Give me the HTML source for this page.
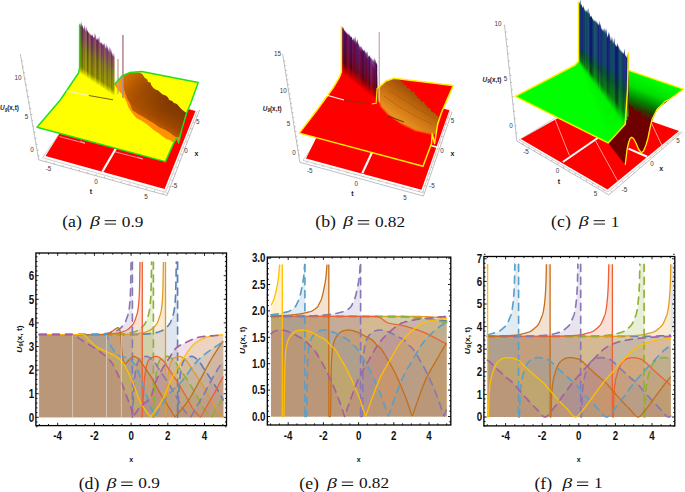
<!DOCTYPE html><html><head><meta charset="utf-8"><style>html,body{margin:0;padding:0;background:#fff;}svg{display:block;}text{font-family:"Liberation Sans",sans-serif;}</style></head><body>
<svg width="685" height="492" viewBox="0 0 685 492">
<defs>
<linearGradient id="wa1" x1="0" y1="0" x2="0" y2="1"><stop offset="0" stop-color="#f0e4f0"/><stop offset="0.05" stop-color="#6a1a70"/><stop offset="0.28" stop-color="#683058"/><stop offset="0.5" stop-color="#6a5a20"/><stop offset="0.86" stop-color="#7c7800"/><stop offset="0.95" stop-color="#c8c800"/><stop offset="1" stop-color="#ffff00"/></linearGradient>
<linearGradient id="wa2" x1="0" y1="0" x2="0" y2="1"><stop offset="0" stop-color="#f4ecf4"/><stop offset="0.05" stop-color="#7a3080"/><stop offset="0.28" stop-color="#784868"/><stop offset="0.5" stop-color="#7c7030"/><stop offset="0.86" stop-color="#909000"/><stop offset="0.95" stop-color="#d4d400"/><stop offset="1" stop-color="#ffff00"/></linearGradient>
<linearGradient id="wa3" x1="0" y1="0" x2="0" y2="1"><stop offset="0" stop-color="#e8dce8"/><stop offset="0.05" stop-color="#5a1060"/><stop offset="0.28" stop-color="#582448"/><stop offset="0.5" stop-color="#5a4c14"/><stop offset="0.86" stop-color="#6c6800"/><stop offset="0.95" stop-color="#bcbc00"/><stop offset="1" stop-color="#ffff00"/></linearGradient>
<linearGradient id="wb1" x1="0" y1="0" x2="0" y2="1"><stop offset="0" stop-color="#e8d8e8"/><stop offset="0.05" stop-color="#5a1a6e"/><stop offset="0.45" stop-color="#5a1450"/><stop offset="0.72" stop-color="#6a0a20"/><stop offset="0.88" stop-color="#c00000"/><stop offset="1" stop-color="#ff0000"/></linearGradient>
<linearGradient id="wb2" x1="0" y1="0" x2="0" y2="1"><stop offset="0" stop-color="#f0e0f0"/><stop offset="0.05" stop-color="#6a2a7c"/><stop offset="0.45" stop-color="#6a205c"/><stop offset="0.72" stop-color="#7a1028"/><stop offset="0.88" stop-color="#d00000"/><stop offset="1" stop-color="#ff0000"/></linearGradient>
<linearGradient id="wb3" x1="0" y1="0" x2="0" y2="1"><stop offset="0" stop-color="#dccce0"/><stop offset="0.05" stop-color="#4a0c5e"/><stop offset="0.45" stop-color="#4a0a40"/><stop offset="0.72" stop-color="#580418"/><stop offset="0.88" stop-color="#b00000"/><stop offset="1" stop-color="#ff0000"/></linearGradient>
<linearGradient id="wc1" gradientUnits="userSpaceOnUse" x1="602.5" y1="72.5" x2="587.9" y2="84.5"><stop offset="0" stop-color="#0a1a70"/><stop offset="0.35" stop-color="#0a3a40"/><stop offset="0.7" stop-color="#0a6a10"/><stop offset="1" stop-color="#00ff00"/></linearGradient>
<linearGradient id="wc2" gradientUnits="userSpaceOnUse" x1="602.5" y1="72.5" x2="587.9" y2="84.5"><stop offset="0" stop-color="#1a2a80"/><stop offset="0.35" stop-color="#104a48"/><stop offset="0.7" stop-color="#107a18"/><stop offset="1" stop-color="#00ff00"/></linearGradient>
<linearGradient id="wc3" gradientUnits="userSpaceOnUse" x1="602.5" y1="72.5" x2="587.9" y2="84.5"><stop offset="0" stop-color="#000c60"/><stop offset="0.35" stop-color="#002a30"/><stop offset="0.7" stop-color="#005a08"/><stop offset="1" stop-color="#00ff00"/></linearGradient>
<linearGradient id="humpA" gradientUnits="userSpaceOnUse" x1="146" y1="122" x2="162" y2="96"><stop offset="0" stop-color="#c85e00"/><stop offset="0.3" stop-color="#a04800"/><stop offset="0.65" stop-color="#8a3e00"/><stop offset="1" stop-color="#7e3800"/></linearGradient>
<linearGradient id="humpB" gradientUnits="userSpaceOnUse" x1="398" y1="118" x2="416" y2="94"><stop offset="0" stop-color="#e89020"/><stop offset="0.5" stop-color="#c87010"/><stop offset="1" stop-color="#a05008"/></linearGradient>
<linearGradient id="greenR" gradientUnits="userSpaceOnUse" x1="655" y1="80" x2="640" y2="118"><stop offset="0" stop-color="#00ff00"/><stop offset="0.35" stop-color="#00e000"/><stop offset="0.6" stop-color="#008a00"/><stop offset="0.8" stop-color="#2a3a00"/><stop offset="1" stop-color="#6e0000"/></linearGradient>
<linearGradient id="humpA2" gradientUnits="userSpaceOnUse" x1="126" y1="76" x2="160" y2="112"><stop offset="0" stop-color="#e07400" stop-opacity="0.9"/><stop offset="0.45" stop-color="#c06000" stop-opacity="0.45"/><stop offset="1" stop-color="#c06000" stop-opacity="0"/></linearGradient>
</defs>
<g fill="none" stroke-width="0.55">
<polyline points="20.3,54.0 38.7,159.8 167.0,195.5 199.6,110.0" stroke="#8a8a8a"/>
<polyline points="60.0,133.0 42.5,157.8 165.5,192.2 197.2,111.0" stroke="#a8a8a8"/>
</g>
<g stroke="#8a8a8a" stroke-width="0.5">
<line x1="21.5" y1="61.0" x2="23.1" y2="61.0"/>
<line x1="22.5" y1="66.9" x2="24.1" y2="66.9"/>
<line x1="23.6" y1="72.9" x2="25.2" y2="72.9"/>
<line x1="24.6" y1="78.8" x2="26.2" y2="78.8"/>
<line x1="25.6" y1="84.8" x2="27.2" y2="84.8"/>
<line x1="26.7" y1="90.7" x2="28.3" y2="90.7"/>
<line x1="27.7" y1="96.6" x2="29.3" y2="96.6"/>
<line x1="28.7" y1="102.6" x2="30.3" y2="102.6"/>
<line x1="29.8" y1="108.5" x2="31.4" y2="108.5"/>
<line x1="30.8" y1="114.4" x2="32.4" y2="114.4"/>
<line x1="31.8" y1="120.4" x2="33.4" y2="120.4"/>
<line x1="32.8" y1="126.3" x2="34.4" y2="126.3"/>
<line x1="33.9" y1="132.2" x2="35.5" y2="132.2"/>
<line x1="34.9" y1="138.2" x2="36.5" y2="138.2"/>
<line x1="35.9" y1="144.1" x2="37.5" y2="144.1"/>
<line x1="37.0" y1="150.1" x2="38.6" y2="150.1"/>
<line x1="38.0" y1="156.0" x2="39.6" y2="156.0"/>
<line x1="46.0" y1="162.0" x2="46.0" y2="160.4"/>
<line x1="54.4" y1="164.3" x2="54.4" y2="162.7"/>
<line x1="62.7" y1="166.6" x2="62.7" y2="165.0"/>
<line x1="71.1" y1="168.9" x2="71.1" y2="167.3"/>
<line x1="79.4" y1="171.1" x2="79.4" y2="169.5"/>
<line x1="87.8" y1="173.4" x2="87.8" y2="171.8"/>
<line x1="96.1" y1="175.7" x2="96.1" y2="174.1"/>
<line x1="104.5" y1="178.0" x2="104.5" y2="176.4"/>
<line x1="112.9" y1="180.3" x2="112.9" y2="178.7"/>
<line x1="121.2" y1="182.6" x2="121.2" y2="181.0"/>
<line x1="129.6" y1="184.9" x2="129.6" y2="183.3"/>
<line x1="137.9" y1="187.1" x2="137.9" y2="185.5"/>
<line x1="146.3" y1="189.4" x2="146.3" y2="187.8"/>
<line x1="154.6" y1="191.7" x2="154.6" y2="190.1"/>
<line x1="163.0" y1="194.0" x2="163.0" y2="192.4"/>
<line x1="168.0" y1="193.0" x2="166.4" y2="193.0"/>
<line x1="170.4" y1="186.6" x2="168.8" y2="186.6"/>
<line x1="172.8" y1="180.2" x2="171.2" y2="180.2"/>
<line x1="175.2" y1="173.8" x2="173.7" y2="173.8"/>
<line x1="177.7" y1="167.3" x2="176.1" y2="167.3"/>
<line x1="180.1" y1="160.9" x2="178.5" y2="160.9"/>
<line x1="182.5" y1="154.5" x2="180.9" y2="154.5"/>
<line x1="184.9" y1="148.1" x2="183.3" y2="148.1"/>
<line x1="187.3" y1="141.7" x2="185.7" y2="141.7"/>
<line x1="189.8" y1="135.2" x2="188.2" y2="135.2"/>
<line x1="192.2" y1="128.8" x2="190.6" y2="128.8"/>
<line x1="194.6" y1="122.4" x2="193.0" y2="122.4"/>
<line x1="197.0" y1="116.0" x2="195.4" y2="116.0"/>
</g>
<polygon points="45.5,156.0 164.6,189.0 195.5,111.0 92.0,82.0" fill="#ff0000"/>
<line x1="120" y1="141.5" x2="102.4" y2="171.6" stroke="#fff" stroke-width="2.1"/>
<polyline points="59.6,136.6 85.0,143.3 80.0,141.0" stroke="#ffc8c8" stroke-width="0.7" fill="none"/>
<polyline points="115.0,151.8 142.7,159.0 137.0,157.0" stroke="#ffc8c8" stroke-width="0.7" fill="none"/>
<polygon points="37.0,127.3 60.3,100.0 78.5,73.0 79.6,68.0 79.6,24.4 114.3,57.0 114.3,84.5 122.0,76.0 129.5,72.6 141.8,71.6 198.2,82.6 191.2,102.0 186.5,113.5 182.0,128.6 178.6,143.1 176.7,137.8 173.4,143.7 165.4,161.6" fill="#ffff00"/>
<polygon points="79.60,73.27 79.60,26.25 80.01,21.80 80.58,26.25 80.58,73.27" fill="url(#wa3)"/>
<polygon points="80.43,73.82 80.43,26.95 80.84,24.16 81.40,26.95 81.40,73.82" fill="url(#wa3)"/>
<polygon points="81.25,74.37 81.25,27.65 81.67,20.66 82.23,27.65 82.23,74.37" fill="url(#wa3)"/>
<polygon points="82.08,74.92 82.08,28.34 82.49,23.68 83.05,28.34 83.05,74.92" fill="url(#wa3)"/>
<polygon points="82.90,75.46 82.90,29.04 83.32,27.51 83.88,29.04 83.88,75.46" fill="url(#wa2)"/>
<polygon points="83.73,76.01 83.73,29.74 84.14,24.14 84.71,29.74 84.71,76.01" fill="url(#wa1)"/>
<polygon points="84.56,76.56 84.56,30.44 84.97,25.80 85.53,30.44 85.53,76.56" fill="url(#wa1)"/>
<polygon points="85.38,77.11 85.38,31.14 85.80,29.41 86.36,31.14 86.36,77.11" fill="url(#wa2)"/>
<polygon points="86.21,77.65 86.21,31.83 86.62,25.48 87.19,31.83 87.19,77.65" fill="url(#wa2)"/>
<polygon points="87.04,78.20 87.04,32.53 87.45,28.63 88.01,32.53 88.01,78.20" fill="url(#wa3)"/>
<polygon points="87.86,78.75 87.86,33.23 88.27,30.98 88.84,33.23 88.84,78.75" fill="url(#wa3)"/>
<polygon points="88.69,79.30 88.69,33.93 89.10,31.82 89.66,33.93 89.66,79.30" fill="url(#wa2)"/>
<polygon points="89.51,79.85 89.51,34.63 89.93,32.66 90.49,34.63 90.49,79.85" fill="url(#wa2)"/>
<polygon points="90.34,80.39 90.34,35.33 90.75,33.44 91.32,35.33 91.32,80.39" fill="url(#wa1)"/>
<polygon points="91.17,80.94 91.17,36.02 91.58,34.21 92.14,36.02 92.14,80.94" fill="url(#wa3)"/>
<polygon points="91.99,81.49 91.99,36.72 92.41,33.44 92.97,36.72 92.97,81.49" fill="url(#wa1)"/>
<polygon points="92.82,82.04 92.82,37.42 93.23,35.92 93.80,37.42 93.80,82.04" fill="url(#wa1)"/>
<polygon points="93.65,82.58 93.65,38.12 94.06,36.04 94.62,38.12 94.62,82.58" fill="url(#wa1)"/>
<polygon points="94.47,83.13 94.47,38.82 94.88,31.67 95.45,38.82 95.45,83.13" fill="url(#wa1)"/>
<polygon points="95.30,83.68 95.30,39.51 95.71,33.13 96.27,39.51 96.27,83.68" fill="url(#wa2)"/>
<polygon points="96.12,84.23 96.12,40.21 96.54,37.66 97.10,40.21 97.10,84.23" fill="url(#wa1)"/>
<polygon points="96.95,84.77 96.95,40.91 97.36,37.04 97.93,40.91 97.93,84.77" fill="url(#wa3)"/>
<polygon points="97.78,85.32 97.78,41.61 98.19,37.14 98.75,41.61 98.75,85.32" fill="url(#wa1)"/>
<polygon points="98.60,85.87 98.60,42.31 99.02,35.33 99.58,42.31 99.58,85.87" fill="url(#wa3)"/>
<polygon points="99.43,86.42 99.43,43.01 99.84,40.98 100.40,43.01 100.40,86.42" fill="url(#wa2)"/>
<polygon points="100.25,86.96 100.25,43.70 100.67,41.22 101.23,43.70 101.23,86.96" fill="url(#wa2)"/>
<polygon points="101.08,87.51 101.08,44.40 101.49,41.30 102.06,44.40 102.06,87.51" fill="url(#wa1)"/>
<polygon points="101.91,88.06 101.91,45.10 102.32,42.79 102.88,45.10 102.88,88.06" fill="url(#wa2)"/>
<polygon points="102.73,88.61 102.73,45.80 103.15,43.31 103.71,45.80 103.71,88.61" fill="url(#wa3)"/>
<polygon points="103.56,89.15 103.56,46.50 103.97,42.30 104.54,46.50 104.54,89.15" fill="url(#wa3)"/>
<polygon points="104.39,89.70 104.39,47.20 104.80,42.35 105.36,47.20 105.36,89.70" fill="url(#wa2)"/>
<polygon points="105.21,90.25 105.21,48.02 105.62,46.42 106.19,48.02 106.19,90.25" fill="url(#wa2)"/>
<polygon points="106.04,90.80 106.04,49.02 106.45,43.07 107.01,49.02 107.01,90.80" fill="url(#wa2)"/>
<polygon points="106.86,91.35 106.86,50.02 107.28,45.03 107.84,50.02 107.84,91.35" fill="url(#wa1)"/>
<polygon points="107.69,91.89 107.69,51.01 108.10,47.51 108.67,51.01 108.67,91.89" fill="url(#wa3)"/>
<polygon points="108.52,92.44 108.52,52.01 108.93,50.07 109.49,52.01 109.49,92.44" fill="url(#wa2)"/>
<polygon points="109.34,92.99 109.34,53.01 109.76,45.73 110.32,53.01 110.32,92.99" fill="url(#wa1)"/>
<polygon points="110.17,93.54 110.17,54.01 110.58,46.96 111.15,54.01 111.15,93.54" fill="url(#wa2)"/>
<polygon points="111.00,94.08 111.00,55.01 111.41,48.85 111.97,55.01 111.97,94.08" fill="url(#wa1)"/>
<polygon points="111.82,94.63 111.82,56.00 112.23,52.06 112.80,56.00 112.80,94.63" fill="url(#wa2)"/>
<polygon points="112.65,95.18 112.65,57.00 113.06,54.17 113.62,57.00 113.62,95.18" fill="url(#wa3)"/>
<polygon points="113.47,95.73 113.47,58.00 113.89,51.87 114.45,58.00 114.45,95.73" fill="url(#wa2)"/>
<polygon points="114.3,84.5 122.0,76.0 129.5,72.6 139.4,72.8 142.5,74.6 144.4,77.8 147.3,79.8 147.7,82.1 150.4,82.8 151.0,85.0 152.8,87.6 155.1,89.4 158.0,90.5 160.2,92.6 162.5,94.5 165.4,95.6 167.8,97.2 169.2,99.9 172.0,101.0 173.9,103.1 176.8,103.9 178.6,106.1 180.7,108.4 183.0,110.6 185.6,112.4 186.5,112.8 182.0,128.6 178.6,143.1 176.7,137.8 173.4,143.7 174.7,141.8 172.4,141.9 170.7,140.4 166.4,139.1 162.8,136.5 158.3,133.1 153.6,129.9 149.6,126.6 145.6,123.3 141.0,120.6 136.4,118.0 132.2,112.9 128.5,107.4 126.6,102.1 124.0,97.0 121.2,93.3 118.0,90.0" fill="#ff9200"/>
<polygon points="123.0,77.0 129.5,72.8 139.4,72.8 142.5,74.6 144.4,77.8 147.3,79.8 147.7,82.1 150.4,82.8 151.0,85.0 152.8,87.6 155.1,89.4 158.0,90.5 160.2,92.6 162.5,94.5 165.4,95.6 167.8,97.2 169.2,99.9 172.0,101.0 173.9,103.1 176.8,103.9 178.6,106.1 180.7,108.4 183.0,110.6 185.6,112.4 186.3,112.8 182.0,128.6 179.0,137.0 177.0,137.2 175.8,137.1 174.7,136.5 170.2,133.0 165.4,129.9 159.1,127.3 153.6,123.3 148.2,120.1 143.0,116.7 137.5,113.7 132.4,110.1 130.4,103.9 127.2,98.2 124.9,91.7 123.2,85.0" fill="url(#humpA)"/>
<polygon points="123.0,77.0 129.5,72.8 139.4,72.8 142.5,74.6 144.4,77.8 147.3,79.8 147.7,82.1 150.4,82.8 151.0,85.0 152.8,87.6 155.1,89.4 158.0,90.5 160.2,92.6 162.5,94.5 165.4,95.6 167.8,97.2 169.2,99.9 172.0,101.0 173.9,103.1 176.8,103.9 178.6,106.1 180.7,108.4 183.0,110.6 185.6,112.4 186.3,112.8 182.0,128.6 179.0,137.0 177.0,137.2 175.8,137.1 174.7,136.5 170.2,133.0 165.4,129.9 159.1,127.3 153.6,123.3 148.2,120.1 143.0,116.7 137.5,113.7 132.4,110.1 130.4,103.9 127.2,98.2 124.9,91.7 123.2,85.0" fill="url(#humpA2)"/>
<line x1="118" y1="58.9" x2="118" y2="94" stroke="#c4a28c" stroke-width="1.3"/>
<line x1="122.9" y1="35.1" x2="122.9" y2="98" stroke="#b88a96" stroke-width="1.6"/>
<polyline points="79.6,24.4 79.6,68.0 78.5,73.0 60.3,100.0 37.0,127.3 165.4,161.6 173.4,143.7 176.7,137.8 178.6,143.1 182.0,128.6 186.5,113.5 191.2,102.0 198.2,82.6 141.8,71.6 129.5,72.6 122.0,76.0 114.3,84.5" fill="none" stroke="#1fe01f" stroke-width="1.5" stroke-linejoin="round"/>
<polyline points="66.4,90.9 88.8,95.5" stroke="#f4f4e0" stroke-width="1" fill="none"/>
<polyline points="88.8,95.5 113,99.8" stroke="#5a3a00" stroke-width="0.8" fill="none"/>
<g font-size="6.3" fill="#3a3a3a" text-anchor="middle">
<text x="18" y="80.2">10</text>
<text x="26.5" y="119.2">5</text>
<text x="32" y="152.2">0</text>
<text x="48.5" y="171.2">-5</text>
<text x="96" y="184.2">0</text>
<text x="146" y="198.6">5</text>
<text x="197.8" y="123.5">5</text>
<text x="185.9" y="153.0">0</text>
<text x="174.4" y="187.5">-5</text>
</g>
<text x="91" y="193.5" font-size="7" font-weight="bold" fill="#222" text-anchor="middle">t</text>
<text x="196.5" y="156" font-size="7" font-weight="bold" fill="#222" text-anchor="middle">x</text>
<text x="0" y="110.3" font-size="6.4" font-weight="bold" fill="#222" font-style="italic">U<tspan font-size="4.6" dy="1.6">9</tspan><tspan dy="-1.6" font-style="normal">(x,t)</tspan></text>
<g fill="none" stroke-width="0.55">
<polyline points="282.7,54.2 299.8,162.3 423.4,196.0 452.0,112.0" stroke="#8a8a8a"/>
<polyline points="320.0,137.0 303.0,160.3 422.5,192.6 450.0,111.3" stroke="#a8a8a8"/>
</g>
<g stroke="#8a8a8a" stroke-width="0.5">
<line x1="283.8" y1="61.0" x2="285.4" y2="61.0"/>
<line x1="284.5" y1="65.7" x2="286.1" y2="65.7"/>
<line x1="285.3" y1="70.4" x2="286.9" y2="70.4"/>
<line x1="286.0" y1="75.1" x2="287.6" y2="75.1"/>
<line x1="286.8" y1="79.8" x2="288.4" y2="79.8"/>
<line x1="287.5" y1="84.5" x2="289.1" y2="84.5"/>
<line x1="288.2" y1="89.2" x2="289.8" y2="89.2"/>
<line x1="289.0" y1="93.9" x2="290.6" y2="93.9"/>
<line x1="289.7" y1="98.6" x2="291.3" y2="98.6"/>
<line x1="290.5" y1="103.3" x2="292.1" y2="103.3"/>
<line x1="291.2" y1="108.0" x2="292.8" y2="108.0"/>
<line x1="291.9" y1="112.7" x2="293.5" y2="112.7"/>
<line x1="292.7" y1="117.4" x2="294.3" y2="117.4"/>
<line x1="293.4" y1="122.1" x2="295.0" y2="122.1"/>
<line x1="294.2" y1="126.8" x2="295.8" y2="126.8"/>
<line x1="294.9" y1="131.5" x2="296.5" y2="131.5"/>
<line x1="295.6" y1="136.2" x2="297.2" y2="136.2"/>
<line x1="296.4" y1="140.9" x2="298.0" y2="140.9"/>
<line x1="297.1" y1="145.6" x2="298.7" y2="145.6"/>
<line x1="297.9" y1="150.3" x2="299.5" y2="150.3"/>
<line x1="298.6" y1="155.0" x2="300.2" y2="155.0"/>
<line x1="307.0" y1="163.0" x2="307.0" y2="161.4"/>
<line x1="315.0" y1="165.1" x2="315.0" y2="163.5"/>
<line x1="323.0" y1="167.1" x2="323.0" y2="165.5"/>
<line x1="331.0" y1="169.2" x2="331.0" y2="167.6"/>
<line x1="339.0" y1="171.3" x2="339.0" y2="169.7"/>
<line x1="347.0" y1="173.4" x2="347.0" y2="171.8"/>
<line x1="355.0" y1="175.4" x2="355.0" y2="173.8"/>
<line x1="363.0" y1="177.5" x2="363.0" y2="175.9"/>
<line x1="371.0" y1="179.6" x2="371.0" y2="178.0"/>
<line x1="379.0" y1="181.6" x2="379.0" y2="180.0"/>
<line x1="387.0" y1="183.7" x2="387.0" y2="182.1"/>
<line x1="395.0" y1="185.8" x2="395.0" y2="184.2"/>
<line x1="403.0" y1="187.9" x2="403.0" y2="186.3"/>
<line x1="411.0" y1="189.9" x2="411.0" y2="188.3"/>
<line x1="419.0" y1="192.0" x2="419.0" y2="190.4"/>
<line x1="424.0" y1="192.0" x2="422.4" y2="192.0"/>
<line x1="426.1" y1="185.8" x2="424.5" y2="185.8"/>
<line x1="428.2" y1="179.7" x2="426.6" y2="179.7"/>
<line x1="430.2" y1="173.5" x2="428.6" y2="173.5"/>
<line x1="432.3" y1="167.3" x2="430.7" y2="167.3"/>
<line x1="434.4" y1="161.2" x2="432.8" y2="161.2"/>
<line x1="436.5" y1="155.0" x2="434.9" y2="155.0"/>
<line x1="438.6" y1="148.8" x2="437.0" y2="148.8"/>
<line x1="440.7" y1="142.7" x2="439.1" y2="142.7"/>
<line x1="442.8" y1="136.5" x2="441.1" y2="136.5"/>
<line x1="444.8" y1="130.3" x2="443.2" y2="130.3"/>
<line x1="446.9" y1="124.2" x2="445.3" y2="124.2"/>
<line x1="449.0" y1="118.0" x2="447.4" y2="118.0"/>
</g>
<polygon points="306.0,158.5 421.5,189.8 449.4,110.3 345.0,80.0" fill="#ff0000"/>
<line x1="375" y1="146" x2="362.3" y2="173.2" stroke="#fff" stroke-width="2.1"/>
<line x1="431" y1="145.5" x2="438" y2="147.5" stroke="#fff" stroke-width="1.6"/>
<polygon points="299.3,133.1 317.0,110.0 333.0,88.0 339.5,77.0 341.4,72.0 341.4,26.4 372.5,64.8 377.1,75.0 377.5,88.4 386.0,81.0 393.8,78.3 453.2,85.6 441.3,113.0 437.7,124.0 436.5,131.0 434.6,143.5 432.2,134.0 431.5,143.5 423.0,166.2" fill="#ff0000"/>
<polygon points="341.40,73.47 341.40,28.54 342.00,25.93 342.74,28.54 342.74,73.47" fill="url(#wb1)"/>
<polygon points="342.59,74.40 342.59,29.82 343.19,26.83 343.93,29.82 343.93,74.40" fill="url(#wb1)"/>
<polygon points="343.78,75.33 343.78,31.10 344.38,29.48 345.12,31.10 345.12,75.33" fill="url(#wb3)"/>
<polygon points="344.97,76.27 344.97,32.38 345.56,30.71 346.31,32.38 346.31,76.27" fill="url(#wb3)"/>
<polygon points="346.16,77.20 346.16,33.66 346.75,32.08 347.50,33.66 347.50,77.20" fill="url(#wb3)"/>
<polygon points="347.35,78.13 347.35,34.94 347.94,32.84 348.69,34.94 348.69,78.13" fill="url(#wb1)"/>
<polygon points="348.54,79.07 348.54,36.22 349.13,33.01 349.88,36.22 349.88,79.07" fill="url(#wb1)"/>
<polygon points="349.73,80.00 349.73,37.50 350.32,35.29 351.07,37.50 351.07,80.00" fill="url(#wb3)"/>
<polygon points="350.92,80.93 350.92,38.78 351.52,35.62 352.26,38.78 352.26,80.93" fill="url(#wb3)"/>
<polygon points="352.11,81.87 352.11,40.06 352.71,38.30 353.45,40.06 353.45,81.87" fill="url(#wb1)"/>
<polygon points="353.30,82.80 353.30,41.34 353.90,36.84 354.64,41.34 354.64,82.80" fill="url(#wb3)"/>
<polygon points="354.49,83.73 354.49,42.62 355.09,35.58 355.83,42.62 355.83,83.73" fill="url(#wb3)"/>
<polygon points="355.68,84.67 355.68,43.90 356.28,39.71 357.02,43.90 357.02,84.67" fill="url(#wb1)"/>
<polygon points="356.87,85.60 356.87,45.18 357.47,37.89 358.21,45.18 358.21,85.60" fill="url(#wb1)"/>
<polygon points="358.06,86.53 358.06,46.46 358.66,42.47 359.40,46.46 359.40,86.53" fill="url(#wb1)"/>
<polygon points="359.25,87.47 359.25,47.74 359.85,45.30 360.59,47.74 360.59,87.47" fill="url(#wb1)"/>
<polygon points="360.44,88.40 360.44,49.02 361.04,45.13 361.78,49.02 361.78,88.40" fill="url(#wb3)"/>
<polygon points="361.63,89.33 361.63,50.30 362.23,47.77 362.97,50.30 362.97,89.33" fill="url(#wb3)"/>
<polygon points="362.82,90.27 362.82,51.58 363.42,49.62 364.16,51.58 364.16,90.27" fill="url(#wb3)"/>
<polygon points="364.01,91.20 364.01,52.86 364.61,48.77 365.35,52.86 365.35,91.20" fill="url(#wb1)"/>
<polygon points="365.20,92.13 365.20,54.14 365.80,51.28 366.54,54.14 366.54,92.13" fill="url(#wb3)"/>
<polygon points="366.39,93.07 366.39,55.42 366.99,50.31 367.73,55.42 367.73,93.07" fill="url(#wb3)"/>
<polygon points="367.58,94.00 367.58,56.70 368.18,55.11 368.92,56.70 368.92,94.00" fill="url(#wb1)"/>
<polygon points="368.77,94.93 368.77,57.98 369.37,54.38 370.11,57.98 370.11,94.93" fill="url(#wb3)"/>
<polygon points="369.96,95.87 369.96,59.26 370.56,56.08 371.30,59.26 371.30,95.87" fill="url(#wb2)"/>
<polygon points="371.15,96.80 371.15,60.54 371.75,57.13 372.49,60.54 372.49,96.80" fill="url(#wb2)"/>
<polygon points="372.34,97.73 372.34,61.82 372.94,59.02 373.68,61.82 373.68,97.73" fill="url(#wb1)"/>
<polygon points="373.53,98.67 373.53,63.10 374.13,57.35 374.87,63.10 374.87,98.67" fill="url(#wb3)"/>
<polygon points="374.72,99.60 374.72,64.38 375.32,58.75 376.06,64.38 376.06,99.60" fill="url(#wb1)"/>
<polygon points="375.91,100.53 375.91,65.66 376.51,61.55 377.25,65.66 377.25,100.53" fill="url(#wb3)"/>
<polygon points="377.5,88.4 386.0,81.0 393.8,78.3 399.3,80.1 400.9,80.6 401.7,82.1 403.5,82.5 403.6,84.8 405.8,84.7 406.5,86.3 407.1,88.1 409.2,88.1 410.2,89.3 411.0,91.8 414.3,91.7 414.7,94.6 416.8,95.8 417.6,98.2 420.2,98.9 420.9,101.4 423.9,101.6 424.9,103.9 426.3,105.5 427.4,107.5 429.7,108.1 430.8,110.0 432.0,111.9 434.3,112.5 435.5,114.3 437.0,115.7 439.0,116.7 437.7,124.0 436.5,131.0 434.0,134.5 434.0,134.5 415.7,130.5 401.1,123.5 388.3,114.5 381.0,106.5 378.0,98.0" fill="url(#humpB)"/>
<polyline points="434.0,134.5 415.7,130.5 401.1,123.5 388.3,114.5 381.0,106.5 378.0,98.0" fill="none" stroke="#ff5a10" stroke-width="2" stroke-opacity="0.6"/>
<g stroke="#a05010" stroke-width="1" stroke-opacity="0.45" fill="none"><polyline points="384,96 398,106 415,116 432,124"/><polyline points="388,90 404,100 420,110 434,118"/></g>
<polyline points="388,116 396,119 404,122" stroke="#503000" stroke-width="0.9" fill="none"/>
<line x1="379.3" y1="31.9" x2="379.3" y2="102" stroke="#d0b0c0" stroke-width="1.4"/>
<polyline points="341.4,26.4 341.4,72.0 339.5,77.0 333.0,88.0 317.0,110.0 299.3,133.1 423.0,166.2 431.5,143.5 432.2,134.0 434.6,143.5 436.5,131.0 437.7,124.0 441.3,113.0 453.2,85.6 393.8,78.3 386.0,81.0 377.5,88.4" fill="none" stroke="#ffee00" stroke-width="1.5" stroke-linejoin="round"/>
<polyline points="371.6,104 376.2,103.2 377.1,88" fill="none" stroke="#ffdd00" stroke-width="1.2"/>
<polyline points="326,95 344,100" stroke="#fff" stroke-width="1.1" fill="none"/>
<polyline points="344,100 372,104" stroke="#8a3000" stroke-width="0.8" fill="none"/>
<g font-size="6.3" fill="#3a3a3a" text-anchor="middle">
<text x="277.6" y="55.8">15</text>
<text x="283.3" y="93.4">10</text>
<text x="288.4" y="126.1">5</text>
<text x="294" y="154.8">0</text>
<text x="309.7" y="173.2">-5</text>
<text x="356.2" y="185.6">0</text>
<text x="405.1" y="199.5">5</text>
<text x="431.9" y="188.2">-5</text>
<text x="441.9" y="152.7">0</text>
<text x="452.5" y="122.7">5</text>
</g>
<text x="352.3" y="195.8" font-size="7" font-weight="bold" fill="#222" text-anchor="middle">t</text>
<text x="452.4" y="155.6" font-size="7" font-weight="bold" fill="#222" text-anchor="middle">x</text>
<text x="262.8" y="110.5" font-size="6.4" font-weight="bold" fill="#222" font-style="italic">U<tspan font-size="4.6" dy="1.6">9</tspan><tspan dy="-1.6" font-style="normal">(x,t)</tspan></text>
<g fill="none" stroke-width="0.55">
<polyline points="504.5,24.7 516.8,141.0 608.8,194.9 682.4,131.8" stroke="#8a8a8a"/>
<polyline points="556.0,117.5 519.0,140.0 608.0,192.0 680.5,131.5" stroke="#a8a8a8"/>
</g>
<g stroke="#8a8a8a" stroke-width="0.5">
<line x1="505.5" y1="32.0" x2="507.1" y2="32.0"/>
<line x1="506.2" y1="39.2" x2="507.8" y2="39.2"/>
<line x1="507.0" y1="46.4" x2="508.6" y2="46.4"/>
<line x1="507.7" y1="53.6" x2="509.3" y2="53.6"/>
<line x1="508.4" y1="60.9" x2="510.0" y2="60.9"/>
<line x1="509.2" y1="68.1" x2="510.8" y2="68.1"/>
<line x1="509.9" y1="75.3" x2="511.5" y2="75.3"/>
<line x1="510.6" y1="82.5" x2="512.2" y2="82.5"/>
<line x1="511.4" y1="89.7" x2="513.0" y2="89.7"/>
<line x1="512.1" y1="96.9" x2="513.7" y2="96.9"/>
<line x1="512.9" y1="104.1" x2="514.5" y2="104.1"/>
<line x1="513.6" y1="111.4" x2="515.2" y2="111.4"/>
<line x1="514.3" y1="118.6" x2="515.9" y2="118.6"/>
<line x1="515.1" y1="125.8" x2="516.7" y2="125.8"/>
<line x1="515.8" y1="133.0" x2="517.4" y2="133.0"/>
<line x1="523.0" y1="145.0" x2="523.0" y2="143.4"/>
<line x1="528.8" y1="148.3" x2="528.8" y2="146.7"/>
<line x1="534.6" y1="151.6" x2="534.6" y2="150.0"/>
<line x1="540.4" y1="154.9" x2="540.4" y2="153.3"/>
<line x1="546.1" y1="158.1" x2="546.1" y2="156.5"/>
<line x1="551.9" y1="161.4" x2="551.9" y2="159.8"/>
<line x1="557.7" y1="164.7" x2="557.7" y2="163.1"/>
<line x1="563.5" y1="168.0" x2="563.5" y2="166.4"/>
<line x1="569.3" y1="171.3" x2="569.3" y2="169.7"/>
<line x1="575.1" y1="174.6" x2="575.1" y2="173.0"/>
<line x1="580.9" y1="177.9" x2="580.9" y2="176.3"/>
<line x1="586.6" y1="181.1" x2="586.6" y2="179.5"/>
<line x1="592.4" y1="184.4" x2="592.4" y2="182.8"/>
<line x1="598.2" y1="187.7" x2="598.2" y2="186.1"/>
<line x1="604.0" y1="191.0" x2="604.0" y2="189.4"/>
<line x1="612.0" y1="192.0" x2="610.8" y2="191.0"/>
<line x1="617.6" y1="187.2" x2="616.4" y2="186.2"/>
<line x1="623.2" y1="182.3" x2="622.0" y2="181.3"/>
<line x1="628.8" y1="177.5" x2="627.5" y2="176.5"/>
<line x1="634.3" y1="172.7" x2="633.1" y2="171.7"/>
<line x1="639.9" y1="167.8" x2="638.7" y2="166.8"/>
<line x1="645.5" y1="163.0" x2="644.3" y2="162.0"/>
<line x1="651.1" y1="158.2" x2="649.9" y2="157.2"/>
<line x1="656.7" y1="153.3" x2="655.5" y2="152.3"/>
<line x1="662.2" y1="148.5" x2="661.0" y2="147.5"/>
<line x1="667.8" y1="143.7" x2="666.6" y2="142.7"/>
<line x1="673.4" y1="138.8" x2="672.2" y2="137.8"/>
<line x1="679.0" y1="134.0" x2="677.8" y2="133.0"/>
</g>
<polygon points="520.8,138.9 607.5,189.6 679.0,131.0 590.0,100.0" fill="#ff0000"/>
<line x1="562.8" y1="162" x2="602" y2="135" stroke="#fff" stroke-width="2.1"/>
<line x1="628.5" y1="148.6" x2="647.2" y2="156.7" stroke="#fff" stroke-width="2.1"/>
<g stroke="#ffd8d8" stroke-width="0.7"><line x1="554.9" y1="119" x2="569.4" y2="155.5"/><line x1="595.6" y1="141" x2="618" y2="181.7"/><line x1="650" y1="120" x2="664" y2="150"/></g>
<polygon points="608.1,142.9 625.2,124.2 626.9,90.0 628.7,70.4 650.0,78.0 670.0,99.0 657.0,109.5 652.1,119.3 650.0,128.0 648.0,138.0 646.0,145.0 643.5,151.0 641.3,152.8 638.5,149.0 636.0,143.0 633.5,138.5 631.7,137.2 630.0,138.5 628.5,143.0 627.0,150.0 625.2,164.9" fill="#6e0000"/>
<polygon points="628.7,70.4 683.5,89.2 670.0,99.0 665.1,101.4 657.0,109.5 652.1,121.0 650.1,121.0 649.1,118.9 646.2,120.8 646.7,115.6 644.0,117.0 641.0,117.2 641.1,113.8 640.8,111.0 637.1,112.0 636.0,110.0 633.8,109.7 633.1,107.6 631.8,106.2 630.0,105.4 628.7,104.0" fill="url(#greenR)"/>
<polygon points="515.2,96.4 575.2,65.0 578.5,61.0 578.5,2.3 626.9,58.3 628.3,60.0 627.5,90.0 625.2,124.2 608.1,142.9" fill="#00ff00"/>
<defs><linearGradient id="gc0" x1="0" y1="0" x2="0" y2="1"><stop offset="0.000" stop-color="#d8dcf0"/><stop offset="0.030" stop-color="#18287b"/><stop offset="0.726" stop-color="#18287b"/><stop offset="0.808" stop-color="#0c3b3e"/><stop offset="0.923" stop-color="#0c6e14"/><stop offset="1.000" stop-color="#00f000"/><stop offset="1.000" stop-color="#00ff00"/></linearGradient><linearGradient id="gc1" x1="0" y1="0" x2="0" y2="1"><stop offset="0.000" stop-color="#d8dcf0"/><stop offset="0.030" stop-color="#162678"/><stop offset="0.712" stop-color="#162678"/><stop offset="0.795" stop-color="#0c383e"/><stop offset="0.911" stop-color="#0c6814"/><stop offset="0.989" stop-color="#00f000"/><stop offset="1.000" stop-color="#00ff00"/></linearGradient><linearGradient id="gc2" x1="0" y1="0" x2="0" y2="1"><stop offset="0.000" stop-color="#d8dcf0"/><stop offset="0.030" stop-color="#19297c"/><stop offset="0.670" stop-color="#19297c"/><stop offset="0.758" stop-color="#0d3c3e"/><stop offset="0.882" stop-color="#0d7015"/><stop offset="0.964" stop-color="#00f000"/><stop offset="1.000" stop-color="#00ff00"/></linearGradient><linearGradient id="gc3" x1="0" y1="0" x2="0" y2="1"><stop offset="0.000" stop-color="#d8dcf0"/><stop offset="0.030" stop-color="#17277a"/><stop offset="0.635" stop-color="#17277a"/><stop offset="0.726" stop-color="#0c393e"/><stop offset="0.854" stop-color="#0c6b14"/><stop offset="0.939" stop-color="#00f000"/><stop offset="1.000" stop-color="#00ff00"/></linearGradient><linearGradient id="gc4" x1="0" y1="0" x2="0" y2="1"><stop offset="0.000" stop-color="#d8dcf0"/><stop offset="0.030" stop-color="#1e2e82"/><stop offset="0.623" stop-color="#1e2e82"/><stop offset="0.712" stop-color="#0e433f"/><stop offset="0.837" stop-color="#0e7d16"/><stop offset="0.920" stop-color="#00f000"/><stop offset="1.000" stop-color="#00ff00"/></linearGradient><linearGradient id="gc5" x1="0" y1="0" x2="0" y2="1"><stop offset="0.000" stop-color="#d8dcf0"/><stop offset="0.030" stop-color="#122273"/><stop offset="0.584" stop-color="#122273"/><stop offset="0.677" stop-color="#0a323d"/><stop offset="0.808" stop-color="#0a5d12"/><stop offset="0.896" stop-color="#00f000"/><stop offset="1.000" stop-color="#00ff00"/></linearGradient><linearGradient id="gc6" x1="0" y1="0" x2="0" y2="1"><stop offset="0.000" stop-color="#d8dcf0"/><stop offset="0.030" stop-color="#1f2f83"/><stop offset="0.561" stop-color="#1f2f83"/><stop offset="0.655" stop-color="#0e443f"/><stop offset="0.787" stop-color="#0e7e16"/><stop offset="0.876" stop-color="#00f000"/><stop offset="1.000" stop-color="#00ff00"/></linearGradient><linearGradient id="gc7" x1="0" y1="0" x2="0" y2="1"><stop offset="0.000" stop-color="#d8dcf0"/><stop offset="0.030" stop-color="#0b1b6b"/><stop offset="0.559" stop-color="#0b1b6b"/><stop offset="0.650" stop-color="#08293c"/><stop offset="0.778" stop-color="#084d10"/><stop offset="0.863" stop-color="#00f000"/><stop offset="1.000" stop-color="#00ff00"/></linearGradient><linearGradient id="gc8" x1="0" y1="0" x2="0" y2="1"><stop offset="0.000" stop-color="#d8dcf0"/><stop offset="0.030" stop-color="#233387"/><stop offset="0.553" stop-color="#233387"/><stop offset="0.642" stop-color="#104940"/><stop offset="0.767" stop-color="#108818"/><stop offset="0.850" stop-color="#00f000"/><stop offset="1.000" stop-color="#00ff00"/></linearGradient><linearGradient id="gc9" x1="0" y1="0" x2="0" y2="1"><stop offset="0.000" stop-color="#d8dcf0"/><stop offset="0.030" stop-color="#1a2a7d"/><stop offset="0.519" stop-color="#1a2a7d"/><stop offset="0.611" stop-color="#0d3d3e"/><stop offset="0.741" stop-color="#0d7115"/><stop offset="0.828" stop-color="#00f000"/><stop offset="1.000" stop-color="#00ff00"/></linearGradient><linearGradient id="gc10" x1="0" y1="0" x2="0" y2="1"><stop offset="0.000" stop-color="#d8dcf0"/><stop offset="0.030" stop-color="#0a1a6a"/><stop offset="0.483" stop-color="#0a1a6a"/><stop offset="0.580" stop-color="#08293c"/><stop offset="0.715" stop-color="#084b10"/><stop offset="0.806" stop-color="#00f000"/><stop offset="1.000" stop-color="#00ff00"/></linearGradient><linearGradient id="gc11" x1="0" y1="0" x2="0" y2="1"><stop offset="0.000" stop-color="#d8dcf0"/><stop offset="0.030" stop-color="#0c1c6c"/><stop offset="0.478" stop-color="#0c1c6c"/><stop offset="0.573" stop-color="#082a3c"/><stop offset="0.706" stop-color="#084e10"/><stop offset="0.795" stop-color="#00f000"/><stop offset="1.000" stop-color="#00ff00"/></linearGradient><linearGradient id="gc12" x1="0" y1="0" x2="0" y2="1"><stop offset="0.000" stop-color="#d8dcf0"/><stop offset="0.030" stop-color="#102071"/><stop offset="0.449" stop-color="#102071"/><stop offset="0.547" stop-color="#0a303d"/><stop offset="0.684" stop-color="#0a5912"/><stop offset="0.775" stop-color="#00f000"/><stop offset="1.000" stop-color="#00ff00"/></linearGradient><linearGradient id="gc13" x1="0" y1="0" x2="0" y2="1"><stop offset="0.000" stop-color="#d8dcf0"/><stop offset="0.030" stop-color="#162678"/><stop offset="0.430" stop-color="#162678"/><stop offset="0.529" stop-color="#0c383e"/><stop offset="0.668" stop-color="#0c6814"/><stop offset="0.760" stop-color="#00f000"/><stop offset="1.000" stop-color="#00ff00"/></linearGradient><linearGradient id="gc14" x1="0" y1="0" x2="0" y2="1"><stop offset="0.000" stop-color="#d8dcf0"/><stop offset="0.030" stop-color="#203084"/><stop offset="0.426" stop-color="#203084"/><stop offset="0.524" stop-color="#0f453f"/><stop offset="0.660" stop-color="#0f8017"/><stop offset="0.751" stop-color="#00f000"/><stop offset="1.000" stop-color="#00ff00"/></linearGradient><linearGradient id="gc15" x1="0" y1="0" x2="0" y2="1"><stop offset="0.000" stop-color="#d8dcf0"/><stop offset="0.030" stop-color="#1a2a7d"/><stop offset="0.415" stop-color="#1a2a7d"/><stop offset="0.512" stop-color="#0d3e3f"/><stop offset="0.649" stop-color="#0d7315"/><stop offset="0.740" stop-color="#00f000"/><stop offset="1.000" stop-color="#00ff00"/></linearGradient><linearGradient id="gc16" x1="0" y1="0" x2="0" y2="1"><stop offset="0.000" stop-color="#d8dcf0"/><stop offset="0.030" stop-color="#1b2b7e"/><stop offset="0.400" stop-color="#1b2b7e"/><stop offset="0.498" stop-color="#0d3f3f"/><stop offset="0.636" stop-color="#0d7415"/><stop offset="0.727" stop-color="#00f000"/><stop offset="1.000" stop-color="#00ff00"/></linearGradient><linearGradient id="gc17" x1="0" y1="0" x2="0" y2="1"><stop offset="0.000" stop-color="#d8dcf0"/><stop offset="0.030" stop-color="#112172"/><stop offset="0.384" stop-color="#112172"/><stop offset="0.484" stop-color="#0a313d"/><stop offset="0.622" stop-color="#0a5c12"/><stop offset="0.715" stop-color="#00f000"/><stop offset="1.000" stop-color="#00ff00"/></linearGradient><linearGradient id="gc18" x1="0" y1="0" x2="0" y2="1"><stop offset="0.000" stop-color="#d8dcf0"/><stop offset="0.030" stop-color="#233388"/><stop offset="0.398" stop-color="#233388"/><stop offset="0.493" stop-color="#104a40"/><stop offset="0.626" stop-color="#108a18"/><stop offset="0.716" stop-color="#00f000"/><stop offset="1.000" stop-color="#00ff00"/></linearGradient><linearGradient id="gc19" x1="0" y1="0" x2="0" y2="1"><stop offset="0.000" stop-color="#d8dcf0"/><stop offset="0.030" stop-color="#1c2c80"/><stop offset="0.377" stop-color="#1c2c80"/><stop offset="0.474" stop-color="#0e403f"/><stop offset="0.610" stop-color="#0e7716"/><stop offset="0.701" stop-color="#00f000"/><stop offset="1.000" stop-color="#00ff00"/></linearGradient><linearGradient id="gc20" x1="0" y1="0" x2="0" y2="1"><stop offset="0.000" stop-color="#d8dcf0"/><stop offset="0.030" stop-color="#102071"/><stop offset="0.342" stop-color="#102071"/><stop offset="0.443" stop-color="#0a303d"/><stop offset="0.585" stop-color="#0a5912"/><stop offset="0.679" stop-color="#00f000"/><stop offset="1.000" stop-color="#00ff00"/></linearGradient><linearGradient id="gc21" x1="0" y1="0" x2="0" y2="1"><stop offset="0.000" stop-color="#d8dcf0"/><stop offset="0.030" stop-color="#0c1c6c"/><stop offset="0.329" stop-color="#0c1c6c"/><stop offset="0.431" stop-color="#092a3c"/><stop offset="0.574" stop-color="#094e11"/><stop offset="0.669" stop-color="#00f000"/><stop offset="1.000" stop-color="#00ff00"/></linearGradient><linearGradient id="gc22" x1="0" y1="0" x2="0" y2="1"><stop offset="0.000" stop-color="#d8dcf0"/><stop offset="0.030" stop-color="#142476"/><stop offset="0.338" stop-color="#142476"/><stop offset="0.437" stop-color="#0b363e"/><stop offset="0.576" stop-color="#0b6413"/><stop offset="0.669" stop-color="#00f000"/><stop offset="1.000" stop-color="#00ff00"/></linearGradient><linearGradient id="gc23" x1="0" y1="0" x2="0" y2="1"><stop offset="0.000" stop-color="#d8dcf0"/><stop offset="0.030" stop-color="#142476"/><stop offset="0.332" stop-color="#142476"/><stop offset="0.431" stop-color="#0b353e"/><stop offset="0.569" stop-color="#0b6313"/><stop offset="0.662" stop-color="#00f000"/><stop offset="1.000" stop-color="#00ff00"/></linearGradient><linearGradient id="gc24" x1="0" y1="0" x2="0" y2="1"><stop offset="0.000" stop-color="#d8dcf0"/><stop offset="0.030" stop-color="#203084"/><stop offset="0.327" stop-color="#203084"/><stop offset="0.426" stop-color="#0f453f"/><stop offset="0.564" stop-color="#0f8017"/><stop offset="0.656" stop-color="#00f000"/><stop offset="1.000" stop-color="#00ff00"/></linearGradient><linearGradient id="gc25" x1="0" y1="0" x2="0" y2="1"><stop offset="0.000" stop-color="#d8dcf0"/><stop offset="0.030" stop-color="#0f1f70"/><stop offset="0.281" stop-color="#0f1f70"/><stop offset="0.385" stop-color="#0a2f3d"/><stop offset="0.531" stop-color="#0a5712"/><stop offset="0.628" stop-color="#00f000"/><stop offset="1.000" stop-color="#00ff00"/></linearGradient><linearGradient id="gc26" x1="0" y1="0" x2="0" y2="1"><stop offset="0.000" stop-color="#d8dcf0"/><stop offset="0.030" stop-color="#162678"/><stop offset="0.310" stop-color="#162678"/><stop offset="0.411" stop-color="#0c383e"/><stop offset="0.553" stop-color="#0c6814"/><stop offset="0.648" stop-color="#00f000"/><stop offset="1.000" stop-color="#00ff00"/></linearGradient><linearGradient id="gc27" x1="0" y1="0" x2="0" y2="1"><stop offset="0.000" stop-color="#d8dcf0"/><stop offset="0.030" stop-color="#142476"/><stop offset="0.316" stop-color="#142476"/><stop offset="0.422" stop-color="#0b363e"/><stop offset="0.569" stop-color="#0b6313"/><stop offset="0.667" stop-color="#00f000"/><stop offset="1.000" stop-color="#00ff00"/></linearGradient><linearGradient id="gc28" x1="0" y1="0" x2="0" y2="1"><stop offset="0.000" stop-color="#d8dcf0"/><stop offset="0.030" stop-color="#1a2a7d"/><stop offset="0.281" stop-color="#1a2a7d"/><stop offset="0.397" stop-color="#0d3d3f"/><stop offset="0.559" stop-color="#0d7215"/><stop offset="0.667" stop-color="#00f000"/><stop offset="1.000" stop-color="#00ff00"/></linearGradient><linearGradient id="gc29" x1="0" y1="0" x2="0" y2="1"><stop offset="0.000" stop-color="#d8dcf0"/><stop offset="0.030" stop-color="#112172"/><stop offset="0.310" stop-color="#112172"/><stop offset="0.427" stop-color="#0a313d"/><stop offset="0.590" stop-color="#0a5b12"/><stop offset="0.699" stop-color="#00f000"/><stop offset="1.000" stop-color="#00ff00"/></linearGradient><linearGradient id="gc30" x1="0" y1="0" x2="0" y2="1"><stop offset="0.000" stop-color="#d8dcf0"/><stop offset="0.030" stop-color="#132374"/><stop offset="0.285" stop-color="#132374"/><stop offset="0.412" stop-color="#0b333d"/><stop offset="0.589" stop-color="#0b5f13"/><stop offset="0.708" stop-color="#00f000"/><stop offset="1.000" stop-color="#00ff00"/></linearGradient><linearGradient id="gc31" x1="0" y1="0" x2="0" y2="1"><stop offset="0.000" stop-color="#d8dcf0"/><stop offset="0.030" stop-color="#1d2d81"/><stop offset="0.327" stop-color="#1d2d81"/><stop offset="0.452" stop-color="#0e423f"/><stop offset="0.627" stop-color="#0e7b16"/><stop offset="0.744" stop-color="#00f000"/><stop offset="1.000" stop-color="#00ff00"/></linearGradient><linearGradient id="gc32" x1="0" y1="0" x2="0" y2="1"><stop offset="0.000" stop-color="#d8dcf0"/><stop offset="0.030" stop-color="#102071"/><stop offset="0.290" stop-color="#102071"/><stop offset="0.429" stop-color="#0a303d"/><stop offset="0.623" stop-color="#0a5a12"/><stop offset="0.752" stop-color="#00f000"/><stop offset="1.000" stop-color="#00ff00"/></linearGradient><linearGradient id="gc33" x1="0" y1="0" x2="0" y2="1"><stop offset="0.000" stop-color="#d8dcf0"/><stop offset="0.030" stop-color="#0c1c6c"/><stop offset="0.292" stop-color="#0c1c6c"/><stop offset="0.437" stop-color="#082a3c"/><stop offset="0.641" stop-color="#084e10"/><stop offset="0.776" stop-color="#00f000"/><stop offset="1.000" stop-color="#00ff00"/></linearGradient><linearGradient id="gc34" x1="0" y1="0" x2="0" y2="1"><stop offset="0.000" stop-color="#d8dcf0"/><stop offset="0.030" stop-color="#0f1f6f"/><stop offset="0.326" stop-color="#0f1f6f"/><stop offset="0.471" stop-color="#092e3d"/><stop offset="0.675" stop-color="#095511"/><stop offset="0.810" stop-color="#00f000"/><stop offset="1.000" stop-color="#00ff00"/></linearGradient><linearGradient id="gc35" x1="0" y1="0" x2="0" y2="1"><stop offset="0.000" stop-color="#d8dcf0"/><stop offset="0.030" stop-color="#152578"/><stop offset="0.316" stop-color="#152578"/><stop offset="0.471" stop-color="#0c373e"/><stop offset="0.688" stop-color="#0c6714"/><stop offset="0.833" stop-color="#00f000"/><stop offset="1.000" stop-color="#00ff00"/></linearGradient><linearGradient id="gc36" x1="0" y1="0" x2="0" y2="1"><stop offset="0.000" stop-color="#d8dcf0"/><stop offset="0.030" stop-color="#1d2d80"/><stop offset="0.303" stop-color="#1d2d80"/><stop offset="0.469" stop-color="#0e413f"/><stop offset="0.702" stop-color="#0e7916"/><stop offset="0.858" stop-color="#00f000"/><stop offset="1.000" stop-color="#00ff00"/></linearGradient><linearGradient id="gc37" x1="0" y1="0" x2="0" y2="1"><stop offset="0.000" stop-color="#d8dcf0"/><stop offset="0.030" stop-color="#1a2a7e"/><stop offset="0.304" stop-color="#1a2a7e"/><stop offset="0.479" stop-color="#0d3e3f"/><stop offset="0.724" stop-color="#0d7315"/><stop offset="0.888" stop-color="#00f000"/><stop offset="1.000" stop-color="#00ff00"/></linearGradient><linearGradient id="gc38" x1="0" y1="0" x2="0" y2="1"><stop offset="0.000" stop-color="#d8dcf0"/><stop offset="0.030" stop-color="#152577"/><stop offset="0.307" stop-color="#152577"/><stop offset="0.491" stop-color="#0b363e"/><stop offset="0.748" stop-color="#0b6513"/><stop offset="0.920" stop-color="#00f000"/><stop offset="1.000" stop-color="#00ff00"/></linearGradient><linearGradient id="gc39" x1="0" y1="0" x2="0" y2="1"><stop offset="0.000" stop-color="#d8dcf0"/><stop offset="0.030" stop-color="#112172"/><stop offset="0.313" stop-color="#112172"/><stop offset="0.506" stop-color="#0a313d"/><stop offset="0.775" stop-color="#0a5b12"/><stop offset="0.955" stop-color="#00f000"/><stop offset="1.000" stop-color="#00ff00"/></linearGradient><linearGradient id="gc40" x1="0" y1="0" x2="0" y2="1"><stop offset="0.000" stop-color="#d8dcf0"/><stop offset="0.030" stop-color="#1f2f82"/><stop offset="0.363" stop-color="#1f2f82"/><stop offset="0.552" stop-color="#0e433f"/><stop offset="0.816" stop-color="#0e7d16"/><stop offset="0.992" stop-color="#00f000"/><stop offset="1.000" stop-color="#00ff00"/></linearGradient><linearGradient id="gc41" x1="0" y1="0" x2="0" y2="1"><stop offset="0.000" stop-color="#d8dcf0"/><stop offset="0.030" stop-color="#213185"/><stop offset="0.328" stop-color="#213185"/><stop offset="0.529" stop-color="#0f4640"/><stop offset="0.812" stop-color="#0f8317"/><stop offset="1.000" stop-color="#00f000"/><stop offset="1.000" stop-color="#00ff00"/></linearGradient><linearGradient id="gc42" x1="0" y1="0" x2="0" y2="1"><stop offset="0.000" stop-color="#d8dcf0"/><stop offset="0.030" stop-color="#142476"/><stop offset="0.339" stop-color="#142476"/><stop offset="0.537" stop-color="#0b353e"/><stop offset="0.815" stop-color="#0b6313"/><stop offset="1.000" stop-color="#00f000"/><stop offset="1.000" stop-color="#00ff00"/></linearGradient><linearGradient id="gc43" x1="0" y1="0" x2="0" y2="1"><stop offset="0.000" stop-color="#d8dcf0"/><stop offset="0.030" stop-color="#1a2a7e"/><stop offset="0.399" stop-color="#1a2a7e"/><stop offset="0.579" stop-color="#0d3e3f"/><stop offset="0.832" stop-color="#0d7315"/><stop offset="1.000" stop-color="#00f000"/><stop offset="1.000" stop-color="#00ff00"/></linearGradient></defs>
<polygon points="578.50,62.57 578.50,4.44 579.07,1.11 579.78,4.44 579.78,62.57" fill="url(#gc0)"/>
<polygon points="579.63,65.72 579.63,5.71 580.20,-1.12 580.91,5.71 580.91,65.72" fill="url(#gc1)"/>
<polygon points="580.76,68.87 580.76,6.98 581.33,3.31 582.05,6.98 582.05,68.87" fill="url(#gc2)"/>
<polygon points="581.90,72.01 581.90,8.25 582.46,6.28 583.18,8.25 583.18,72.01" fill="url(#gc3)"/>
<polygon points="583.03,75.16 583.03,9.53 583.59,5.03 584.31,9.53 584.31,75.16" fill="url(#gc4)"/>
<polygon points="584.16,78.30 584.16,10.80 584.73,9.13 585.44,10.80 585.44,78.30" fill="url(#gc5)"/>
<polygon points="585.29,81.45 585.29,12.07 585.86,10.41 586.57,12.07 586.57,81.45" fill="url(#gc6)"/>
<polygon points="586.42,84.60 586.42,13.35 586.99,8.38 587.70,13.35 587.70,84.60" fill="url(#gc7)"/>
<polygon points="587.55,87.74 587.55,14.62 588.12,7.28 588.84,14.62 588.84,87.74" fill="url(#gc8)"/>
<polygon points="588.69,90.89 588.69,15.89 589.25,11.22 589.97,15.89 589.97,90.89" fill="url(#gc9)"/>
<polygon points="589.82,94.03 589.82,17.16 590.38,15.29 591.10,17.16 591.10,94.03" fill="url(#gc10)"/>
<polygon points="590.95,97.18 590.95,18.44 591.52,14.63 592.23,18.44 592.23,97.18" fill="url(#gc11)"/>
<polygon points="592.08,100.33 592.08,19.71 592.65,17.71 593.36,19.71 593.36,100.33" fill="url(#gc12)"/>
<polygon points="593.21,103.47 593.21,20.98 593.78,19.45 594.50,20.98 594.50,103.47" fill="url(#gc13)"/>
<polygon points="594.35,106.62 594.35,22.25 594.91,19.00 595.63,22.25 595.63,106.62" fill="url(#gc14)"/>
<polygon points="595.48,109.76 595.48,23.53 596.04,19.78 596.76,23.53 596.76,109.76" fill="url(#gc15)"/>
<polygon points="596.61,112.91 596.61,24.80 597.18,21.18 597.89,24.80 597.89,112.91" fill="url(#gc16)"/>
<polygon points="597.74,116.06 597.74,26.07 598.31,22.72 599.02,26.07 599.02,116.06" fill="url(#gc17)"/>
<polygon points="598.87,119.20 598.87,27.35 599.44,19.87 600.15,27.35 600.15,119.20" fill="url(#gc18)"/>
<polygon points="600.00,122.35 600.00,28.62 600.57,22.50 601.29,28.62 601.29,122.35" fill="url(#gc19)"/>
<polygon points="601.14,125.49 601.14,29.89 601.70,27.33 602.42,29.89 602.42,125.49" fill="url(#gc20)"/>
<polygon points="602.27,128.64 602.27,31.16 602.83,28.73 603.55,31.16 603.55,128.64" fill="url(#gc21)"/>
<polygon points="603.40,131.79 603.40,32.44 603.97,26.91 604.68,32.44 604.68,131.79" fill="url(#gc22)"/>
<polygon points="604.53,134.93 604.53,33.71 605.10,27.54 605.81,33.71 605.81,134.93" fill="url(#gc23)"/>
<polygon points="605.66,138.08 605.66,34.98 606.23,27.86 606.95,34.98 606.95,138.08" fill="url(#gc24)"/>
<polygon points="606.80,141.22 606.80,36.25 607.36,34.75 608.08,36.25 608.08,141.22" fill="url(#gc25)"/>
<polygon points="607.93,142.46 607.93,37.53 608.49,30.82 609.21,37.53 609.21,142.46" fill="url(#gc26)"/>
<polygon points="609.06,141.22 609.06,38.80 609.62,31.48 610.34,38.80 610.34,141.22" fill="url(#gc27)"/>
<polygon points="610.19,139.99 610.19,40.07 610.76,38.45 611.47,40.07 611.47,139.99" fill="url(#gc28)"/>
<polygon points="611.32,138.75 611.32,41.35 611.89,35.72 612.60,41.35 612.60,138.75" fill="url(#gc29)"/>
<polygon points="612.45,137.51 612.45,42.62 613.02,40.96 613.74,42.62 613.74,137.51" fill="url(#gc30)"/>
<polygon points="613.59,136.28 613.59,43.89 614.15,36.71 614.87,43.89 614.87,136.28" fill="url(#gc31)"/>
<polygon points="614.72,135.04 614.72,45.16 615.28,43.42 616.00,45.16 616.00,135.04" fill="url(#gc32)"/>
<polygon points="615.85,133.80 615.85,46.44 616.42,44.74 617.13,46.44 617.13,133.80" fill="url(#gc33)"/>
<polygon points="616.98,132.56 616.98,47.71 617.55,41.94 618.26,47.71 618.26,132.56" fill="url(#gc34)"/>
<polygon points="618.11,131.33 618.11,48.98 618.68,44.97 619.40,48.98 619.40,131.33" fill="url(#gc35)"/>
<polygon points="619.25,130.09 619.25,50.25 619.81,48.25 620.53,50.25 620.53,130.09" fill="url(#gc36)"/>
<polygon points="620.38,128.85 620.38,51.53 620.94,49.74 621.66,51.53 621.66,128.85" fill="url(#gc37)"/>
<polygon points="621.51,127.62 621.51,52.80 622.08,51.06 622.79,52.80 622.79,127.62" fill="url(#gc38)"/>
<polygon points="622.64,126.38 622.64,54.07 623.21,51.98 623.92,54.07 623.92,126.38" fill="url(#gc39)"/>
<polygon points="623.77,125.14 623.77,55.35 624.34,48.11 625.05,55.35 625.05,125.14" fill="url(#gc40)"/>
<polygon points="624.90,123.39 624.90,56.62 625.47,54.11 626.19,56.62 626.19,123.39" fill="url(#gc41)"/>
<polygon points="626.04,119.99 626.04,57.89 626.60,55.81 627.32,57.89 627.32,119.99" fill="url(#gc42)"/>
<polygon points="627.17,116.60 627.17,59.16 627.73,52.93 628.45,59.16 628.45,116.60" fill="url(#gc43)"/>
<polyline points="578.5,2.3 578.5,61.0 575.2,65.0 515.2,96.4 608.1,142.9 625.2,124.2 627.5,90.0 628.3,52.6" fill="none" stroke="#ffee00" stroke-width="1.5" stroke-linejoin="round"/>
<polyline points="628.7,70.4 683.5,89.2 670.0,99.0 665.1,101.4 657.0,109.5 652.1,119.3 650.0,128.0 648.0,138.0 646.0,145.0 643.5,151.0 641.3,152.8 638.5,149.0 636.0,143.0 633.5,138.5 631.7,137.2 630.0,138.5 628.5,143.0 627.0,150.0 625.2,164.9" fill="none" stroke="#ffee00" stroke-width="1.3" stroke-linejoin="round"/>
<g font-size="6.3" fill="#3a3a3a" text-anchor="middle">
<text x="497.9" y="25.9">10</text>
<text x="505.4" y="81.3">5</text>
<text x="511" y="127.9">0</text>
<text x="526" y="153.7">-5</text>
<text x="557.5" y="173.4">0</text>
<text x="595.6" y="195.8">5</text>
<text x="624.5" y="191.8">-5</text>
<text x="652.1" y="165.6">0</text>
<text x="677.9" y="143.2">5</text>
</g>
<text x="558.9" y="184" font-size="7" font-weight="bold" fill="#222" text-anchor="middle">t</text>
<text x="661.3" y="171" font-size="7" font-weight="bold" fill="#222" text-anchor="middle">x</text>
<text x="482.6" y="81.7" font-size="6.4" font-weight="bold" fill="#222" font-style="italic">U<tspan font-size="4.6" dy="1.6">9</tspan><tspan dy="-1.6" font-style="normal">(x,t)</tspan></text>
<text transform="translate(62.20,227.15)" style="font-family:'Liberation Serif',serif" font-size="17.75" fill="#111">(a)</text>
<text transform="translate(90.20,226.30) scale(1.3,1)" style="font-family:'Liberation Serif',serif" font-size="14.9" font-style="italic" fill="#111">β</text>
<rect x="104.70" y="220.15" width="11.4" height="1.05" fill="#222"/>
<rect x="104.70" y="223.55" width="11.4" height="1.05" fill="#222"/>
<text transform="translate(121.80,226.70) scale(1.13,1)" style="font-family:'Liberation Serif',serif" font-size="15.3" fill="#111">0.9</text>
<text transform="translate(315.30,227.15)" style="font-family:'Liberation Serif',serif" font-size="17.75" fill="#111">(b)</text>
<text transform="translate(343.30,226.30) scale(1.3,1)" style="font-family:'Liberation Serif',serif" font-size="14.9" font-style="italic" fill="#111">β</text>
<rect x="357.80" y="220.15" width="11.4" height="1.05" fill="#222"/>
<rect x="357.80" y="223.55" width="11.4" height="1.05" fill="#222"/>
<text transform="translate(374.90,226.70) scale(1.13,1)" style="font-family:'Liberation Serif',serif" font-size="15.3" fill="#111">0.82</text>
<text transform="translate(551.10,227.15)" style="font-family:'Liberation Serif',serif" font-size="17.75" fill="#111">(c)</text>
<text transform="translate(579.10,226.30) scale(1.3,1)" style="font-family:'Liberation Serif',serif" font-size="14.9" font-style="italic" fill="#111">β</text>
<rect x="593.60" y="220.15" width="11.4" height="1.05" fill="#222"/>
<rect x="593.60" y="223.55" width="11.4" height="1.05" fill="#222"/>
<text transform="translate(610.70,226.70) scale(1.13,1)" style="font-family:'Liberation Serif',serif" font-size="15.3" fill="#111">1</text>
<text transform="translate(78.70,488.55)" style="font-family:'Liberation Serif',serif" font-size="17.75" fill="#111">(d)</text>
<text transform="translate(106.70,487.70) scale(1.3,1)" style="font-family:'Liberation Serif',serif" font-size="14.9" font-style="italic" fill="#111">β</text>
<rect x="121.20" y="481.55" width="11.4" height="1.05" fill="#222"/>
<rect x="121.20" y="484.95" width="11.4" height="1.05" fill="#222"/>
<text transform="translate(138.30,488.10) scale(1.13,1)" style="font-family:'Liberation Serif',serif" font-size="15.3" fill="#111">0.9</text>
<text transform="translate(299.30,488.55)" style="font-family:'Liberation Serif',serif" font-size="17.75" fill="#111">(e)</text>
<text transform="translate(327.30,487.70) scale(1.3,1)" style="font-family:'Liberation Serif',serif" font-size="14.9" font-style="italic" fill="#111">β</text>
<rect x="341.80" y="481.55" width="11.4" height="1.05" fill="#222"/>
<rect x="341.80" y="484.95" width="11.4" height="1.05" fill="#222"/>
<text transform="translate(358.90,488.10) scale(1.13,1)" style="font-family:'Liberation Serif',serif" font-size="15.3" fill="#111">0.82</text>
<text transform="translate(534.40,488.55)" style="font-family:'Liberation Serif',serif" font-size="17.75" fill="#111">(f)</text>
<text transform="translate(562.40,487.70) scale(1.3,1)" style="font-family:'Liberation Serif',serif" font-size="14.9" font-style="italic" fill="#111">β</text>
<rect x="576.90" y="481.55" width="11.4" height="1.05" fill="#222"/>
<rect x="576.90" y="484.95" width="11.4" height="1.05" fill="#222"/>
<text transform="translate(594.00,488.10) scale(1.13,1)" style="font-family:'Liberation Serif',serif" font-size="15.3" fill="#111">1</text>
<defs>
<clipPath id="cd"><rect x="35.9" y="253" width="190.6" height="172.6"/></clipPath>
<clipPath id="ce"><rect x="267.3" y="257.1" width="183.5" height="167.9"/></clipPath>
<clipPath id="cf"><rect x="483.9" y="256.5" width="190.9" height="169.4"/></clipPath>
</defs>
<polygon clip-path="url(#cd)" points="39.30,417.30 39.30,334.60 40.30,334.60 41.30,334.60 42.30,334.60 43.30,334.60 44.30,334.60 45.30,334.60 46.30,334.60 47.30,334.60 48.30,334.60 49.30,334.60 50.30,334.60 51.30,334.60 52.30,334.60 53.30,334.60 54.30,334.60 55.30,334.60 56.30,334.60 57.30,334.60 58.30,334.60 59.30,334.60 60.30,334.60 61.30,334.60 62.30,334.60 63.30,334.60 64.30,334.60 65.30,334.60 66.30,334.60 67.30,334.60 68.30,334.60 69.30,334.60 70.30,334.60 71.30,334.60 72.30,334.60 73.30,334.60 74.30,334.60 75.30,334.60 76.30,334.60 77.30,334.60 78.30,334.60 79.30,334.60 80.30,334.60 81.30,334.60 82.30,334.60 83.30,334.60 84.30,334.60 85.30,334.60 86.30,334.60 87.30,334.60 88.30,334.60 89.30,334.60 90.30,334.60 91.30,334.60 92.30,334.60 93.30,334.60 94.30,334.60 95.30,334.60 96.30,334.60 97.30,334.60 98.30,334.60 99.30,334.60 100.30,334.60 101.30,334.60 102.30,334.60 103.30,334.60 104.30,334.60 105.30,334.60 106.30,334.60 107.30,334.60 108.30,334.60 109.30,334.60 110.30,334.60 111.30,334.60 112.30,334.60 113.30,334.60 114.30,334.60 115.30,334.60 116.30,334.60 117.30,334.60 118.30,334.60 119.30,334.60 120.30,334.60 121.30,334.60 122.30,334.60 123.30,334.60 124.30,334.60 125.30,334.60 126.30,334.60 127.30,334.60 128.30,334.60 129.30,334.60 130.30,334.60 131.30,334.60 132.30,334.60 133.30,334.59 134.30,334.57 135.30,334.54 136.30,334.52 137.30,334.48 138.30,334.44 139.30,334.40 140.30,334.35 141.30,334.30 142.30,334.24 143.30,334.19 144.30,334.13 145.30,334.06 146.30,334.00 147.30,333.93 148.30,333.84 149.30,333.74 150.30,333.62 151.30,333.49 152.30,333.34 153.30,333.18 154.30,333.00 155.30,332.81 156.30,332.60 157.30,332.36 158.30,332.07 159.30,331.73 160.30,331.33 161.30,330.89 162.30,330.40 163.30,329.87 164.30,329.28 165.30,328.57 166.30,327.61 167.30,326.60 168.30,325.58 169.30,324.35 170.30,322.65 170.55,322.08 170.80,321.47 171.05,320.82 171.30,320.13 171.55,319.42 171.80,318.69 172.05,317.95 172.30,317.24 172.55,316.52 172.80,315.79 173.05,315.00 173.30,314.15 173.55,313.19 173.80,312.10 174.05,310.86 174.30,309.42 174.55,307.64 174.80,305.47 175.05,302.81 175.30,299.60 175.35,298.89 175.40,298.15 175.45,297.38 175.50,296.60 175.55,295.68 175.60,294.57 175.65,293.29 175.70,291.85 175.75,290.28 175.80,288.60 175.85,286.68 175.90,284.46 175.95,281.98 176.00,279.29 176.05,276.46 176.10,273.53 176.15,270.57 176.20,267.62 176.25,264.75 176.30,262.00 176.30,262.00 177.60,262.00 177.60,417.30 177.60,417.30 177.85,412.19 178.10,407.01 178.35,401.97 178.60,397.30 178.85,392.74 179.10,388.17 179.35,383.94 179.60,380.45 179.85,378.00 180.10,376.06 180.35,374.24 180.60,372.53 180.85,370.95 181.10,369.47 181.35,368.12 181.60,366.89 181.85,365.77 182.10,364.76 182.35,363.85 182.60,363.06 182.85,362.37 183.10,361.79 183.35,361.31 183.60,360.89 184.30,359.85 185.00,359.00 185.70,358.36 186.40,357.90 187.10,357.58 187.80,357.29 188.50,357.03 189.20,356.81 189.90,356.63 190.60,356.49 191.30,356.42 192.00,356.41 192.70,356.53 193.40,356.78 194.10,357.13 194.80,357.58 195.50,358.09 196.20,358.64 196.90,359.22 197.60,359.80 198.30,360.46 199.00,361.24 199.70,362.15 200.40,363.14 201.10,364.20 201.80,365.31 202.50,366.45 203.20,367.58 203.90,368.69 204.60,369.75 205.30,370.78 206.00,371.80 206.70,372.83 207.40,373.86 208.10,374.90 208.80,375.94 209.50,376.99 210.20,378.05 210.90,379.12 211.60,380.19 212.30,381.28 213.00,382.38 213.70,383.50 214.40,384.63 215.10,385.77 215.80,386.93 216.50,388.10 217.20,389.28 217.90,390.46 218.60,391.65 219.30,392.86 220.00,394.06 220.70,395.27 221.40,396.48 222.10,397.71 222.80,398.98 223.30,399.92 223.30,417.30" fill="#5E81B5" fill-opacity="0.2"/>
<polygon clip-path="url(#cd)" points="39.30,417.30 39.30,334.60 40.30,334.60 41.30,334.60 42.30,334.60 43.30,334.60 44.30,334.60 45.30,334.60 46.30,334.60 47.30,334.60 48.30,334.60 49.30,334.60 50.30,334.60 51.30,334.60 52.30,334.60 53.30,334.60 54.30,334.60 55.30,334.60 56.30,334.60 57.30,334.60 58.30,334.60 59.30,334.60 60.30,334.60 61.30,334.60 62.30,334.60 63.30,334.60 64.30,334.60 65.30,334.60 66.30,334.60 67.30,334.60 68.30,334.60 69.30,334.60 70.30,334.60 71.30,334.60 72.30,334.60 73.30,334.60 74.30,334.60 75.30,334.60 76.30,334.60 77.30,334.60 78.30,334.60 79.30,334.60 80.30,334.60 81.30,334.60 82.30,334.60 83.30,334.60 84.30,334.60 85.30,334.60 86.30,334.60 87.30,334.60 88.30,334.60 89.30,334.60 90.30,334.60 91.30,334.60 92.30,334.60 93.30,334.60 94.30,334.60 95.30,334.60 96.30,334.60 97.30,334.60 98.30,334.60 99.30,334.60 100.30,334.60 101.30,334.60 102.30,334.60 103.30,334.60 104.30,334.60 105.30,334.60 106.30,334.60 107.30,334.60 108.30,334.60 109.30,334.60 110.30,334.60 111.30,334.60 112.30,334.60 113.30,334.60 114.30,334.60 115.30,334.60 116.30,334.60 117.30,334.60 118.30,334.60 119.30,334.60 120.30,334.59 121.30,334.57 122.30,334.55 123.30,334.52 124.30,334.49 125.30,334.45 126.30,334.40 127.30,334.36 128.30,334.30 129.30,334.25 130.30,334.19 131.30,334.13 132.30,334.07 133.30,334.01 134.30,333.93 135.30,333.85 136.30,333.75 137.30,333.63 138.30,333.50 139.30,333.35 140.30,333.19 141.30,333.02 142.30,332.83 143.30,332.62 144.30,332.39 145.30,332.10 146.30,331.76 147.30,331.37 148.30,330.94 149.30,330.45 150.30,329.92 151.30,329.34 152.30,328.66 153.30,327.71 154.30,326.70 155.30,325.68 156.30,324.49 157.30,322.86 158.30,320.41 158.55,319.70 158.80,318.98 159.05,318.25 159.30,317.52 159.55,316.81 159.80,316.08 160.05,315.32 160.30,314.50 160.55,313.59 160.80,312.55 161.05,311.38 161.30,310.03 161.55,308.40 161.80,306.39 162.05,303.93 162.30,300.96 162.55,297.38 162.60,296.60 162.65,295.68 162.70,294.57 162.75,293.29 162.80,291.85 162.85,290.28 162.90,288.60 162.95,286.68 163.00,284.46 163.05,281.98 163.10,279.29 163.15,276.46 163.20,273.53 163.25,270.57 163.30,267.62 163.35,264.75 163.40,262.00 163.40,262.00 165.50,262.00 165.50,417.30 165.50,417.30 165.75,412.19 166.00,407.01 166.25,401.97 166.50,397.30 166.75,392.74 167.00,388.17 167.25,383.94 167.50,380.45 167.75,378.00 168.00,376.06 168.25,374.24 168.50,372.53 168.75,370.95 169.00,369.47 169.25,368.12 169.50,366.89 169.75,365.77 170.00,364.76 170.25,363.85 170.50,363.06 170.75,362.37 171.00,361.79 171.25,361.31 171.50,360.89 172.20,359.85 172.90,359.00 173.60,358.36 174.30,357.90 175.00,357.58 175.70,357.29 176.40,357.03 177.10,356.81 177.80,356.63 178.50,356.49 179.20,356.42 179.90,356.41 180.60,356.53 181.30,356.78 182.00,357.13 182.70,357.58 183.40,358.09 184.10,358.64 184.80,359.22 185.50,359.80 186.20,360.46 186.90,361.24 187.60,362.15 188.30,363.14 189.00,364.20 189.70,365.31 190.40,366.45 191.10,367.58 191.80,368.69 192.50,369.75 193.20,370.78 193.90,371.80 194.60,372.83 195.30,373.86 196.00,374.90 196.70,375.94 197.40,376.99 198.10,378.05 198.80,379.12 199.50,380.19 200.20,381.28 200.90,382.38 201.60,383.50 202.30,384.63 203.00,385.77 203.70,386.93 204.40,388.10 205.10,389.28 205.80,390.46 206.50,391.65 207.20,392.86 207.90,394.06 208.60,395.27 209.30,396.48 210.00,397.71 210.70,398.98 211.40,400.30 212.10,401.64 212.80,402.98 213.50,404.31 214.20,405.59 214.90,406.82 215.60,407.97 216.30,409.02 217.00,409.97 217.70,410.85 218.40,411.68 219.10,412.46 219.80,413.22 220.50,413.95 221.20,414.67 221.90,415.39 222.60,416.12 223.30,416.86 223.30,416.86 223.30,417.30" fill="#E19C24" fill-opacity="0.2"/>
<polygon clip-path="url(#cd)" points="39.30,417.30 39.30,334.60 40.30,334.60 41.30,334.60 42.30,334.60 43.30,334.60 44.30,334.60 45.30,334.60 46.30,334.60 47.30,334.60 48.30,334.60 49.30,334.60 50.30,334.60 51.30,334.60 52.30,334.60 53.30,334.60 54.30,334.60 55.30,334.60 56.30,334.60 57.30,334.60 58.30,334.60 59.30,334.60 60.30,334.60 61.30,334.60 62.30,334.60 63.30,334.60 64.30,334.60 65.30,334.60 66.30,334.60 67.30,334.60 68.30,334.60 69.30,334.60 70.30,334.60 71.30,334.60 72.30,334.60 73.30,334.60 74.30,334.60 75.30,334.60 76.30,334.60 77.30,334.60 78.30,334.60 79.30,334.60 80.30,334.60 81.30,334.60 82.30,334.60 83.30,334.60 84.30,334.60 85.30,334.60 86.30,334.60 87.30,334.60 88.30,334.60 89.30,334.60 90.30,334.60 91.30,334.60 92.30,334.60 93.30,334.60 94.30,334.60 95.30,334.60 96.30,334.60 97.30,334.60 98.30,334.60 99.30,334.60 100.30,334.60 101.30,334.60 102.30,334.60 103.30,334.60 104.30,334.60 105.30,334.60 106.30,334.60 107.30,334.60 108.30,334.59 109.30,334.57 110.30,334.55 111.30,334.53 112.30,334.49 113.30,334.45 114.30,334.41 115.30,334.37 116.30,334.31 117.30,334.26 118.30,334.20 119.30,334.14 120.30,334.08 121.30,334.02 122.30,333.95 123.30,333.87 124.30,333.77 125.30,333.66 126.30,333.53 127.30,333.38 128.30,333.23 129.30,333.05 130.30,332.87 131.30,332.66 132.30,332.44 133.30,332.16 134.30,331.83 135.30,331.46 136.30,331.03 137.30,330.56 138.30,330.03 139.30,329.46 140.30,328.82 141.30,327.92 142.30,326.90 143.30,325.90 144.30,324.75 145.30,323.25 146.30,320.95 146.55,320.27 146.80,319.56 147.05,318.83 147.30,318.10 147.55,317.38 147.80,316.66 148.05,315.94 148.30,315.16 148.55,314.32 148.80,313.39 149.05,312.33 149.30,311.12 149.55,309.73 149.80,308.03 150.05,305.94 150.30,303.38 150.55,300.30 150.80,296.60 150.85,295.68 150.90,294.57 150.95,293.29 151.00,291.85 151.05,290.28 151.10,288.60 151.15,286.68 151.20,284.46 151.25,281.98 151.30,279.29 151.35,276.46 151.40,273.53 151.45,270.57 151.50,267.62 151.55,264.75 151.60,262.00 151.60,262.00 153.40,262.00 153.40,417.30 153.40,417.30 153.65,412.19 153.90,407.01 154.15,401.97 154.40,397.30 154.65,392.74 154.90,388.17 155.15,383.94 155.40,380.45 155.65,378.00 155.90,376.06 156.15,374.24 156.40,372.53 156.65,370.95 156.90,369.47 157.15,368.12 157.40,366.89 157.65,365.77 157.90,364.76 158.15,363.85 158.40,363.06 158.65,362.37 158.90,361.79 159.15,361.31 159.40,360.89 160.10,359.85 160.80,359.00 161.50,358.36 162.20,357.90 162.90,357.58 163.60,357.29 164.30,357.03 165.00,356.81 165.70,356.63 166.40,356.49 167.10,356.42 167.80,356.41 168.50,356.53 169.20,356.78 169.90,357.13 170.60,357.58 171.30,358.09 172.00,358.64 172.70,359.22 173.40,359.80 174.10,360.46 174.80,361.24 175.50,362.15 176.20,363.14 176.90,364.20 177.60,365.31 178.30,366.45 179.00,367.58 179.70,368.69 180.40,369.75 181.10,370.78 181.80,371.80 182.50,372.83 183.20,373.86 183.90,374.90 184.60,375.94 185.30,376.99 186.00,378.05 186.70,379.12 187.40,380.19 188.10,381.28 188.80,382.38 189.50,383.50 190.20,384.63 190.90,385.77 191.60,386.93 192.30,388.10 193.00,389.28 193.70,390.46 194.40,391.65 195.10,392.86 195.80,394.06 196.50,395.27 197.20,396.48 197.90,397.71 198.60,398.98 199.30,400.30 200.00,401.64 200.70,402.98 201.40,404.31 202.10,405.59 202.80,406.82 203.50,407.97 204.20,409.02 204.90,409.97 205.60,410.85 206.30,411.68 207.00,412.46 207.70,413.22 208.40,413.95 209.10,414.67 209.80,415.39 210.50,416.12 211.20,416.86 211.90,416.77 212.60,415.53 213.30,414.29 214.00,413.05 214.70,411.81 215.40,410.57 216.10,409.33 216.80,408.10 217.50,406.87 218.20,405.65 218.90,404.44 219.60,403.24 220.30,402.05 221.00,400.87 221.70,399.69 222.40,398.51 223.10,397.32 223.30,396.97 223.30,417.30" fill="#8FB032" fill-opacity="0.2"/>
<polygon clip-path="url(#cd)" points="39.30,417.30 39.30,334.60 40.30,334.60 41.30,334.60 42.30,334.60 43.30,334.60 44.30,334.60 45.30,334.60 46.30,334.60 47.30,334.60 48.30,334.60 49.30,334.60 50.30,334.60 51.30,334.60 52.30,334.60 53.30,334.60 54.30,334.60 55.30,334.60 56.30,334.60 57.30,334.60 58.30,334.60 59.30,334.60 60.30,334.60 61.30,334.60 62.30,334.60 63.30,334.60 64.30,334.60 65.30,334.60 66.30,334.60 67.30,334.60 68.30,334.60 69.30,334.60 70.30,334.60 71.30,334.60 72.30,334.60 73.30,334.60 74.30,334.60 75.30,334.60 76.30,334.60 77.30,334.60 78.30,334.60 79.30,334.60 80.30,334.60 81.30,334.60 82.30,334.60 83.30,334.60 84.30,334.60 85.30,334.60 86.30,334.60 87.30,334.60 88.30,334.60 89.30,334.60 90.30,334.60 91.30,334.60 92.30,334.60 93.30,334.60 94.30,334.60 95.30,334.60 96.30,334.59 97.30,334.58 98.30,334.56 99.30,334.54 100.30,334.51 101.30,334.47 102.30,334.43 103.30,334.38 104.30,334.34 105.30,334.28 106.30,334.23 107.30,334.17 108.30,334.11 109.30,334.04 110.30,333.98 111.30,333.90 112.30,333.81 113.30,333.70 114.30,333.58 115.30,333.44 116.30,333.29 117.30,333.12 118.30,332.94 119.30,332.75 120.30,332.53 121.30,332.28 122.30,331.97 123.30,331.61 124.30,331.21 125.30,330.75 126.30,330.25 127.30,329.70 128.30,329.10 129.30,328.30 130.30,327.30 131.30,326.30 132.30,325.24 133.30,323.91 134.30,321.97 134.55,321.34 134.80,320.68 135.05,319.99 135.30,319.27 135.55,318.54 135.80,317.81 136.05,317.09 136.30,316.38 136.55,315.63 136.80,314.84 137.05,313.96 137.30,312.98 137.55,311.87 137.80,310.60 138.05,309.09 138.30,307.24 138.55,304.97 138.80,302.21 139.05,298.89 139.10,298.15 139.15,297.38 139.20,296.60 139.25,295.68 139.30,294.57 139.35,293.29 139.40,291.85 139.45,290.28 139.50,288.60 139.55,286.68 139.60,284.46 139.65,281.98 139.70,279.29 139.75,276.46 139.80,273.53 139.85,270.57 139.90,267.62 139.95,264.75 140.00,262.00 140.00,262.00 142.30,262.00 142.30,417.30 142.30,417.30 142.55,412.19 142.80,407.01 143.05,401.97 143.30,397.30 143.55,392.74 143.80,388.17 144.05,383.94 144.30,380.45 144.55,378.00 144.80,376.06 145.05,374.24 145.30,372.53 145.55,370.95 145.80,369.47 146.05,368.12 146.30,366.89 146.55,365.77 146.80,364.76 147.05,363.85 147.30,363.06 147.55,362.37 147.80,361.79 148.05,361.31 148.30,360.89 149.00,359.85 149.70,359.00 150.40,358.36 151.10,357.90 151.80,357.58 152.50,357.29 153.20,357.03 153.90,356.81 154.60,356.63 155.30,356.49 156.00,356.42 156.70,356.41 157.40,356.53 158.10,356.78 158.80,357.13 159.50,357.58 160.20,358.09 160.90,358.64 161.60,359.22 162.30,359.80 163.00,360.46 163.70,361.24 164.40,362.15 165.10,363.14 165.80,364.20 166.50,365.31 167.20,366.45 167.90,367.58 168.60,368.69 169.30,369.75 170.00,370.78 170.70,371.80 171.40,372.83 172.10,373.86 172.80,374.90 173.50,375.94 174.20,376.99 174.90,378.05 175.60,379.12 176.30,380.19 177.00,381.28 177.70,382.38 178.40,383.50 179.10,384.63 179.80,385.77 180.50,386.93 181.20,388.10 181.90,389.28 182.60,390.46 183.30,391.65 184.00,392.86 184.70,394.06 185.40,395.27 186.10,396.48 186.80,397.71 187.50,398.98 188.20,400.30 188.90,401.64 189.60,402.98 190.30,404.31 191.00,405.59 191.70,406.82 192.40,407.97 193.10,409.02 193.80,409.97 194.50,410.85 195.20,411.68 195.90,412.46 196.60,413.22 197.30,413.95 198.00,414.67 198.70,415.39 199.40,416.12 200.10,416.86 200.80,416.77 201.50,415.53 202.20,414.29 202.90,413.05 203.60,411.81 204.30,410.57 205.00,409.33 205.70,408.10 206.40,406.87 207.10,405.65 207.80,404.44 208.50,403.24 209.20,402.05 209.90,400.87 210.60,399.69 211.30,398.51 212.00,397.32 212.70,396.11 213.40,394.90 214.10,393.66 214.80,392.39 215.50,391.08 216.20,389.75 216.90,388.40 217.60,387.03 218.30,385.67 219.00,384.31 219.70,382.97 220.40,381.65 221.10,380.37 221.80,379.13 222.50,377.91 223.20,376.70 223.30,376.52 223.30,417.30" fill="#EB6235" fill-opacity="0.2"/>
<polygon clip-path="url(#cd)" points="39.30,417.30 39.30,334.60 40.30,334.60 41.30,334.60 42.30,334.60 43.30,334.60 44.30,334.60 45.30,334.60 46.30,334.60 47.30,334.60 48.30,334.60 49.30,334.60 50.30,334.60 51.30,334.60 52.30,334.60 53.30,334.60 54.30,334.60 55.30,334.60 56.30,334.60 57.30,334.60 58.30,334.60 59.30,334.60 60.30,334.60 61.30,334.60 62.30,334.60 63.30,334.60 64.30,334.60 65.30,334.60 66.30,334.60 67.30,334.60 68.30,334.60 69.30,334.60 70.30,334.60 71.30,334.60 72.30,334.60 73.30,334.60 74.30,334.60 75.30,334.60 76.30,334.60 77.30,334.60 78.30,334.60 79.30,334.60 80.30,334.60 81.30,334.60 82.30,334.60 83.30,334.60 84.30,334.60 85.30,334.60 86.30,334.60 87.30,334.59 88.30,334.58 89.30,334.56 90.30,334.54 91.30,334.51 92.30,334.47 93.30,334.43 94.30,334.39 95.30,334.34 96.30,334.29 97.30,334.23 98.30,334.17 99.30,334.11 100.30,334.05 101.30,333.99 102.30,333.91 103.30,333.82 104.30,333.71 105.30,333.59 106.30,333.46 107.30,333.31 108.30,333.14 109.30,332.96 110.30,332.77 111.30,332.55 112.30,332.30 113.30,332.00 114.30,331.65 115.30,331.25 116.30,330.80 117.30,330.30 118.30,329.75 119.30,329.16 120.30,328.40 121.30,327.41 122.30,326.40 123.30,325.35 124.30,324.06 125.30,322.20 125.55,321.60 125.80,320.95 126.05,320.27 126.30,319.56 126.55,318.83 126.80,318.10 127.05,317.38 127.30,316.66 127.55,315.94 127.80,315.16 128.05,314.32 128.30,313.39 128.55,312.33 128.80,311.12 129.05,309.73 129.30,308.03 129.55,305.94 129.80,303.38 130.05,300.30 130.30,296.60 130.35,295.68 130.40,294.57 130.45,293.29 130.50,291.85 130.55,290.28 130.60,288.60 130.65,286.68 130.70,284.46 130.75,281.98 130.80,279.29 130.85,276.46 130.90,273.53 130.95,270.57 131.00,267.62 131.05,264.75 131.10,262.00 131.10,262.00 132.40,262.00 132.40,417.30 132.40,417.30 132.65,412.19 132.90,407.01 133.15,401.97 133.40,397.30 133.65,392.74 133.90,388.17 134.15,383.94 134.40,380.45 134.65,378.00 134.90,376.06 135.15,374.24 135.40,372.53 135.65,370.95 135.90,369.47 136.15,368.12 136.40,366.89 136.65,365.77 136.90,364.76 137.15,363.85 137.40,363.06 137.65,362.37 137.90,361.79 138.15,361.31 138.40,360.89 139.10,359.85 139.80,359.00 140.50,358.36 141.20,357.90 141.90,357.58 142.60,357.29 143.30,357.03 144.00,356.81 144.70,356.63 145.40,356.49 146.10,356.42 146.80,356.41 147.50,356.53 148.20,356.78 148.90,357.13 149.60,357.58 150.30,358.09 151.00,358.64 151.70,359.22 152.40,359.80 153.10,360.46 153.80,361.24 154.50,362.15 155.20,363.14 155.90,364.20 156.60,365.31 157.30,366.45 158.00,367.58 158.70,368.69 159.40,369.75 160.10,370.78 160.80,371.80 161.50,372.83 162.20,373.86 162.90,374.90 163.60,375.94 164.30,376.99 165.00,378.05 165.70,379.12 166.40,380.19 167.10,381.28 167.80,382.38 168.50,383.50 169.20,384.63 169.90,385.77 170.60,386.93 171.30,388.10 172.00,389.28 172.70,390.46 173.40,391.65 174.10,392.86 174.80,394.06 175.50,395.27 176.20,396.48 176.90,397.71 177.60,398.98 178.30,400.30 179.00,401.64 179.70,402.98 180.40,404.31 181.10,405.59 181.80,406.82 182.50,407.97 183.20,409.02 183.90,409.97 184.60,410.85 185.30,411.68 186.00,412.46 186.70,413.22 187.40,413.95 188.10,414.67 188.80,415.39 189.50,416.12 190.20,416.86 190.90,416.77 191.60,415.53 192.30,414.29 193.00,413.05 193.70,411.81 194.40,410.57 195.10,409.33 195.80,408.10 196.50,406.87 197.20,405.65 197.90,404.44 198.60,403.24 199.30,402.05 200.00,400.87 200.70,399.69 201.40,398.51 202.10,397.32 202.80,396.11 203.50,394.90 204.20,393.66 204.90,392.39 205.60,391.08 206.30,389.75 207.00,388.40 207.70,387.03 208.40,385.67 209.10,384.31 209.80,382.97 210.50,381.65 211.20,380.37 211.90,379.13 212.60,377.91 213.30,376.70 214.00,375.49 214.70,374.30 215.40,373.12 216.10,371.95 216.80,370.80 217.50,369.66 218.20,368.54 218.90,367.44 219.60,366.36 220.30,365.31 221.00,364.28 221.70,363.28 222.40,362.30 223.10,361.35 223.30,361.08 223.30,417.30" fill="#8778B3" fill-opacity="0.2"/>
<polygon clip-path="url(#cd)" points="39.30,417.30 39.30,334.60 45.87,334.60 52.44,334.60 59.01,334.60 65.58,334.60 72.15,334.60 78.72,334.60 85.29,334.60 91.86,334.60 98.43,334.60 105.00,334.60 105.72,334.54 106.44,334.37 107.16,334.10 107.88,333.76 108.60,333.37 109.32,332.94 110.04,332.48 110.76,332.03 111.48,331.60 112.20,331.20 112.81,330.85 113.42,330.43 114.03,329.98 114.64,329.51 115.25,329.05 115.86,328.63 116.47,328.26 117.08,327.96 117.69,327.77 118.30,327.70 118.49,327.76 118.68,327.94 118.87,328.20 119.06,328.54 119.25,328.94 119.44,329.36 119.63,329.80 119.82,330.23 120.01,330.64 120.20,331.00 120.32,332.58 120.44,334.21 120.56,335.88 120.68,337.55 120.80,339.21 120.92,340.83 121.04,342.38 121.16,343.85 121.28,345.19 121.40,346.40 121.60,348.28 121.80,350.14 122.00,351.94 122.20,353.67 122.40,355.28 122.60,356.76 122.80,358.07 123.00,359.18 123.20,360.07 123.40,360.70 123.60,361.19 123.80,361.65 124.00,362.08 124.20,362.47 124.40,362.82 124.60,363.12 124.80,363.36 125.00,363.55 125.20,363.66 125.40,363.70 125.66,363.65 125.92,363.50 126.18,363.28 126.44,363.00 126.70,362.67 126.96,362.32 127.22,361.96 127.48,361.61 127.74,361.29 128.00,361.00 128.25,360.75 128.50,360.50 128.75,360.24 129.00,359.99 129.25,359.74 129.50,359.50 129.75,359.26 130.00,359.03 130.25,358.81 130.50,358.60 130.82,358.33 131.14,358.04 131.46,357.75 131.78,357.45 132.10,357.18 132.42,356.93 132.74,356.71 133.06,356.55 133.38,356.44 133.70,356.40 135.26,356.70 136.82,357.55 138.38,358.87 139.94,360.58 141.50,362.58 143.06,364.80 144.62,367.16 146.18,369.56 147.74,371.94 149.30,374.20 150.44,375.87 151.58,377.69 152.72,379.63 153.86,381.66 155.00,383.75 156.14,385.87 157.28,387.99 158.42,390.09 159.56,392.14 160.70,394.10 162.12,396.47 163.54,398.80 164.96,401.11 166.38,403.40 167.80,405.67 169.22,407.93 170.64,410.19 172.06,412.45 173.48,414.72 174.90,417.00 175.51,416.30 176.12,415.61 176.73,414.92 177.34,414.24 177.95,413.55 178.56,412.86 179.17,412.16 179.78,411.45 180.39,410.73 181.00,410.00 181.70,409.15 182.40,408.31 183.10,407.45 183.80,406.59 184.50,405.72 185.20,404.83 185.90,403.92 186.60,402.98 187.30,402.01 188.00,401.00 189.20,399.18 190.40,397.26 191.60,395.24 192.80,393.14 194.00,390.99 195.20,388.80 196.40,386.59 197.60,384.37 198.80,382.17 200.00,380.00 201.20,377.82 202.40,375.60 203.60,373.35 204.80,371.08 206.00,368.81 207.20,366.56 208.40,364.33 209.60,362.16 210.80,360.04 212.00,358.00 212.96,356.42 213.92,354.86 214.88,353.33 215.84,351.83 216.80,350.35 217.76,348.90 218.72,347.47 219.68,346.06 220.64,344.67 221.60,343.30 221.77,343.06 221.94,342.83 222.11,342.59 222.28,342.36 222.45,342.14 222.62,341.91 222.79,341.68 222.96,341.46 223.13,341.23 223.30,341.00 223.30,417.30" fill="#C56E1A" fill-opacity="0.2"/>
<polygon clip-path="url(#cd)" points="39.30,417.30 39.30,334.60 45.77,334.60 52.24,334.60 58.71,334.60 65.18,334.60 71.65,334.60 78.12,334.60 84.59,334.60 91.06,334.60 97.53,334.60 104.00,334.60 104.21,334.60 104.42,334.61 104.63,334.62 104.84,334.64 105.05,334.66 105.26,334.68 105.47,334.71 105.68,334.74 105.89,334.77 106.10,334.80 106.61,335.11 107.12,335.83 107.63,336.87 108.14,338.16 108.65,339.60 109.16,341.13 109.67,342.65 110.18,344.09 110.69,345.37 111.20,346.40 111.71,347.27 112.22,348.12 112.73,348.95 113.24,349.74 113.75,350.50 114.26,351.21 114.77,351.87 115.28,352.47 115.79,353.02 116.30,353.50 116.77,353.90 117.24,354.29 117.71,354.66 118.18,355.01 118.65,355.33 119.12,355.63 119.59,355.90 120.06,356.13 120.53,356.34 121.00,356.50 121.55,356.65 122.10,356.78 122.65,356.88 123.20,356.97 123.75,357.05 124.30,357.13 124.85,357.22 125.40,357.32 125.95,357.45 126.50,357.60 127.35,357.92 128.20,358.33 129.05,358.84 129.90,359.45 130.75,360.14 131.60,360.91 132.45,361.75 133.30,362.67 134.15,363.66 135.00,364.70 135.80,365.89 136.60,367.42 137.40,369.21 138.20,371.23 139.00,373.42 139.80,375.72 140.60,378.09 141.40,380.46 142.20,382.78 143.00,385.00 143.70,386.92 144.40,388.90 145.10,390.93 145.80,392.99 146.50,395.06 147.20,397.12 147.90,399.17 148.60,401.17 149.30,403.12 150.00,405.00 150.49,406.27 150.98,407.51 151.47,408.73 151.96,409.92 152.45,411.11 152.94,412.28 153.43,413.45 153.92,414.63 154.41,415.81 154.90,417.00 155.41,416.09 155.92,415.18 156.43,414.26 156.94,413.34 157.45,412.42 157.96,411.51 158.47,410.60 158.98,409.72 159.49,408.85 160.00,408.00 161.00,406.36 162.00,404.73 163.00,403.10 164.00,401.51 165.00,399.94 166.00,398.42 167.00,396.96 168.00,395.56 169.00,394.24 170.00,393.00 171.09,391.76 172.18,390.61 173.27,389.54 174.36,388.51 175.45,387.52 176.54,386.54 177.63,385.55 178.72,384.53 179.81,383.45 180.90,382.30 182.69,380.22 184.48,377.96 186.27,375.56 188.06,373.07 189.85,370.56 191.64,368.08 193.43,365.68 195.22,363.41 197.01,361.33 198.80,359.50 200.75,357.71 202.70,356.02 204.65,354.42 206.60,352.90 208.55,351.45 210.50,350.06 212.45,348.72 214.40,347.42 216.35,346.15 218.30,344.90 218.80,344.59 219.30,344.28 219.80,343.99 220.30,343.70 220.80,343.41 221.30,343.13 221.80,342.85 222.30,342.57 222.80,342.29 223.30,342.00 223.30,417.30" fill="#5D9EC7" fill-opacity="0.2"/>
<polygon clip-path="url(#cd)" points="39.30,417.30 39.30,334.60 43.37,334.60 47.44,334.60 51.51,334.60 55.58,334.60 59.65,334.60 63.72,334.60 67.79,334.60 71.86,334.60 75.93,334.60 80.00,334.60 80.38,334.61 80.76,334.62 81.14,334.64 81.52,334.68 81.90,334.72 82.28,334.76 82.66,334.81 83.04,334.87 83.42,334.93 83.80,335.00 84.42,335.21 85.04,335.58 85.66,336.09 86.28,336.72 86.90,337.42 87.52,338.16 88.14,338.92 88.76,339.67 89.38,340.37 90.00,341.00 90.60,341.57 91.20,342.15 91.80,342.74 92.40,343.32 93.00,343.90 93.60,344.46 94.20,345.00 94.80,345.51 95.40,345.98 96.00,346.40 97.01,347.04 98.02,347.62 99.03,348.17 100.04,348.67 101.05,349.15 102.06,349.62 103.07,350.07 104.08,350.53 105.09,351.01 106.10,351.50 107.12,352.00 108.14,352.47 109.16,352.92 110.18,353.37 111.20,353.83 112.22,354.31 113.24,354.81 114.26,355.35 115.28,355.95 116.30,356.60 117.01,357.10 117.72,357.64 118.43,358.21 119.14,358.84 119.85,359.50 120.56,360.21 121.27,360.96 121.98,361.76 122.69,362.61 123.40,363.50 124.29,364.76 125.18,366.20 126.07,367.81 126.96,369.56 127.85,371.42 128.74,373.36 129.63,375.35 130.52,377.38 131.41,379.40 132.30,381.40 133.20,383.49 134.10,385.75 135.00,388.12 135.90,390.55 136.80,392.99 137.70,395.40 138.60,397.72 139.50,399.91 140.40,401.92 141.30,403.70 142.22,405.31 143.14,406.81 144.06,408.21 144.98,409.53 145.90,410.79 146.82,412.02 147.74,413.23 148.66,414.45 149.58,415.70 150.50,417.00 151.59,415.48 152.68,414.00 153.77,412.56 154.86,411.11 155.95,409.66 157.04,408.17 158.13,406.63 159.22,405.02 160.31,403.31 161.40,401.50 162.52,399.45 163.64,397.18 164.76,394.75 165.88,392.19 167.00,389.56 168.12,386.91 169.24,384.28 170.36,381.72 171.48,379.28 172.60,377.00 173.49,375.28 174.38,373.59 175.27,371.92 176.16,370.29 177.05,368.69 177.94,367.13 178.83,365.61 179.72,364.13 180.61,362.69 181.50,361.30 182.84,359.22 184.18,357.12 185.52,355.02 186.86,352.97 188.20,351.00 189.54,349.13 190.88,347.40 192.22,345.85 193.56,344.51 194.90,343.40 196.24,342.45 197.58,341.55 198.92,340.70 200.26,339.91 201.60,339.19 202.94,338.53 204.28,337.95 205.62,337.45 206.96,337.03 208.30,336.70 209.64,336.43 210.98,336.18 212.32,335.96 213.66,335.76 215.00,335.58 216.34,335.41 217.68,335.26 219.02,335.13 220.36,335.01 221.70,334.90 221.86,334.89 222.02,334.88 222.18,334.87 222.34,334.86 222.50,334.85 222.66,334.84 222.82,334.83 222.98,334.82 223.14,334.81 223.30,334.80 223.30,417.30" fill="#FFBF00" fill-opacity="0.2"/>
<polygon clip-path="url(#cd)" points="39.30,417.30 39.30,334.60 42.37,334.60 45.44,334.60 48.51,334.60 51.58,334.60 54.65,334.60 57.72,334.60 60.79,334.60 63.86,334.60 66.93,334.60 70.00,334.60 70.36,334.61 70.72,334.62 71.08,334.65 71.44,334.68 71.80,334.72 72.16,334.77 72.52,334.82 72.88,334.88 73.24,334.94 73.60,335.00 74.24,335.17 74.88,335.43 75.52,335.78 76.16,336.19 76.80,336.64 77.44,337.13 78.08,337.62 78.72,338.11 79.36,338.57 80.00,339.00 81.19,339.73 82.38,340.46 83.57,341.17 84.76,341.89 85.95,342.61 87.14,343.33 88.33,344.07 89.52,344.82 90.71,345.60 91.90,346.40 93.73,347.63 95.56,348.82 97.39,350.00 99.22,351.21 101.05,352.48 102.88,353.83 104.71,355.29 106.54,356.91 108.37,358.70 110.20,360.70 111.42,362.27 112.64,364.12 113.86,366.23 115.08,368.56 116.30,371.06 117.52,373.71 118.74,376.47 119.96,379.29 121.18,382.15 122.40,385.00 122.96,386.34 123.52,387.75 124.08,389.21 124.64,390.71 125.20,392.25 125.76,393.81 126.32,395.37 126.88,396.93 127.44,398.48 128.00,400.00 128.35,400.91 128.70,401.77 129.05,402.60 129.40,403.43 129.75,404.27 130.10,405.15 130.45,406.08 130.80,407.08 131.15,408.18 131.50,409.40 131.65,409.99 131.80,410.65 131.95,411.37 132.10,412.14 132.25,412.94 132.40,413.76 132.55,414.59 132.70,415.41 132.85,416.22 133.00,417.00 133.70,415.98 134.40,414.94 135.10,413.88 135.80,412.81 136.50,411.75 137.20,410.72 137.90,409.71 138.60,408.75 139.30,407.84 140.00,407.00 141.08,405.87 142.16,404.90 143.24,404.06 144.32,403.28 145.40,402.51 146.48,401.70 147.56,400.78 148.64,399.71 149.72,398.44 150.80,396.90 151.24,396.05 151.68,394.91 152.12,393.55 152.56,392.03 153.00,390.40 153.44,388.75 153.88,387.11 154.32,385.57 154.76,384.18 155.20,383.00 156.75,379.45 158.30,376.19 159.85,373.18 161.40,370.37 162.95,367.74 164.50,365.23 166.05,362.81 167.60,360.44 169.15,358.08 170.70,355.70 171.23,354.86 171.76,354.00 172.29,353.13 172.82,352.27 173.35,351.44 173.88,350.64 174.41,349.89 174.94,349.21 175.47,348.61 176.00,348.10 176.82,347.43 177.64,346.83 178.46,346.28 179.28,345.78 180.10,345.32 180.92,344.89 181.74,344.48 182.56,344.08 183.38,343.69 184.20,343.30 185.78,342.53 187.36,341.74 188.94,340.96 190.52,340.20 192.10,339.49 193.68,338.82 195.26,338.22 196.84,337.71 198.42,337.30 200.00,337.00 202.33,336.68 204.66,336.42 206.99,336.19 209.32,335.99 211.65,335.82 213.98,335.66 216.31,335.51 218.64,335.35 220.97,335.19 223.30,335.00 223.30,417.30" fill="#A5609D" fill-opacity="0.2"/>
<polyline clip-path="url(#cd)" points="39.30,334.60 40.30,334.60 41.30,334.60 42.30,334.60 43.30,334.60 44.30,334.60 45.30,334.60 46.30,334.60 47.30,334.60 48.30,334.60 49.30,334.60 50.30,334.60 51.30,334.60 52.30,334.60 53.30,334.60 54.30,334.60 55.30,334.60 56.30,334.60 57.30,334.60 58.30,334.60 59.30,334.60 60.30,334.60 61.30,334.60 62.30,334.60 63.30,334.60 64.30,334.60 65.30,334.60 66.30,334.60 67.30,334.60 68.30,334.60 69.30,334.60 70.30,334.60 71.30,334.60 72.30,334.60 73.30,334.60 74.30,334.60 75.30,334.60 76.30,334.60 77.30,334.60 78.30,334.60 79.30,334.60 80.30,334.60 81.30,334.60 82.30,334.60 83.30,334.60 84.30,334.60 85.30,334.60 86.30,334.60 87.30,334.60 88.30,334.60 89.30,334.60 90.30,334.60 91.30,334.60 92.30,334.60 93.30,334.60 94.30,334.60 95.30,334.60 96.30,334.60 97.30,334.60 98.30,334.60 99.30,334.60 100.30,334.60 101.30,334.60 102.30,334.60 103.30,334.60 104.30,334.60 105.30,334.60 106.30,334.60 107.30,334.60 108.30,334.60 109.30,334.60 110.30,334.60 111.30,334.60 112.30,334.60 113.30,334.60 114.30,334.60 115.30,334.60 116.30,334.60 117.30,334.60 118.30,334.60 119.30,334.60 120.30,334.60 121.30,334.60 122.30,334.60 123.30,334.60 124.30,334.60 125.30,334.60 126.30,334.60 127.30,334.60 128.30,334.60 129.30,334.60 130.30,334.60 131.30,334.60 132.30,334.60 133.30,334.59 134.30,334.57 135.30,334.54 136.30,334.52 137.30,334.48 138.30,334.44 139.30,334.40 140.30,334.35 141.30,334.30 142.30,334.24 143.30,334.19 144.30,334.13 145.30,334.06 146.30,334.00 147.30,333.93 148.30,333.84 149.30,333.74 150.30,333.62 151.30,333.49 152.30,333.34 153.30,333.18 154.30,333.00 155.30,332.81 156.30,332.60 157.30,332.36 158.30,332.07 159.30,331.73 160.30,331.33 161.30,330.89 162.30,330.40 163.30,329.87 164.30,329.28 165.30,328.57 166.30,327.61 167.30,326.60 168.30,325.58 169.30,324.35 170.30,322.65 170.55,322.08 170.80,321.47 171.05,320.82 171.30,320.13 171.55,319.42 171.80,318.69 172.05,317.95 172.30,317.24 172.55,316.52 172.80,315.79 173.05,315.00 173.30,314.15 173.55,313.19 173.80,312.10 174.05,310.86 174.30,309.42 174.55,307.64 174.80,305.47 175.05,302.81 175.30,299.60 175.35,298.89 175.40,298.15 175.45,297.38 175.50,296.60 175.55,295.68 175.60,294.57 175.65,293.29 175.70,291.85 175.75,290.28 175.80,288.60 175.85,286.68 175.90,284.46 175.95,281.98 176.00,279.29 176.05,276.46 176.10,273.53 176.15,270.57 176.20,267.62 176.25,264.75 176.30,262.00" fill="none" stroke="#5E81B5" stroke-width="1.65" stroke-dasharray="7.2,5.8" stroke-linecap="round" stroke-linejoin="round"/>
<polyline clip-path="url(#cd)" points="177.60,417.30 177.85,412.19 178.10,407.01 178.35,401.97 178.60,397.30 178.85,392.74 179.10,388.17 179.35,383.94 179.60,380.45 179.85,378.00 180.10,376.06 180.35,374.24 180.60,372.53 180.85,370.95 181.10,369.47 181.35,368.12 181.60,366.89 181.85,365.77 182.10,364.76 182.35,363.85 182.60,363.06 182.85,362.37 183.10,361.79 183.35,361.31 183.60,360.89 184.30,359.85 185.00,359.00 185.70,358.36 186.40,357.90 187.10,357.58 187.80,357.29 188.50,357.03 189.20,356.81 189.90,356.63 190.60,356.49 191.30,356.42 192.00,356.41 192.70,356.53 193.40,356.78 194.10,357.13 194.80,357.58 195.50,358.09 196.20,358.64 196.90,359.22 197.60,359.80 198.30,360.46 199.00,361.24 199.70,362.15 200.40,363.14 201.10,364.20 201.80,365.31 202.50,366.45 203.20,367.58 203.90,368.69 204.60,369.75 205.30,370.78 206.00,371.80 206.70,372.83 207.40,373.86 208.10,374.90 208.80,375.94 209.50,376.99 210.20,378.05 210.90,379.12 211.60,380.19 212.30,381.28 213.00,382.38 213.70,383.50 214.40,384.63 215.10,385.77 215.80,386.93 216.50,388.10 217.20,389.28 217.90,390.46 218.60,391.65 219.30,392.86 220.00,394.06 220.70,395.27 221.40,396.48 222.10,397.71 222.80,398.98 223.30,399.92" fill="none" stroke="#5E81B5" stroke-width="1.65" stroke-dasharray="7.2,5.8" stroke-linecap="round" stroke-linejoin="round"/>
<line clip-path="url(#cd)" x1="177.60" y1="262.00" x2="177.60" y2="417.30" stroke="#5E81B5" stroke-width="1.65" stroke-dasharray="7.2,5.8" stroke-linecap="round"/>
<polyline clip-path="url(#cd)" points="39.30,334.60 40.30,334.60 41.30,334.60 42.30,334.60 43.30,334.60 44.30,334.60 45.30,334.60 46.30,334.60 47.30,334.60 48.30,334.60 49.30,334.60 50.30,334.60 51.30,334.60 52.30,334.60 53.30,334.60 54.30,334.60 55.30,334.60 56.30,334.60 57.30,334.60 58.30,334.60 59.30,334.60 60.30,334.60 61.30,334.60 62.30,334.60 63.30,334.60 64.30,334.60 65.30,334.60 66.30,334.60 67.30,334.60 68.30,334.60 69.30,334.60 70.30,334.60 71.30,334.60 72.30,334.60 73.30,334.60 74.30,334.60 75.30,334.60 76.30,334.60 77.30,334.60 78.30,334.60 79.30,334.60 80.30,334.60 81.30,334.60 82.30,334.60 83.30,334.60 84.30,334.60 85.30,334.60 86.30,334.60 87.30,334.60 88.30,334.60 89.30,334.60 90.30,334.60 91.30,334.60 92.30,334.60 93.30,334.60 94.30,334.60 95.30,334.60 96.30,334.60 97.30,334.60 98.30,334.60 99.30,334.60 100.30,334.60 101.30,334.60 102.30,334.60 103.30,334.60 104.30,334.60 105.30,334.60 106.30,334.60 107.30,334.60 108.30,334.60 109.30,334.60 110.30,334.60 111.30,334.60 112.30,334.60 113.30,334.60 114.30,334.60 115.30,334.60 116.30,334.60 117.30,334.60 118.30,334.60 119.30,334.60 120.30,334.59 121.30,334.57 122.30,334.55 123.30,334.52 124.30,334.49 125.30,334.45 126.30,334.40 127.30,334.36 128.30,334.30 129.30,334.25 130.30,334.19 131.30,334.13 132.30,334.07 133.30,334.01 134.30,333.93 135.30,333.85 136.30,333.75 137.30,333.63 138.30,333.50 139.30,333.35 140.30,333.19 141.30,333.02 142.30,332.83 143.30,332.62 144.30,332.39 145.30,332.10 146.30,331.76 147.30,331.37 148.30,330.94 149.30,330.45 150.30,329.92 151.30,329.34 152.30,328.66 153.30,327.71 154.30,326.70 155.30,325.68 156.30,324.49 157.30,322.86 158.30,320.41 158.55,319.70 158.80,318.98 159.05,318.25 159.30,317.52 159.55,316.81 159.80,316.08 160.05,315.32 160.30,314.50 160.55,313.59 160.80,312.55 161.05,311.38 161.30,310.03 161.55,308.40 161.80,306.39 162.05,303.93 162.30,300.96 162.55,297.38 162.60,296.60 162.65,295.68 162.70,294.57 162.75,293.29 162.80,291.85 162.85,290.28 162.90,288.60 162.95,286.68 163.00,284.46 163.05,281.98 163.10,279.29 163.15,276.46 163.20,273.53 163.25,270.57 163.30,267.62 163.35,264.75 163.40,262.00" fill="none" stroke="#E19C24" stroke-width="1.3" stroke-linejoin="round"/>
<polyline clip-path="url(#cd)" points="165.50,417.30 165.75,412.19 166.00,407.01 166.25,401.97 166.50,397.30 166.75,392.74 167.00,388.17 167.25,383.94 167.50,380.45 167.75,378.00 168.00,376.06 168.25,374.24 168.50,372.53 168.75,370.95 169.00,369.47 169.25,368.12 169.50,366.89 169.75,365.77 170.00,364.76 170.25,363.85 170.50,363.06 170.75,362.37 171.00,361.79 171.25,361.31 171.50,360.89 172.20,359.85 172.90,359.00 173.60,358.36 174.30,357.90 175.00,357.58 175.70,357.29 176.40,357.03 177.10,356.81 177.80,356.63 178.50,356.49 179.20,356.42 179.90,356.41 180.60,356.53 181.30,356.78 182.00,357.13 182.70,357.58 183.40,358.09 184.10,358.64 184.80,359.22 185.50,359.80 186.20,360.46 186.90,361.24 187.60,362.15 188.30,363.14 189.00,364.20 189.70,365.31 190.40,366.45 191.10,367.58 191.80,368.69 192.50,369.75 193.20,370.78 193.90,371.80 194.60,372.83 195.30,373.86 196.00,374.90 196.70,375.94 197.40,376.99 198.10,378.05 198.80,379.12 199.50,380.19 200.20,381.28 200.90,382.38 201.60,383.50 202.30,384.63 203.00,385.77 203.70,386.93 204.40,388.10 205.10,389.28 205.80,390.46 206.50,391.65 207.20,392.86 207.90,394.06 208.60,395.27 209.30,396.48 210.00,397.71 210.70,398.98 211.40,400.30 212.10,401.64 212.80,402.98 213.50,404.31 214.20,405.59 214.90,406.82 215.60,407.97 216.30,409.02 217.00,409.97 217.70,410.85 218.40,411.68 219.10,412.46 219.80,413.22 220.50,413.95 221.20,414.67 221.90,415.39 222.60,416.12 223.30,416.86 223.30,416.86" fill="none" stroke="#E19C24" stroke-width="1.3" stroke-linejoin="round"/>
<line clip-path="url(#cd)" x1="165.50" y1="262.00" x2="165.50" y2="417.30" stroke="#E19C24" stroke-width="1.3"/>
<polyline clip-path="url(#cd)" points="39.30,334.60 40.30,334.60 41.30,334.60 42.30,334.60 43.30,334.60 44.30,334.60 45.30,334.60 46.30,334.60 47.30,334.60 48.30,334.60 49.30,334.60 50.30,334.60 51.30,334.60 52.30,334.60 53.30,334.60 54.30,334.60 55.30,334.60 56.30,334.60 57.30,334.60 58.30,334.60 59.30,334.60 60.30,334.60 61.30,334.60 62.30,334.60 63.30,334.60 64.30,334.60 65.30,334.60 66.30,334.60 67.30,334.60 68.30,334.60 69.30,334.60 70.30,334.60 71.30,334.60 72.30,334.60 73.30,334.60 74.30,334.60 75.30,334.60 76.30,334.60 77.30,334.60 78.30,334.60 79.30,334.60 80.30,334.60 81.30,334.60 82.30,334.60 83.30,334.60 84.30,334.60 85.30,334.60 86.30,334.60 87.30,334.60 88.30,334.60 89.30,334.60 90.30,334.60 91.30,334.60 92.30,334.60 93.30,334.60 94.30,334.60 95.30,334.60 96.30,334.60 97.30,334.60 98.30,334.60 99.30,334.60 100.30,334.60 101.30,334.60 102.30,334.60 103.30,334.60 104.30,334.60 105.30,334.60 106.30,334.60 107.30,334.60 108.30,334.59 109.30,334.57 110.30,334.55 111.30,334.53 112.30,334.49 113.30,334.45 114.30,334.41 115.30,334.37 116.30,334.31 117.30,334.26 118.30,334.20 119.30,334.14 120.30,334.08 121.30,334.02 122.30,333.95 123.30,333.87 124.30,333.77 125.30,333.66 126.30,333.53 127.30,333.38 128.30,333.23 129.30,333.05 130.30,332.87 131.30,332.66 132.30,332.44 133.30,332.16 134.30,331.83 135.30,331.46 136.30,331.03 137.30,330.56 138.30,330.03 139.30,329.46 140.30,328.82 141.30,327.92 142.30,326.90 143.30,325.90 144.30,324.75 145.30,323.25 146.30,320.95 146.55,320.27 146.80,319.56 147.05,318.83 147.30,318.10 147.55,317.38 147.80,316.66 148.05,315.94 148.30,315.16 148.55,314.32 148.80,313.39 149.05,312.33 149.30,311.12 149.55,309.73 149.80,308.03 150.05,305.94 150.30,303.38 150.55,300.30 150.80,296.60 150.85,295.68 150.90,294.57 150.95,293.29 151.00,291.85 151.05,290.28 151.10,288.60 151.15,286.68 151.20,284.46 151.25,281.98 151.30,279.29 151.35,276.46 151.40,273.53 151.45,270.57 151.50,267.62 151.55,264.75 151.60,262.00" fill="none" stroke="#8FB032" stroke-width="1.65" stroke-dasharray="7.2,5.8" stroke-linecap="round" stroke-linejoin="round"/>
<polyline clip-path="url(#cd)" points="153.40,417.30 153.65,412.19 153.90,407.01 154.15,401.97 154.40,397.30 154.65,392.74 154.90,388.17 155.15,383.94 155.40,380.45 155.65,378.00 155.90,376.06 156.15,374.24 156.40,372.53 156.65,370.95 156.90,369.47 157.15,368.12 157.40,366.89 157.65,365.77 157.90,364.76 158.15,363.85 158.40,363.06 158.65,362.37 158.90,361.79 159.15,361.31 159.40,360.89 160.10,359.85 160.80,359.00 161.50,358.36 162.20,357.90 162.90,357.58 163.60,357.29 164.30,357.03 165.00,356.81 165.70,356.63 166.40,356.49 167.10,356.42 167.80,356.41 168.50,356.53 169.20,356.78 169.90,357.13 170.60,357.58 171.30,358.09 172.00,358.64 172.70,359.22 173.40,359.80 174.10,360.46 174.80,361.24 175.50,362.15 176.20,363.14 176.90,364.20 177.60,365.31 178.30,366.45 179.00,367.58 179.70,368.69 180.40,369.75 181.10,370.78 181.80,371.80 182.50,372.83 183.20,373.86 183.90,374.90 184.60,375.94 185.30,376.99 186.00,378.05 186.70,379.12 187.40,380.19 188.10,381.28 188.80,382.38 189.50,383.50 190.20,384.63 190.90,385.77 191.60,386.93 192.30,388.10 193.00,389.28 193.70,390.46 194.40,391.65 195.10,392.86 195.80,394.06 196.50,395.27 197.20,396.48 197.90,397.71 198.60,398.98 199.30,400.30 200.00,401.64 200.70,402.98 201.40,404.31 202.10,405.59 202.80,406.82 203.50,407.97 204.20,409.02 204.90,409.97 205.60,410.85 206.30,411.68 207.00,412.46 207.70,413.22 208.40,413.95 209.10,414.67 209.80,415.39 210.50,416.12 211.20,416.86 211.90,416.77 212.60,415.53 213.30,414.29 214.00,413.05 214.70,411.81 215.40,410.57 216.10,409.33 216.80,408.10 217.50,406.87 218.20,405.65 218.90,404.44 219.60,403.24 220.30,402.05 221.00,400.87 221.70,399.69 222.40,398.51 223.10,397.32 223.30,396.97" fill="none" stroke="#8FB032" stroke-width="1.65" stroke-dasharray="7.2,5.8" stroke-linecap="round" stroke-linejoin="round"/>
<line clip-path="url(#cd)" x1="153.40" y1="262.00" x2="153.40" y2="417.30" stroke="#8FB032" stroke-width="1.65" stroke-dasharray="7.2,5.8" stroke-linecap="round"/>
<polyline clip-path="url(#cd)" points="39.30,334.60 40.30,334.60 41.30,334.60 42.30,334.60 43.30,334.60 44.30,334.60 45.30,334.60 46.30,334.60 47.30,334.60 48.30,334.60 49.30,334.60 50.30,334.60 51.30,334.60 52.30,334.60 53.30,334.60 54.30,334.60 55.30,334.60 56.30,334.60 57.30,334.60 58.30,334.60 59.30,334.60 60.30,334.60 61.30,334.60 62.30,334.60 63.30,334.60 64.30,334.60 65.30,334.60 66.30,334.60 67.30,334.60 68.30,334.60 69.30,334.60 70.30,334.60 71.30,334.60 72.30,334.60 73.30,334.60 74.30,334.60 75.30,334.60 76.30,334.60 77.30,334.60 78.30,334.60 79.30,334.60 80.30,334.60 81.30,334.60 82.30,334.60 83.30,334.60 84.30,334.60 85.30,334.60 86.30,334.60 87.30,334.60 88.30,334.60 89.30,334.60 90.30,334.60 91.30,334.60 92.30,334.60 93.30,334.60 94.30,334.60 95.30,334.60 96.30,334.59 97.30,334.58 98.30,334.56 99.30,334.54 100.30,334.51 101.30,334.47 102.30,334.43 103.30,334.38 104.30,334.34 105.30,334.28 106.30,334.23 107.30,334.17 108.30,334.11 109.30,334.04 110.30,333.98 111.30,333.90 112.30,333.81 113.30,333.70 114.30,333.58 115.30,333.44 116.30,333.29 117.30,333.12 118.30,332.94 119.30,332.75 120.30,332.53 121.30,332.28 122.30,331.97 123.30,331.61 124.30,331.21 125.30,330.75 126.30,330.25 127.30,329.70 128.30,329.10 129.30,328.30 130.30,327.30 131.30,326.30 132.30,325.24 133.30,323.91 134.30,321.97 134.55,321.34 134.80,320.68 135.05,319.99 135.30,319.27 135.55,318.54 135.80,317.81 136.05,317.09 136.30,316.38 136.55,315.63 136.80,314.84 137.05,313.96 137.30,312.98 137.55,311.87 137.80,310.60 138.05,309.09 138.30,307.24 138.55,304.97 138.80,302.21 139.05,298.89 139.10,298.15 139.15,297.38 139.20,296.60 139.25,295.68 139.30,294.57 139.35,293.29 139.40,291.85 139.45,290.28 139.50,288.60 139.55,286.68 139.60,284.46 139.65,281.98 139.70,279.29 139.75,276.46 139.80,273.53 139.85,270.57 139.90,267.62 139.95,264.75 140.00,262.00" fill="none" stroke="#EB6235" stroke-width="1.3" stroke-linejoin="round"/>
<polyline clip-path="url(#cd)" points="142.30,417.30 142.55,412.19 142.80,407.01 143.05,401.97 143.30,397.30 143.55,392.74 143.80,388.17 144.05,383.94 144.30,380.45 144.55,378.00 144.80,376.06 145.05,374.24 145.30,372.53 145.55,370.95 145.80,369.47 146.05,368.12 146.30,366.89 146.55,365.77 146.80,364.76 147.05,363.85 147.30,363.06 147.55,362.37 147.80,361.79 148.05,361.31 148.30,360.89 149.00,359.85 149.70,359.00 150.40,358.36 151.10,357.90 151.80,357.58 152.50,357.29 153.20,357.03 153.90,356.81 154.60,356.63 155.30,356.49 156.00,356.42 156.70,356.41 157.40,356.53 158.10,356.78 158.80,357.13 159.50,357.58 160.20,358.09 160.90,358.64 161.60,359.22 162.30,359.80 163.00,360.46 163.70,361.24 164.40,362.15 165.10,363.14 165.80,364.20 166.50,365.31 167.20,366.45 167.90,367.58 168.60,368.69 169.30,369.75 170.00,370.78 170.70,371.80 171.40,372.83 172.10,373.86 172.80,374.90 173.50,375.94 174.20,376.99 174.90,378.05 175.60,379.12 176.30,380.19 177.00,381.28 177.70,382.38 178.40,383.50 179.10,384.63 179.80,385.77 180.50,386.93 181.20,388.10 181.90,389.28 182.60,390.46 183.30,391.65 184.00,392.86 184.70,394.06 185.40,395.27 186.10,396.48 186.80,397.71 187.50,398.98 188.20,400.30 188.90,401.64 189.60,402.98 190.30,404.31 191.00,405.59 191.70,406.82 192.40,407.97 193.10,409.02 193.80,409.97 194.50,410.85 195.20,411.68 195.90,412.46 196.60,413.22 197.30,413.95 198.00,414.67 198.70,415.39 199.40,416.12 200.10,416.86 200.80,416.77 201.50,415.53 202.20,414.29 202.90,413.05 203.60,411.81 204.30,410.57 205.00,409.33 205.70,408.10 206.40,406.87 207.10,405.65 207.80,404.44 208.50,403.24 209.20,402.05 209.90,400.87 210.60,399.69 211.30,398.51 212.00,397.32 212.70,396.11 213.40,394.90 214.10,393.66 214.80,392.39 215.50,391.08 216.20,389.75 216.90,388.40 217.60,387.03 218.30,385.67 219.00,384.31 219.70,382.97 220.40,381.65 221.10,380.37 221.80,379.13 222.50,377.91 223.20,376.70 223.30,376.52" fill="none" stroke="#EB6235" stroke-width="1.3" stroke-linejoin="round"/>
<line clip-path="url(#cd)" x1="142.30" y1="262.00" x2="142.30" y2="417.30" stroke="#EB6235" stroke-width="1.3"/>
<polyline clip-path="url(#cd)" points="39.30,334.60 40.30,334.60 41.30,334.60 42.30,334.60 43.30,334.60 44.30,334.60 45.30,334.60 46.30,334.60 47.30,334.60 48.30,334.60 49.30,334.60 50.30,334.60 51.30,334.60 52.30,334.60 53.30,334.60 54.30,334.60 55.30,334.60 56.30,334.60 57.30,334.60 58.30,334.60 59.30,334.60 60.30,334.60 61.30,334.60 62.30,334.60 63.30,334.60 64.30,334.60 65.30,334.60 66.30,334.60 67.30,334.60 68.30,334.60 69.30,334.60 70.30,334.60 71.30,334.60 72.30,334.60 73.30,334.60 74.30,334.60 75.30,334.60 76.30,334.60 77.30,334.60 78.30,334.60 79.30,334.60 80.30,334.60 81.30,334.60 82.30,334.60 83.30,334.60 84.30,334.60 85.30,334.60 86.30,334.60 87.30,334.59 88.30,334.58 89.30,334.56 90.30,334.54 91.30,334.51 92.30,334.47 93.30,334.43 94.30,334.39 95.30,334.34 96.30,334.29 97.30,334.23 98.30,334.17 99.30,334.11 100.30,334.05 101.30,333.99 102.30,333.91 103.30,333.82 104.30,333.71 105.30,333.59 106.30,333.46 107.30,333.31 108.30,333.14 109.30,332.96 110.30,332.77 111.30,332.55 112.30,332.30 113.30,332.00 114.30,331.65 115.30,331.25 116.30,330.80 117.30,330.30 118.30,329.75 119.30,329.16 120.30,328.40 121.30,327.41 122.30,326.40 123.30,325.35 124.30,324.06 125.30,322.20 125.55,321.60 125.80,320.95 126.05,320.27 126.30,319.56 126.55,318.83 126.80,318.10 127.05,317.38 127.30,316.66 127.55,315.94 127.80,315.16 128.05,314.32 128.30,313.39 128.55,312.33 128.80,311.12 129.05,309.73 129.30,308.03 129.55,305.94 129.80,303.38 130.05,300.30 130.30,296.60 130.35,295.68 130.40,294.57 130.45,293.29 130.50,291.85 130.55,290.28 130.60,288.60 130.65,286.68 130.70,284.46 130.75,281.98 130.80,279.29 130.85,276.46 130.90,273.53 130.95,270.57 131.00,267.62 131.05,264.75 131.10,262.00" fill="none" stroke="#8778B3" stroke-width="1.65" stroke-dasharray="7.2,5.8" stroke-linecap="round" stroke-linejoin="round"/>
<polyline clip-path="url(#cd)" points="132.40,417.30 132.65,412.19 132.90,407.01 133.15,401.97 133.40,397.30 133.65,392.74 133.90,388.17 134.15,383.94 134.40,380.45 134.65,378.00 134.90,376.06 135.15,374.24 135.40,372.53 135.65,370.95 135.90,369.47 136.15,368.12 136.40,366.89 136.65,365.77 136.90,364.76 137.15,363.85 137.40,363.06 137.65,362.37 137.90,361.79 138.15,361.31 138.40,360.89 139.10,359.85 139.80,359.00 140.50,358.36 141.20,357.90 141.90,357.58 142.60,357.29 143.30,357.03 144.00,356.81 144.70,356.63 145.40,356.49 146.10,356.42 146.80,356.41 147.50,356.53 148.20,356.78 148.90,357.13 149.60,357.58 150.30,358.09 151.00,358.64 151.70,359.22 152.40,359.80 153.10,360.46 153.80,361.24 154.50,362.15 155.20,363.14 155.90,364.20 156.60,365.31 157.30,366.45 158.00,367.58 158.70,368.69 159.40,369.75 160.10,370.78 160.80,371.80 161.50,372.83 162.20,373.86 162.90,374.90 163.60,375.94 164.30,376.99 165.00,378.05 165.70,379.12 166.40,380.19 167.10,381.28 167.80,382.38 168.50,383.50 169.20,384.63 169.90,385.77 170.60,386.93 171.30,388.10 172.00,389.28 172.70,390.46 173.40,391.65 174.10,392.86 174.80,394.06 175.50,395.27 176.20,396.48 176.90,397.71 177.60,398.98 178.30,400.30 179.00,401.64 179.70,402.98 180.40,404.31 181.10,405.59 181.80,406.82 182.50,407.97 183.20,409.02 183.90,409.97 184.60,410.85 185.30,411.68 186.00,412.46 186.70,413.22 187.40,413.95 188.10,414.67 188.80,415.39 189.50,416.12 190.20,416.86 190.90,416.77 191.60,415.53 192.30,414.29 193.00,413.05 193.70,411.81 194.40,410.57 195.10,409.33 195.80,408.10 196.50,406.87 197.20,405.65 197.90,404.44 198.60,403.24 199.30,402.05 200.00,400.87 200.70,399.69 201.40,398.51 202.10,397.32 202.80,396.11 203.50,394.90 204.20,393.66 204.90,392.39 205.60,391.08 206.30,389.75 207.00,388.40 207.70,387.03 208.40,385.67 209.10,384.31 209.80,382.97 210.50,381.65 211.20,380.37 211.90,379.13 212.60,377.91 213.30,376.70 214.00,375.49 214.70,374.30 215.40,373.12 216.10,371.95 216.80,370.80 217.50,369.66 218.20,368.54 218.90,367.44 219.60,366.36 220.30,365.31 221.00,364.28 221.70,363.28 222.40,362.30 223.10,361.35 223.30,361.08" fill="none" stroke="#8778B3" stroke-width="1.65" stroke-dasharray="7.2,5.8" stroke-linecap="round" stroke-linejoin="round"/>
<line clip-path="url(#cd)" x1="132.40" y1="262.00" x2="132.40" y2="417.30" stroke="#8778B3" stroke-width="1.65" stroke-dasharray="7.2,5.8" stroke-linecap="round"/>
<polyline clip-path="url(#cd)" points="39.30,334.60 45.87,334.60 52.44,334.60 59.01,334.60 65.58,334.60 72.15,334.60 78.72,334.60 85.29,334.60 91.86,334.60 98.43,334.60 105.00,334.60 105.72,334.54 106.44,334.37 107.16,334.10 107.88,333.76 108.60,333.37 109.32,332.94 110.04,332.48 110.76,332.03 111.48,331.60 112.20,331.20 112.81,330.85 113.42,330.43 114.03,329.98 114.64,329.51 115.25,329.05 115.86,328.63 116.47,328.26 117.08,327.96 117.69,327.77 118.30,327.70 118.49,327.76 118.68,327.94 118.87,328.20 119.06,328.54 119.25,328.94 119.44,329.36 119.63,329.80 119.82,330.23 120.01,330.64 120.20,331.00 120.32,332.58 120.44,334.21 120.56,335.88 120.68,337.55 120.80,339.21 120.92,340.83 121.04,342.38 121.16,343.85 121.28,345.19 121.40,346.40 121.60,348.28 121.80,350.14 122.00,351.94 122.20,353.67 122.40,355.28 122.60,356.76 122.80,358.07 123.00,359.18 123.20,360.07 123.40,360.70 123.60,361.19 123.80,361.65 124.00,362.08 124.20,362.47 124.40,362.82 124.60,363.12 124.80,363.36 125.00,363.55 125.20,363.66 125.40,363.70 125.66,363.65 125.92,363.50 126.18,363.28 126.44,363.00 126.70,362.67 126.96,362.32 127.22,361.96 127.48,361.61 127.74,361.29 128.00,361.00 128.25,360.75 128.50,360.50 128.75,360.24 129.00,359.99 129.25,359.74 129.50,359.50 129.75,359.26 130.00,359.03 130.25,358.81 130.50,358.60 130.82,358.33 131.14,358.04 131.46,357.75 131.78,357.45 132.10,357.18 132.42,356.93 132.74,356.71 133.06,356.55 133.38,356.44 133.70,356.40 135.26,356.70 136.82,357.55 138.38,358.87 139.94,360.58 141.50,362.58 143.06,364.80 144.62,367.16 146.18,369.56 147.74,371.94 149.30,374.20 150.44,375.87 151.58,377.69 152.72,379.63 153.86,381.66 155.00,383.75 156.14,385.87 157.28,387.99 158.42,390.09 159.56,392.14 160.70,394.10 162.12,396.47 163.54,398.80 164.96,401.11 166.38,403.40 167.80,405.67 169.22,407.93 170.64,410.19 172.06,412.45 173.48,414.72 174.90,417.00 175.51,416.30 176.12,415.61 176.73,414.92 177.34,414.24 177.95,413.55 178.56,412.86 179.17,412.16 179.78,411.45 180.39,410.73 181.00,410.00 181.70,409.15 182.40,408.31 183.10,407.45 183.80,406.59 184.50,405.72 185.20,404.83 185.90,403.92 186.60,402.98 187.30,402.01 188.00,401.00 189.20,399.18 190.40,397.26 191.60,395.24 192.80,393.14 194.00,390.99 195.20,388.80 196.40,386.59 197.60,384.37 198.80,382.17 200.00,380.00 201.20,377.82 202.40,375.60 203.60,373.35 204.80,371.08 206.00,368.81 207.20,366.56 208.40,364.33 209.60,362.16 210.80,360.04 212.00,358.00 212.96,356.42 213.92,354.86 214.88,353.33 215.84,351.83 216.80,350.35 217.76,348.90 218.72,347.47 219.68,346.06 220.64,344.67 221.60,343.30 221.77,343.06 221.94,342.83 222.11,342.59 222.28,342.36 222.45,342.14 222.62,341.91 222.79,341.68 222.96,341.46 223.13,341.23 223.30,341.00" fill="none" stroke="#C56E1A" stroke-width="1.3" stroke-linejoin="round"/>
<polyline clip-path="url(#cd)" points="39.30,334.60 45.77,334.60 52.24,334.60 58.71,334.60 65.18,334.60 71.65,334.60 78.12,334.60 84.59,334.60 91.06,334.60 97.53,334.60 104.00,334.60 104.21,334.60 104.42,334.61 104.63,334.62 104.84,334.64 105.05,334.66 105.26,334.68 105.47,334.71 105.68,334.74 105.89,334.77 106.10,334.80 106.61,335.11 107.12,335.83 107.63,336.87 108.14,338.16 108.65,339.60 109.16,341.13 109.67,342.65 110.18,344.09 110.69,345.37 111.20,346.40 111.71,347.27 112.22,348.12 112.73,348.95 113.24,349.74 113.75,350.50 114.26,351.21 114.77,351.87 115.28,352.47 115.79,353.02 116.30,353.50 116.77,353.90 117.24,354.29 117.71,354.66 118.18,355.01 118.65,355.33 119.12,355.63 119.59,355.90 120.06,356.13 120.53,356.34 121.00,356.50 121.55,356.65 122.10,356.78 122.65,356.88 123.20,356.97 123.75,357.05 124.30,357.13 124.85,357.22 125.40,357.32 125.95,357.45 126.50,357.60 127.35,357.92 128.20,358.33 129.05,358.84 129.90,359.45 130.75,360.14 131.60,360.91 132.45,361.75 133.30,362.67 134.15,363.66 135.00,364.70 135.80,365.89 136.60,367.42 137.40,369.21 138.20,371.23 139.00,373.42 139.80,375.72 140.60,378.09 141.40,380.46 142.20,382.78 143.00,385.00 143.70,386.92 144.40,388.90 145.10,390.93 145.80,392.99 146.50,395.06 147.20,397.12 147.90,399.17 148.60,401.17 149.30,403.12 150.00,405.00 150.49,406.27 150.98,407.51 151.47,408.73 151.96,409.92 152.45,411.11 152.94,412.28 153.43,413.45 153.92,414.63 154.41,415.81 154.90,417.00 155.41,416.09 155.92,415.18 156.43,414.26 156.94,413.34 157.45,412.42 157.96,411.51 158.47,410.60 158.98,409.72 159.49,408.85 160.00,408.00 161.00,406.36 162.00,404.73 163.00,403.10 164.00,401.51 165.00,399.94 166.00,398.42 167.00,396.96 168.00,395.56 169.00,394.24 170.00,393.00 171.09,391.76 172.18,390.61 173.27,389.54 174.36,388.51 175.45,387.52 176.54,386.54 177.63,385.55 178.72,384.53 179.81,383.45 180.90,382.30 182.69,380.22 184.48,377.96 186.27,375.56 188.06,373.07 189.85,370.56 191.64,368.08 193.43,365.68 195.22,363.41 197.01,361.33 198.80,359.50 200.75,357.71 202.70,356.02 204.65,354.42 206.60,352.90 208.55,351.45 210.50,350.06 212.45,348.72 214.40,347.42 216.35,346.15 218.30,344.90 218.80,344.59 219.30,344.28 219.80,343.99 220.30,343.70 220.80,343.41 221.30,343.13 221.80,342.85 222.30,342.57 222.80,342.29 223.30,342.00" fill="none" stroke="#5D9EC7" stroke-width="1.65" stroke-dasharray="7.2,5.8" stroke-linecap="round" stroke-linejoin="round"/>
<polyline clip-path="url(#cd)" points="39.30,334.60 43.37,334.60 47.44,334.60 51.51,334.60 55.58,334.60 59.65,334.60 63.72,334.60 67.79,334.60 71.86,334.60 75.93,334.60 80.00,334.60 80.38,334.61 80.76,334.62 81.14,334.64 81.52,334.68 81.90,334.72 82.28,334.76 82.66,334.81 83.04,334.87 83.42,334.93 83.80,335.00 84.42,335.21 85.04,335.58 85.66,336.09 86.28,336.72 86.90,337.42 87.52,338.16 88.14,338.92 88.76,339.67 89.38,340.37 90.00,341.00 90.60,341.57 91.20,342.15 91.80,342.74 92.40,343.32 93.00,343.90 93.60,344.46 94.20,345.00 94.80,345.51 95.40,345.98 96.00,346.40 97.01,347.04 98.02,347.62 99.03,348.17 100.04,348.67 101.05,349.15 102.06,349.62 103.07,350.07 104.08,350.53 105.09,351.01 106.10,351.50 107.12,352.00 108.14,352.47 109.16,352.92 110.18,353.37 111.20,353.83 112.22,354.31 113.24,354.81 114.26,355.35 115.28,355.95 116.30,356.60 117.01,357.10 117.72,357.64 118.43,358.21 119.14,358.84 119.85,359.50 120.56,360.21 121.27,360.96 121.98,361.76 122.69,362.61 123.40,363.50 124.29,364.76 125.18,366.20 126.07,367.81 126.96,369.56 127.85,371.42 128.74,373.36 129.63,375.35 130.52,377.38 131.41,379.40 132.30,381.40 133.20,383.49 134.10,385.75 135.00,388.12 135.90,390.55 136.80,392.99 137.70,395.40 138.60,397.72 139.50,399.91 140.40,401.92 141.30,403.70 142.22,405.31 143.14,406.81 144.06,408.21 144.98,409.53 145.90,410.79 146.82,412.02 147.74,413.23 148.66,414.45 149.58,415.70 150.50,417.00 151.59,415.48 152.68,414.00 153.77,412.56 154.86,411.11 155.95,409.66 157.04,408.17 158.13,406.63 159.22,405.02 160.31,403.31 161.40,401.50 162.52,399.45 163.64,397.18 164.76,394.75 165.88,392.19 167.00,389.56 168.12,386.91 169.24,384.28 170.36,381.72 171.48,379.28 172.60,377.00 173.49,375.28 174.38,373.59 175.27,371.92 176.16,370.29 177.05,368.69 177.94,367.13 178.83,365.61 179.72,364.13 180.61,362.69 181.50,361.30 182.84,359.22 184.18,357.12 185.52,355.02 186.86,352.97 188.20,351.00 189.54,349.13 190.88,347.40 192.22,345.85 193.56,344.51 194.90,343.40 196.24,342.45 197.58,341.55 198.92,340.70 200.26,339.91 201.60,339.19 202.94,338.53 204.28,337.95 205.62,337.45 206.96,337.03 208.30,336.70 209.64,336.43 210.98,336.18 212.32,335.96 213.66,335.76 215.00,335.58 216.34,335.41 217.68,335.26 219.02,335.13 220.36,335.01 221.70,334.90 221.86,334.89 222.02,334.88 222.18,334.87 222.34,334.86 222.50,334.85 222.66,334.84 222.82,334.83 222.98,334.82 223.14,334.81 223.30,334.80" fill="none" stroke="#FFBF00" stroke-width="1.3" stroke-linejoin="round"/>
<polyline clip-path="url(#cd)" points="39.30,334.60 42.37,334.60 45.44,334.60 48.51,334.60 51.58,334.60 54.65,334.60 57.72,334.60 60.79,334.60 63.86,334.60 66.93,334.60 70.00,334.60 70.36,334.61 70.72,334.62 71.08,334.65 71.44,334.68 71.80,334.72 72.16,334.77 72.52,334.82 72.88,334.88 73.24,334.94 73.60,335.00 74.24,335.17 74.88,335.43 75.52,335.78 76.16,336.19 76.80,336.64 77.44,337.13 78.08,337.62 78.72,338.11 79.36,338.57 80.00,339.00 81.19,339.73 82.38,340.46 83.57,341.17 84.76,341.89 85.95,342.61 87.14,343.33 88.33,344.07 89.52,344.82 90.71,345.60 91.90,346.40 93.73,347.63 95.56,348.82 97.39,350.00 99.22,351.21 101.05,352.48 102.88,353.83 104.71,355.29 106.54,356.91 108.37,358.70 110.20,360.70 111.42,362.27 112.64,364.12 113.86,366.23 115.08,368.56 116.30,371.06 117.52,373.71 118.74,376.47 119.96,379.29 121.18,382.15 122.40,385.00 122.96,386.34 123.52,387.75 124.08,389.21 124.64,390.71 125.20,392.25 125.76,393.81 126.32,395.37 126.88,396.93 127.44,398.48 128.00,400.00 128.35,400.91 128.70,401.77 129.05,402.60 129.40,403.43 129.75,404.27 130.10,405.15 130.45,406.08 130.80,407.08 131.15,408.18 131.50,409.40 131.65,409.99 131.80,410.65 131.95,411.37 132.10,412.14 132.25,412.94 132.40,413.76 132.55,414.59 132.70,415.41 132.85,416.22 133.00,417.00 133.70,415.98 134.40,414.94 135.10,413.88 135.80,412.81 136.50,411.75 137.20,410.72 137.90,409.71 138.60,408.75 139.30,407.84 140.00,407.00 141.08,405.87 142.16,404.90 143.24,404.06 144.32,403.28 145.40,402.51 146.48,401.70 147.56,400.78 148.64,399.71 149.72,398.44 150.80,396.90 151.24,396.05 151.68,394.91 152.12,393.55 152.56,392.03 153.00,390.40 153.44,388.75 153.88,387.11 154.32,385.57 154.76,384.18 155.20,383.00 156.75,379.45 158.30,376.19 159.85,373.18 161.40,370.37 162.95,367.74 164.50,365.23 166.05,362.81 167.60,360.44 169.15,358.08 170.70,355.70 171.23,354.86 171.76,354.00 172.29,353.13 172.82,352.27 173.35,351.44 173.88,350.64 174.41,349.89 174.94,349.21 175.47,348.61 176.00,348.10 176.82,347.43 177.64,346.83 178.46,346.28 179.28,345.78 180.10,345.32 180.92,344.89 181.74,344.48 182.56,344.08 183.38,343.69 184.20,343.30 185.78,342.53 187.36,341.74 188.94,340.96 190.52,340.20 192.10,339.49 193.68,338.82 195.26,338.22 196.84,337.71 198.42,337.30 200.00,337.00 202.33,336.68 204.66,336.42 206.99,336.19 209.32,335.99 211.65,335.82 213.98,335.66 216.31,335.51 218.64,335.35 220.97,335.19 223.30,335.00" fill="none" stroke="#A5609D" stroke-width="1.65" stroke-dasharray="7.2,5.8" stroke-linecap="round" stroke-linejoin="round"/>
<line x1="72.6" y1="335" x2="72.6" y2="417.3" stroke="#fff" stroke-opacity="0.55" stroke-width="0.8"/>
<line x1="106.5" y1="335" x2="106.5" y2="417.3" stroke="#fff" stroke-opacity="0.55" stroke-width="0.8"/>
<line x1="121.4" y1="335" x2="121.4" y2="417.3" stroke="#fff" stroke-opacity="0.55" stroke-width="0.8"/>
<rect x="35.9" y="253" width="190.6" height="172.60000000000002" fill="none" stroke="#000" stroke-width="1.3"/>
<path d="M57.70,425.6v-2.8M57.70,253v2.8M94.40,425.6v-2.8M94.40,253v2.8M131.10,425.6v-2.8M131.10,253v2.8M167.80,425.6v-2.8M167.80,253v2.8M204.50,425.6v-2.8M204.50,253v2.8M39.35,425.6v-1.6M39.35,253v1.6M48.52,425.6v-1.6M48.52,253v1.6M66.87,425.6v-1.6M66.87,253v1.6M76.05,425.6v-1.6M76.05,253v1.6M85.22,425.6v-1.6M85.22,253v1.6M103.57,425.6v-1.6M103.57,253v1.6M112.75,425.6v-1.6M112.75,253v1.6M121.92,425.6v-1.6M121.92,253v1.6M140.28,425.6v-1.6M140.28,253v1.6M149.45,425.6v-1.6M149.45,253v1.6M158.62,425.6v-1.6M158.62,253v1.6M176.97,425.6v-1.6M176.97,253v1.6M186.15,425.6v-1.6M186.15,253v1.6M195.32,425.6v-1.6M195.32,253v1.6M213.68,425.6v-1.6M213.68,253v1.6M222.85,425.6v-1.6M222.85,253v1.6M35.9,417.30h2.8M226.5,417.30h-2.8M35.9,393.70h2.8M226.5,393.70h-2.8M35.9,370.10h2.8M226.5,370.10h-2.8M35.9,346.50h2.8M226.5,346.50h-2.8M35.9,322.90h2.8M226.5,322.90h-2.8M35.9,299.30h2.8M226.5,299.30h-2.8M35.9,275.70h2.8M226.5,275.70h-2.8M35.9,426.74h1.6M226.5,426.74h-1.6M35.9,422.02h1.6M226.5,422.02h-1.6M35.9,412.58h1.6M226.5,412.58h-1.6M35.9,407.86h1.6M226.5,407.86h-1.6M35.9,403.14h1.6M226.5,403.14h-1.6M35.9,398.42h1.6M226.5,398.42h-1.6M35.9,388.98h1.6M226.5,388.98h-1.6M35.9,384.26h1.6M226.5,384.26h-1.6M35.9,379.54h1.6M226.5,379.54h-1.6M35.9,374.82h1.6M226.5,374.82h-1.6M35.9,365.38h1.6M226.5,365.38h-1.6M35.9,360.66h1.6M226.5,360.66h-1.6M35.9,355.94h1.6M226.5,355.94h-1.6M35.9,351.22h1.6M226.5,351.22h-1.6M35.9,341.78h1.6M226.5,341.78h-1.6M35.9,337.06h1.6M226.5,337.06h-1.6M35.9,332.34h1.6M226.5,332.34h-1.6M35.9,327.62h1.6M226.5,327.62h-1.6M35.9,318.18h1.6M226.5,318.18h-1.6M35.9,313.46h1.6M226.5,313.46h-1.6M35.9,308.74h1.6M226.5,308.74h-1.6M35.9,304.02h1.6M226.5,304.02h-1.6M35.9,294.58h1.6M226.5,294.58h-1.6M35.9,289.86h1.6M226.5,289.86h-1.6M35.9,285.14h1.6M226.5,285.14h-1.6M35.9,280.42h1.6M226.5,280.42h-1.6M35.9,270.98h1.6M226.5,270.98h-1.6M35.9,266.26h1.6M226.5,266.26h-1.6M35.9,261.54h1.6M226.5,261.54h-1.6M35.9,256.82h1.6M226.5,256.82h-1.6" stroke="#000" stroke-width="0.9" fill="none"/>
<g font-weight="bold" font-size="12.2" fill="#111">
<text transform="translate(57.70,440.2) scale(0.8,1)" text-anchor="middle">-4</text>
<text transform="translate(94.40,440.2) scale(0.8,1)" text-anchor="middle">-2</text>
<text transform="translate(131.10,440.2) scale(0.8,1)" text-anchor="middle">0</text>
<text transform="translate(167.80,440.2) scale(0.8,1)" text-anchor="middle">2</text>
<text transform="translate(204.50,440.2) scale(0.8,1)" text-anchor="middle">4</text>
<text transform="translate(34.10,421.50) scale(0.8,1)" text-anchor="end">0</text>
<text transform="translate(34.10,397.90) scale(0.8,1)" text-anchor="end">1</text>
<text transform="translate(34.10,374.30) scale(0.8,1)" text-anchor="end">2</text>
<text transform="translate(34.10,350.70) scale(0.8,1)" text-anchor="end">3</text>
<text transform="translate(34.10,327.10) scale(0.8,1)" text-anchor="end">4</text>
<text transform="translate(34.10,303.50) scale(0.8,1)" text-anchor="end">5</text>
<text transform="translate(34.10,279.90) scale(0.8,1)" text-anchor="end">6</text>
</g>
<text x="131.10" y="462" font-size="7" font-weight="bold" fill="#111" text-anchor="middle">x</text>
<text transform="translate(21.8,339.1) rotate(-90) scale(1.12,1)" font-size="7.6" font-weight="bold" fill="#111" text-anchor="middle"><tspan font-style="italic">U</tspan><tspan font-size="5.2" dy="1.5">9</tspan><tspan dy="-1.5">(x, t)</tspan></text>
<polygon clip-path="url(#ce)" points="271.10,416.50 271.10,316.40 283.99,316.42 296.88,316.43 309.77,316.44 322.66,316.45 335.55,316.46 348.44,316.48 361.33,316.50 374.22,316.52 387.11,316.56 400.00,316.60 402.50,316.64 405.00,316.74 407.50,316.88 410.00,317.06 412.50,317.27 415.00,317.51 417.50,317.76 420.00,318.01 422.50,318.26 425.00,318.50 427.16,318.71 429.32,318.93 431.48,319.18 433.64,319.43 435.80,319.69 437.96,319.95 440.12,320.22 442.28,320.48 444.44,320.75 446.60,321.00 446.60,416.50" fill="#5E81B5" fill-opacity="0.2"/>
<polygon clip-path="url(#ce)" points="271.10,416.50 271.10,316.40 285.99,316.41 300.88,316.42 315.77,316.42 330.66,316.43 345.55,316.43 360.44,316.44 375.33,316.45 390.22,316.46 405.11,316.48 420.00,316.50 422.66,316.53 425.32,316.61 427.98,316.74 430.64,316.89 433.30,317.07 435.96,317.26 438.62,317.46 441.28,317.65 443.94,317.84 446.60,318.00 446.60,416.50" fill="#E19C24" fill-opacity="0.2"/>
<polygon clip-path="url(#ce)" points="271.10,416.50 271.10,316.40 283.99,316.41 296.88,316.42 309.77,316.42 322.66,316.43 335.55,316.43 348.44,316.44 361.33,316.45 374.22,316.46 387.11,316.48 400.00,316.50 402.50,316.55 405.00,316.67 407.50,316.85 410.00,317.09 412.50,317.37 415.00,317.68 417.50,318.01 420.00,318.34 422.50,318.68 425.00,319.00 427.16,319.28 429.32,319.60 431.48,319.93 433.64,320.28 435.80,320.65 437.96,321.02 440.12,321.40 442.28,321.77 444.44,322.14 446.60,322.50 446.60,416.50" fill="#8FB032" fill-opacity="0.2"/>
<polygon clip-path="url(#ce)" points="271.10,416.50 271.10,316.40 281.65,316.41 292.20,316.41 302.75,316.42 313.30,316.42 323.85,316.43 334.40,316.44 344.95,316.44 355.50,316.46 366.05,316.48 376.60,316.50 377.82,316.66 379.04,317.10 380.26,317.76 381.48,318.57 382.70,319.47 383.92,320.40 385.14,321.30 386.36,322.11 387.58,322.76 388.80,323.20 390.02,323.48 391.24,323.72 392.46,323.93 393.68,324.10 394.90,324.27 396.12,324.43 397.34,324.59 398.56,324.77 399.78,324.97 401.00,325.20 403.04,325.65 405.08,326.14 407.12,326.68 409.16,327.26 411.20,327.87 413.24,328.52 415.28,329.20 417.32,329.91 419.36,330.64 421.40,331.40 423.84,332.37 426.28,333.45 428.72,334.61 431.16,335.84 433.60,337.12 436.04,338.43 438.48,339.75 440.92,341.06 443.36,342.35 445.80,343.60 445.88,343.64 445.96,343.68 446.04,343.72 446.12,343.76 446.20,343.80 446.28,343.84 446.36,343.88 446.44,343.92 446.52,343.96 446.60,344.00 446.60,416.50" fill="#EB6235" fill-opacity="0.2"/>
<polygon clip-path="url(#ce)" points="271.10,416.50 271.10,316.40 272.10,316.40 273.10,316.40 274.10,316.40 275.10,316.40 276.10,316.40 277.10,316.40 278.10,316.40 279.10,316.40 280.10,316.40 281.10,316.40 282.10,316.40 283.10,316.40 284.10,316.40 285.10,316.40 286.10,316.40 287.10,316.40 288.10,316.40 289.10,316.40 290.10,316.40 291.10,316.40 292.10,316.39 293.10,316.39 294.10,316.37 295.10,316.36 296.10,316.34 297.10,316.32 298.10,316.30 299.10,316.27 300.10,316.25 301.10,316.22 302.10,316.19 303.10,316.16 304.10,316.12 305.10,316.09 306.10,316.05 307.10,316.02 308.10,315.98 309.10,315.94 310.10,315.91 311.10,315.87 312.10,315.83 313.10,315.78 314.10,315.73 315.10,315.67 316.10,315.61 317.10,315.55 318.10,315.48 319.10,315.41 320.10,315.34 321.10,315.26 322.10,315.18 323.10,315.10 324.10,315.02 325.10,314.93 326.10,314.83 327.10,314.73 328.10,314.62 329.10,314.50 330.10,314.37 331.10,314.24 332.10,314.10 333.10,313.95 334.10,313.80 335.10,313.63 336.10,313.46 337.10,313.26 338.10,313.05 339.10,312.82 340.10,312.57 341.10,312.32 342.10,312.05 343.10,311.79 344.10,311.47 345.10,311.05 346.10,310.50 347.10,309.87 348.10,309.20 349.10,308.49 350.10,307.64 351.10,306.50 352.10,304.70 353.10,302.60 354.10,300.60 355.10,297.85 355.35,296.95 355.60,296.00 355.85,295.00 356.10,293.99 356.35,292.91 356.60,291.76 356.85,290.57 357.10,289.37 357.35,288.16 357.60,286.98 357.85,285.78 358.10,284.51 358.35,283.11 358.60,281.58 358.85,279.92 359.10,278.06 359.35,275.94 359.40,275.46 359.45,274.95 359.50,274.42 359.55,273.87 359.60,273.30 359.65,272.71 359.70,272.11 359.75,271.50 359.80,270.88 359.85,270.24 359.90,269.61 359.95,268.97 360.00,268.33 360.05,267.69 360.10,267.06 360.15,266.43 360.20,265.81 360.25,265.20 360.30,264.60 360.30,264.60 360.60,264.60 360.60,416.50 360.60,416.50 360.85,416.50 361.10,416.50 361.35,416.50 361.60,416.50 361.85,416.50 362.10,416.50 362.35,413.24 362.60,398.12 362.85,379.24 363.10,366.50 363.35,360.86 363.60,356.40 363.85,352.99 364.10,350.50 364.35,348.59 364.60,346.95 364.85,345.55 365.10,344.38 365.35,343.37 365.60,342.50 365.85,341.72 366.10,340.99 366.35,340.30 366.60,339.66 367.30,338.10 368.00,336.85 368.70,335.88 369.40,335.02 370.10,334.23 370.80,333.50 371.50,332.85 372.20,332.27 372.90,331.79 373.60,331.39 374.30,331.10 375.00,330.89 375.70,330.71 376.40,330.54 377.10,330.39 377.80,330.26 378.50,330.15 379.20,330.07 379.90,330.02 380.60,330.00 381.30,330.03 382.00,330.10 382.70,330.21 383.40,330.35 384.10,330.53 384.80,330.73 385.50,330.95 386.20,331.18 386.90,331.42 387.60,331.66 388.30,331.90 389.00,332.14 389.70,332.40 390.40,332.70 391.10,333.01 391.80,333.35 392.50,333.71 393.20,334.07 393.90,334.45 394.60,334.84 395.30,335.23 396.00,335.62 396.70,336.01 397.40,336.39 398.10,336.76 398.80,337.12 399.50,337.47 400.20,337.82 400.90,338.18 401.60,338.55 402.30,338.95 403.00,339.38 403.70,339.84 404.40,340.35 405.10,340.94 405.80,341.68 406.50,342.52 407.20,343.40 407.90,344.24 408.60,345.00 409.30,345.64 410.00,346.22 410.70,346.77 411.40,347.34 412.10,347.98 412.80,348.73 413.50,349.61 414.20,350.60 414.90,351.67 415.60,352.82 416.30,354.02 417.00,355.24 417.70,356.46 418.40,357.66 419.10,358.84 419.80,360.03 420.50,361.22 421.20,362.43 421.90,363.66 422.60,364.90 423.30,366.17 424.00,367.46 424.70,368.77 425.40,370.11 426.10,371.48 426.80,372.88 427.50,374.31 428.20,375.77 428.90,377.25 429.60,378.76 430.30,380.30 431.00,381.86 431.70,383.44 432.40,385.04 433.10,386.66 433.80,388.32 434.50,389.99 435.20,391.71 435.90,393.45 436.60,395.23 437.30,397.04 438.00,398.89 438.70,400.77 439.40,402.73 440.10,404.75 440.80,406.83 441.50,408.94 442.20,411.07 442.90,413.20 443.60,415.31 444.30,415.63 445.00,413.60 445.70,411.55 446.40,409.49 446.60,408.90 446.60,416.50" fill="#8778B3" fill-opacity="0.2"/>
<polygon clip-path="url(#ce)" points="271.10,416.50 271.10,316.11 272.10,316.08 273.10,316.04 274.10,316.01 275.10,315.97 276.10,315.93 277.10,315.90 278.10,315.86 279.10,315.81 280.10,315.76 281.10,315.71 282.10,315.65 283.10,315.59 284.10,315.53 285.10,315.46 286.10,315.39 287.10,315.32 288.10,315.24 289.10,315.16 290.10,315.08 291.10,314.99 292.10,314.90 293.10,314.80 294.10,314.70 295.10,314.58 296.10,314.46 297.10,314.33 298.10,314.20 299.10,314.05 300.10,313.90 301.10,313.75 302.10,313.58 303.10,313.40 304.10,313.20 305.10,312.98 306.10,312.74 307.10,312.50 308.10,312.24 309.10,311.97 310.10,311.70 311.10,311.36 312.10,310.90 313.10,310.32 314.10,309.67 315.10,308.99 316.10,308.25 317.10,307.34 318.10,306.03 319.10,304.07 320.10,302.00 321.10,299.91 321.35,299.26 321.60,298.52 321.85,297.68 322.10,296.76 322.35,295.80 322.60,294.80 322.85,293.78 323.10,292.68 323.35,291.53 323.60,290.33 323.85,289.12 324.10,287.92 324.35,286.74 324.60,285.54 324.85,284.24 325.10,282.81 325.35,281.26 325.60,279.57 325.85,277.66 326.10,275.46 326.15,274.95 326.20,274.42 326.25,273.87 326.30,273.30 326.35,272.71 326.40,272.11 326.45,271.50 326.50,270.88 326.55,270.24 326.60,269.61 326.65,268.97 326.70,268.33 326.75,267.69 326.80,267.06 326.85,266.43 326.90,265.81 326.95,265.20 327.00,264.60 327.00,264.60 328.80,264.60 328.80,416.50 328.80,416.50 329.05,416.50 329.30,416.50 329.55,416.50 329.80,416.50 330.05,416.50 330.30,416.50 330.55,413.24 330.80,398.12 331.05,379.24 331.30,366.50 331.55,360.86 331.80,356.40 332.05,352.99 332.30,350.50 332.55,348.59 332.80,346.95 333.05,345.55 333.30,344.38 333.55,343.37 333.80,342.50 334.05,341.72 334.30,340.99 334.55,340.30 334.80,339.66 335.50,338.10 336.20,336.85 336.90,335.88 337.60,335.02 338.30,334.23 339.00,333.50 339.70,332.85 340.40,332.27 341.10,331.79 341.80,331.39 342.50,331.10 343.20,330.89 343.90,330.71 344.60,330.54 345.30,330.39 346.00,330.26 346.70,330.15 347.40,330.07 348.10,330.02 348.80,330.00 349.50,330.03 350.20,330.10 350.90,330.21 351.60,330.35 352.30,330.53 353.00,330.73 353.70,330.95 354.40,331.18 355.10,331.42 355.80,331.66 356.50,331.90 357.20,332.14 357.90,332.40 358.60,332.70 359.30,333.01 360.00,333.35 360.70,333.71 361.40,334.07 362.10,334.45 362.80,334.84 363.50,335.23 364.20,335.62 364.90,336.01 365.60,336.39 366.30,336.76 367.00,337.12 367.70,337.47 368.40,337.82 369.10,338.18 369.80,338.55 370.50,338.95 371.20,339.38 371.90,339.84 372.60,340.35 373.30,340.94 374.00,341.68 374.70,342.52 375.40,343.40 376.10,344.24 376.80,345.00 377.50,345.64 378.20,346.22 378.90,346.77 379.60,347.34 380.30,347.98 381.00,348.73 381.70,349.61 382.40,350.60 383.10,351.67 383.80,352.82 384.50,354.02 385.20,355.24 385.90,356.46 386.60,357.66 387.30,358.84 388.00,360.03 388.70,361.22 389.40,362.43 390.10,363.66 390.80,364.90 391.50,366.17 392.20,367.46 392.90,368.77 393.60,370.11 394.30,371.48 395.00,372.88 395.70,374.31 396.40,375.77 397.10,377.25 397.80,378.76 398.50,380.30 399.20,381.86 399.90,383.44 400.60,385.04 401.30,386.66 402.00,388.32 402.70,389.99 403.40,391.71 404.10,393.45 404.80,395.23 405.50,397.04 406.20,398.89 406.90,400.77 407.60,402.73 408.30,404.75 409.00,406.83 409.70,408.94 410.40,411.07 411.10,413.20 411.80,415.31 412.50,415.63 413.20,413.60 413.90,411.55 414.60,409.49 415.30,407.44 416.00,405.39 416.70,403.37 417.40,401.38 418.10,399.42 418.80,397.50 419.50,395.61 420.20,393.71 420.90,391.83 421.60,389.95 422.30,388.11 423.00,386.29 423.70,384.52 424.40,382.79 425.10,381.12 425.80,379.53 426.50,378.00 427.20,376.54 427.90,375.14 428.60,373.78 429.30,372.45 430.00,371.16 430.70,369.90 431.40,368.67 432.10,367.46 432.80,366.26 433.50,365.08 434.20,363.90 434.90,362.72 435.60,361.54 436.30,360.35 437.00,359.15 437.70,357.94 438.40,356.70 439.10,355.46 439.80,354.22 440.50,352.98 441.20,351.75 441.90,350.54 442.60,349.35 443.30,348.18 444.00,347.05 444.70,345.95 445.40,344.91 446.10,343.91 446.60,343.23 446.60,416.50" fill="#C56E1A" fill-opacity="0.2"/>
<polygon clip-path="url(#ce)" points="271.10,416.50 271.10,314.77 272.10,314.66 273.10,314.55 274.10,314.42 275.10,314.29 276.10,314.15 277.10,314.01 278.10,313.86 279.10,313.70 280.10,313.53 281.10,313.34 282.10,313.14 283.10,312.91 284.10,312.67 285.10,312.42 286.10,312.16 287.10,311.89 288.10,311.61 289.10,311.23 290.10,310.73 291.10,310.13 292.10,309.47 293.10,308.78 294.10,308.00 295.10,307.01 296.10,305.49 297.10,303.44 298.10,301.42 299.10,299.12 299.35,298.36 299.60,297.50 299.85,296.57 300.10,295.60 300.35,294.60 300.60,293.56 300.85,292.45 301.10,291.29 301.35,290.09 301.60,288.88 301.85,287.69 302.10,286.51 302.35,285.29 302.60,283.97 302.85,282.51 303.10,280.94 303.35,279.21 303.60,277.25 303.85,274.95 303.90,274.42 303.95,273.87 304.00,273.30 304.05,272.71 304.10,272.11 304.15,271.50 304.20,270.88 304.25,270.24 304.30,269.61 304.35,268.97 304.40,268.33 304.45,267.69 304.50,267.06 304.55,266.43 304.60,265.81 304.65,265.20 304.70,264.60 304.70,264.60 304.90,264.60 304.90,416.50 304.90,416.50 305.15,416.50 305.40,416.50 305.65,416.50 305.90,416.50 306.15,416.50 306.40,416.50 306.65,413.24 306.90,398.12 307.15,379.24 307.40,366.50 307.65,360.86 307.90,356.40 308.15,352.99 308.40,350.50 308.65,348.59 308.90,346.95 309.15,345.55 309.40,344.38 309.65,343.37 309.90,342.50 310.15,341.72 310.40,340.99 310.65,340.30 310.90,339.66 311.60,338.10 312.30,336.85 313.00,335.88 313.70,335.02 314.40,334.23 315.10,333.50 315.80,332.85 316.50,332.27 317.20,331.79 317.90,331.39 318.60,331.10 319.30,330.89 320.00,330.71 320.70,330.54 321.40,330.39 322.10,330.26 322.80,330.15 323.50,330.07 324.20,330.02 324.90,330.00 325.60,330.03 326.30,330.10 327.00,330.21 327.70,330.35 328.40,330.53 329.10,330.73 329.80,330.95 330.50,331.18 331.20,331.42 331.90,331.66 332.60,331.90 333.30,332.14 334.00,332.40 334.70,332.70 335.40,333.01 336.10,333.35 336.80,333.71 337.50,334.07 338.20,334.45 338.90,334.84 339.60,335.23 340.30,335.62 341.00,336.01 341.70,336.39 342.40,336.76 343.10,337.12 343.80,337.47 344.50,337.82 345.20,338.18 345.90,338.55 346.60,338.95 347.30,339.38 348.00,339.84 348.70,340.35 349.40,340.94 350.10,341.68 350.80,342.52 351.50,343.40 352.20,344.24 352.90,345.00 353.60,345.64 354.30,346.22 355.00,346.77 355.70,347.34 356.40,347.98 357.10,348.73 357.80,349.61 358.50,350.60 359.20,351.67 359.90,352.82 360.60,354.02 361.30,355.24 362.00,356.46 362.70,357.66 363.40,358.84 364.10,360.03 364.80,361.22 365.50,362.43 366.20,363.66 366.90,364.90 367.60,366.17 368.30,367.46 369.00,368.77 369.70,370.11 370.40,371.48 371.10,372.88 371.80,374.31 372.50,375.77 373.20,377.25 373.90,378.76 374.60,380.30 375.30,381.86 376.00,383.44 376.70,385.04 377.40,386.66 378.10,388.32 378.80,389.99 379.50,391.71 380.20,393.45 380.90,395.23 381.60,397.04 382.30,398.89 383.00,400.77 383.70,402.73 384.40,404.75 385.10,406.83 385.80,408.94 386.50,411.07 387.20,413.20 387.90,415.31 388.60,415.63 389.30,413.60 390.00,411.55 390.70,409.49 391.40,407.44 392.10,405.39 392.80,403.37 393.50,401.38 394.20,399.42 394.90,397.50 395.60,395.61 396.30,393.71 397.00,391.83 397.70,389.95 398.40,388.11 399.10,386.29 399.80,384.52 400.50,382.79 401.20,381.12 401.90,379.53 402.60,378.00 403.30,376.54 404.00,375.14 404.70,373.78 405.40,372.45 406.10,371.16 406.80,369.90 407.50,368.67 408.20,367.46 408.90,366.26 409.60,365.08 410.30,363.90 411.00,362.72 411.70,361.54 412.40,360.35 413.10,359.15 413.80,357.94 414.50,356.70 415.20,355.46 415.90,354.22 416.60,352.98 417.30,351.75 418.00,350.54 418.70,349.35 419.40,348.18 420.10,347.05 420.80,345.95 421.50,344.91 422.20,343.91 422.90,342.96 423.60,342.07 424.30,341.20 425.00,340.36 425.70,339.53 426.40,338.73 427.10,337.94 427.80,337.18 428.50,336.43 429.20,335.71 429.90,335.00 430.60,334.32 431.30,333.65 432.00,333.00 432.70,332.37 433.40,331.76 434.10,331.16 434.80,330.58 435.50,330.01 436.20,329.44 436.90,328.87 437.60,328.30 438.30,327.73 439.00,327.18 439.70,326.64 440.40,326.11 441.10,325.60 441.80,325.11 442.50,324.65 443.20,324.21 443.90,323.81 444.60,323.44 445.30,323.11 446.00,322.82 446.60,322.60 446.60,416.50" fill="#5D9EC7" fill-opacity="0.2"/>
<polygon clip-path="url(#ce)" points="271.10,416.50 271.10,305.30 272.10,303.23 273.10,301.22 274.10,298.83 274.35,298.02 274.60,297.14 274.85,296.19 275.10,295.20 275.35,294.20 275.60,293.13 275.85,291.99 276.10,290.81 276.35,289.61 276.60,288.40 276.85,287.22 277.10,286.03 277.35,284.78 277.60,283.40 277.85,281.90 278.10,280.27 278.35,278.46 278.60,276.40 278.65,275.94 278.70,275.46 278.75,274.95 278.80,274.42 278.85,273.87 278.90,273.30 278.95,272.71 279.00,272.11 279.05,271.50 279.10,270.88 279.15,270.24 279.20,269.61 279.25,268.97 279.30,268.33 279.35,267.69 279.40,267.06 279.45,266.43 279.50,265.81 279.55,265.20 279.60,264.60 279.60,264.60 282.30,264.60 282.30,416.50 282.30,416.50 282.55,416.50 282.80,416.50 283.05,416.50 283.30,416.50 283.55,416.50 283.80,416.50 284.05,413.24 284.30,398.12 284.55,379.24 284.80,366.50 285.05,360.86 285.30,356.40 285.55,352.99 285.80,350.50 286.05,348.59 286.30,346.95 286.55,345.55 286.80,344.38 287.05,343.37 287.30,342.50 287.55,341.72 287.80,340.99 288.05,340.30 288.30,339.66 289.00,338.10 289.70,336.85 290.40,335.88 291.10,335.02 291.80,334.23 292.50,333.50 293.20,332.85 293.90,332.27 294.60,331.79 295.30,331.39 296.00,331.10 296.70,330.89 297.40,330.71 298.10,330.54 298.80,330.39 299.50,330.26 300.20,330.15 300.90,330.07 301.60,330.02 302.30,330.00 303.00,330.03 303.70,330.10 304.40,330.21 305.10,330.35 305.80,330.53 306.50,330.73 307.20,330.95 307.90,331.18 308.60,331.42 309.30,331.66 310.00,331.90 310.70,332.14 311.40,332.40 312.10,332.70 312.80,333.01 313.50,333.35 314.20,333.71 314.90,334.07 315.60,334.45 316.30,334.84 317.00,335.23 317.70,335.62 318.40,336.01 319.10,336.39 319.80,336.76 320.50,337.12 321.20,337.47 321.90,337.82 322.60,338.18 323.30,338.55 324.00,338.95 324.70,339.38 325.40,339.84 326.10,340.35 326.80,340.94 327.50,341.68 328.20,342.52 328.90,343.40 329.60,344.24 330.30,345.00 331.00,345.64 331.70,346.22 332.40,346.77 333.10,347.34 333.80,347.98 334.50,348.73 335.20,349.61 335.90,350.60 336.60,351.67 337.30,352.82 338.00,354.02 338.70,355.24 339.40,356.46 340.10,357.66 340.80,358.84 341.50,360.03 342.20,361.22 342.90,362.43 343.60,363.66 344.30,364.90 345.00,366.17 345.70,367.46 346.40,368.77 347.10,370.11 347.80,371.48 348.50,372.88 349.20,374.31 349.90,375.77 350.60,377.25 351.30,378.76 352.00,380.30 352.70,381.86 353.40,383.44 354.10,385.04 354.80,386.66 355.50,388.32 356.20,389.99 356.90,391.71 357.60,393.45 358.30,395.23 359.00,397.04 359.70,398.89 360.40,400.77 361.10,402.73 361.80,404.75 362.50,406.83 363.20,408.94 363.90,411.07 364.60,413.20 365.30,415.31 366.00,415.63 366.70,413.60 367.40,411.55 368.10,409.49 368.80,407.44 369.50,405.39 370.20,403.37 370.90,401.38 371.60,399.42 372.30,397.50 373.00,395.61 373.70,393.71 374.40,391.83 375.10,389.95 375.80,388.11 376.50,386.29 377.20,384.52 377.90,382.79 378.60,381.12 379.30,379.53 380.00,378.00 380.70,376.54 381.40,375.14 382.10,373.78 382.80,372.45 383.50,371.16 384.20,369.90 384.90,368.67 385.60,367.46 386.30,366.26 387.00,365.08 387.70,363.90 388.40,362.72 389.10,361.54 389.80,360.35 390.50,359.15 391.20,357.94 391.90,356.70 392.60,355.46 393.30,354.22 394.00,352.98 394.70,351.75 395.40,350.54 396.10,349.35 396.80,348.18 397.50,347.05 398.20,345.95 398.90,344.91 399.60,343.91 400.30,342.96 401.00,342.07 401.70,341.20 402.40,340.36 403.10,339.53 403.80,338.73 404.50,337.94 405.20,337.18 405.90,336.43 406.60,335.71 407.30,335.00 408.00,334.32 408.70,333.65 409.40,333.00 410.10,332.37 410.80,331.76 411.50,331.16 412.20,330.58 412.90,330.01 413.60,329.44 414.30,328.87 415.00,328.30 415.70,327.73 416.40,327.18 417.10,326.64 417.80,326.11 418.50,325.60 419.20,325.11 419.90,324.65 420.60,324.21 421.30,323.81 422.00,323.44 422.70,323.11 423.40,322.82 424.10,322.57 424.80,322.35 425.50,322.15 426.20,321.95 426.90,321.76 427.60,321.57 428.30,321.40 429.00,321.22 429.70,321.06 430.40,320.90 431.10,320.74 431.80,320.59 432.50,320.45 433.20,320.31 433.90,320.18 434.60,320.05 435.30,319.92 436.00,319.80 436.70,319.69 437.40,319.57 438.10,319.46 438.80,319.36 439.50,319.26 440.20,319.16 440.90,319.06 441.60,318.97 442.30,318.88 443.00,318.79 443.70,318.71 444.40,318.63 445.10,318.55 445.80,318.47 446.50,318.39 446.60,318.38 446.60,416.50" fill="#FFBF00" fill-opacity="0.2"/>
<polygon clip-path="url(#ce)" points="271.10,416.50 271.10,333.80 271.80,333.12 272.50,332.51 273.20,331.98 273.90,331.55 274.60,331.21 275.30,330.97 276.00,330.78 276.70,330.61 277.40,330.45 278.10,330.31 278.80,330.19 279.50,330.10 280.20,330.04 280.90,330.00 281.60,330.01 282.30,330.06 283.00,330.16 283.70,330.29 284.40,330.45 285.10,330.64 285.80,330.85 286.50,331.08 287.20,331.31 287.90,331.56 288.60,331.80 289.30,332.03 290.00,332.29 290.70,332.57 291.40,332.87 292.10,333.20 292.80,333.55 293.50,333.92 294.20,334.29 294.90,334.67 295.60,335.06 296.30,335.46 297.00,335.85 297.70,336.23 298.40,336.61 299.10,336.97 299.80,337.32 300.50,337.67 301.20,338.02 301.90,338.39 302.60,338.78 303.30,339.19 304.00,339.64 304.70,340.12 305.40,340.67 306.10,341.35 306.80,342.16 307.50,343.02 308.20,343.89 308.90,344.69 309.60,345.38 310.30,345.97 311.00,346.53 311.70,347.09 312.40,347.70 313.10,348.39 313.80,349.22 314.50,350.16 315.20,351.20 315.90,352.32 316.60,353.50 317.30,354.71 318.00,355.94 318.70,357.15 319.40,358.34 320.10,359.52 320.80,360.71 321.50,361.91 322.20,363.13 322.90,364.37 323.60,365.62 324.30,366.90 325.00,368.21 325.70,369.53 326.40,370.89 327.10,372.28 327.80,373.70 328.50,375.14 329.20,376.61 329.90,378.11 330.60,379.64 331.30,381.19 332.00,382.76 332.70,384.35 333.40,385.96 334.10,387.60 334.80,389.27 335.50,390.97 336.20,392.70 336.90,394.46 337.60,396.26 338.30,398.09 339.00,399.96 339.70,401.88 340.40,403.88 341.10,405.93 341.80,408.03 342.50,410.15 343.20,412.29 343.90,414.41 344.60,416.50 345.30,414.47 346.00,412.43 346.70,410.37 347.40,408.32 348.10,406.27 348.80,404.23 349.50,402.23 350.20,400.25 350.90,398.32 351.60,396.42 352.30,394.52 353.00,392.63 353.70,390.75 354.40,388.89 355.10,387.06 355.80,385.27 356.50,383.52 357.20,381.83 357.90,380.20 358.60,378.65 359.30,377.17 360.00,375.74 360.70,374.35 361.40,373.01 362.10,371.71 362.80,370.44 363.50,369.20 364.20,367.98 364.90,366.77 365.60,365.58 366.30,364.40 367.00,363.23 367.70,362.05 368.40,360.86 369.10,359.67 369.80,358.46 370.50,357.23 371.20,356.00 371.90,354.75 372.60,353.51 373.30,352.28 374.00,351.06 374.70,349.86 375.40,348.68 376.10,347.53 376.80,346.41 377.50,345.34 378.20,344.32 378.90,343.36 379.60,342.45 380.30,341.57 381.00,340.71 381.70,339.88 382.40,339.07 383.10,338.27 383.80,337.50 384.50,336.75 385.20,336.02 385.90,335.30 386.60,334.61 387.30,333.93 388.00,333.28 388.70,332.64 389.40,332.02 390.10,331.42 390.80,330.83 391.50,330.26 392.20,329.68 392.90,329.11 393.60,328.54 394.30,327.97 395.00,327.41 395.70,326.86 396.40,326.33 397.10,325.81 397.80,325.32 398.50,324.85 399.20,324.40 399.90,323.98 400.60,323.60 401.30,323.25 402.00,322.94 402.70,322.67 403.40,322.44 404.10,322.23 404.80,322.03 405.50,321.84 406.20,321.65 406.90,321.47 407.60,321.29 408.30,321.13 409.00,320.96 409.70,320.81 410.40,320.65 411.10,320.51 411.80,320.37 412.50,320.23 413.20,320.10 413.90,319.98 414.60,319.85 415.30,319.73 416.00,319.62 416.70,319.51 417.40,319.40 418.10,319.30 418.80,319.20 419.50,319.10 420.20,319.01 420.90,318.92 421.60,318.83 422.30,318.75 423.00,318.66 423.70,318.58 424.40,318.50 425.10,318.42 425.80,318.34 426.50,318.27 427.20,318.19 427.90,318.12 428.60,318.04 429.30,317.96 430.00,317.89 430.70,317.81 431.40,317.74 432.10,317.66 432.80,317.59 433.50,317.51 434.20,317.44 434.90,317.37 435.60,317.30 436.30,317.23 437.00,317.17 437.70,317.10 438.40,317.04 439.10,316.98 439.80,316.92 440.50,316.86 441.20,316.81 441.90,316.76 442.60,316.71 443.30,316.67 444.00,316.62 444.70,316.58 445.40,316.55 446.10,316.52 446.60,316.50 446.60,416.50" fill="#A5609D" fill-opacity="0.2"/>
<polyline clip-path="url(#ce)" points="271.10,316.40 283.99,316.42 296.88,316.43 309.77,316.44 322.66,316.45 335.55,316.46 348.44,316.48 361.33,316.50 374.22,316.52 387.11,316.56 400.00,316.60 402.50,316.64 405.00,316.74 407.50,316.88 410.00,317.06 412.50,317.27 415.00,317.51 417.50,317.76 420.00,318.01 422.50,318.26 425.00,318.50 427.16,318.71 429.32,318.93 431.48,319.18 433.64,319.43 435.80,319.69 437.96,319.95 440.12,320.22 442.28,320.48 444.44,320.75 446.60,321.00" fill="none" stroke="#5E81B5" stroke-width="1.65" stroke-dasharray="7.2,5.8" stroke-linecap="round" stroke-linejoin="round"/>
<polyline clip-path="url(#ce)" points="271.10,316.40 285.99,316.41 300.88,316.42 315.77,316.42 330.66,316.43 345.55,316.43 360.44,316.44 375.33,316.45 390.22,316.46 405.11,316.48 420.00,316.50 422.66,316.53 425.32,316.61 427.98,316.74 430.64,316.89 433.30,317.07 435.96,317.26 438.62,317.46 441.28,317.65 443.94,317.84 446.60,318.00" fill="none" stroke="#E19C24" stroke-width="1.3" stroke-linejoin="round"/>
<polyline clip-path="url(#ce)" points="271.10,316.40 283.99,316.41 296.88,316.42 309.77,316.42 322.66,316.43 335.55,316.43 348.44,316.44 361.33,316.45 374.22,316.46 387.11,316.48 400.00,316.50 402.50,316.55 405.00,316.67 407.50,316.85 410.00,317.09 412.50,317.37 415.00,317.68 417.50,318.01 420.00,318.34 422.50,318.68 425.00,319.00 427.16,319.28 429.32,319.60 431.48,319.93 433.64,320.28 435.80,320.65 437.96,321.02 440.12,321.40 442.28,321.77 444.44,322.14 446.60,322.50" fill="none" stroke="#8FB032" stroke-width="1.65" stroke-dasharray="7.2,5.8" stroke-linecap="round" stroke-linejoin="round"/>
<polyline clip-path="url(#ce)" points="271.10,316.40 281.65,316.41 292.20,316.41 302.75,316.42 313.30,316.42 323.85,316.43 334.40,316.44 344.95,316.44 355.50,316.46 366.05,316.48 376.60,316.50 377.82,316.66 379.04,317.10 380.26,317.76 381.48,318.57 382.70,319.47 383.92,320.40 385.14,321.30 386.36,322.11 387.58,322.76 388.80,323.20 390.02,323.48 391.24,323.72 392.46,323.93 393.68,324.10 394.90,324.27 396.12,324.43 397.34,324.59 398.56,324.77 399.78,324.97 401.00,325.20 403.04,325.65 405.08,326.14 407.12,326.68 409.16,327.26 411.20,327.87 413.24,328.52 415.28,329.20 417.32,329.91 419.36,330.64 421.40,331.40 423.84,332.37 426.28,333.45 428.72,334.61 431.16,335.84 433.60,337.12 436.04,338.43 438.48,339.75 440.92,341.06 443.36,342.35 445.80,343.60 445.88,343.64 445.96,343.68 446.04,343.72 446.12,343.76 446.20,343.80 446.28,343.84 446.36,343.88 446.44,343.92 446.52,343.96 446.60,344.00" fill="none" stroke="#EB6235" stroke-width="1.3" stroke-linejoin="round"/>
<polyline clip-path="url(#ce)" points="271.10,316.40 272.10,316.40 273.10,316.40 274.10,316.40 275.10,316.40 276.10,316.40 277.10,316.40 278.10,316.40 279.10,316.40 280.10,316.40 281.10,316.40 282.10,316.40 283.10,316.40 284.10,316.40 285.10,316.40 286.10,316.40 287.10,316.40 288.10,316.40 289.10,316.40 290.10,316.40 291.10,316.40 292.10,316.39 293.10,316.39 294.10,316.37 295.10,316.36 296.10,316.34 297.10,316.32 298.10,316.30 299.10,316.27 300.10,316.25 301.10,316.22 302.10,316.19 303.10,316.16 304.10,316.12 305.10,316.09 306.10,316.05 307.10,316.02 308.10,315.98 309.10,315.94 310.10,315.91 311.10,315.87 312.10,315.83 313.10,315.78 314.10,315.73 315.10,315.67 316.10,315.61 317.10,315.55 318.10,315.48 319.10,315.41 320.10,315.34 321.10,315.26 322.10,315.18 323.10,315.10 324.10,315.02 325.10,314.93 326.10,314.83 327.10,314.73 328.10,314.62 329.10,314.50 330.10,314.37 331.10,314.24 332.10,314.10 333.10,313.95 334.10,313.80 335.10,313.63 336.10,313.46 337.10,313.26 338.10,313.05 339.10,312.82 340.10,312.57 341.10,312.32 342.10,312.05 343.10,311.79 344.10,311.47 345.10,311.05 346.10,310.50 347.10,309.87 348.10,309.20 349.10,308.49 350.10,307.64 351.10,306.50 352.10,304.70 353.10,302.60 354.10,300.60 355.10,297.85 355.35,296.95 355.60,296.00 355.85,295.00 356.10,293.99 356.35,292.91 356.60,291.76 356.85,290.57 357.10,289.37 357.35,288.16 357.60,286.98 357.85,285.78 358.10,284.51 358.35,283.11 358.60,281.58 358.85,279.92 359.10,278.06 359.35,275.94 359.40,275.46 359.45,274.95 359.50,274.42 359.55,273.87 359.60,273.30 359.65,272.71 359.70,272.11 359.75,271.50 359.80,270.88 359.85,270.24 359.90,269.61 359.95,268.97 360.00,268.33 360.05,267.69 360.10,267.06 360.15,266.43 360.20,265.81 360.25,265.20 360.30,264.60" fill="none" stroke="#8778B3" stroke-width="1.65" stroke-dasharray="7.2,5.8" stroke-linecap="round" stroke-linejoin="round"/>
<polyline clip-path="url(#ce)" points="360.60,416.50 360.85,416.50 361.10,416.50 361.35,416.50 361.60,416.50 361.85,416.50 362.10,416.50 362.35,413.24 362.60,398.12 362.85,379.24 363.10,366.50 363.35,360.86 363.60,356.40 363.85,352.99 364.10,350.50 364.35,348.59 364.60,346.95 364.85,345.55 365.10,344.38 365.35,343.37 365.60,342.50 365.85,341.72 366.10,340.99 366.35,340.30 366.60,339.66 367.30,338.10 368.00,336.85 368.70,335.88 369.40,335.02 370.10,334.23 370.80,333.50 371.50,332.85 372.20,332.27 372.90,331.79 373.60,331.39 374.30,331.10 375.00,330.89 375.70,330.71 376.40,330.54 377.10,330.39 377.80,330.26 378.50,330.15 379.20,330.07 379.90,330.02 380.60,330.00 381.30,330.03 382.00,330.10 382.70,330.21 383.40,330.35 384.10,330.53 384.80,330.73 385.50,330.95 386.20,331.18 386.90,331.42 387.60,331.66 388.30,331.90 389.00,332.14 389.70,332.40 390.40,332.70 391.10,333.01 391.80,333.35 392.50,333.71 393.20,334.07 393.90,334.45 394.60,334.84 395.30,335.23 396.00,335.62 396.70,336.01 397.40,336.39 398.10,336.76 398.80,337.12 399.50,337.47 400.20,337.82 400.90,338.18 401.60,338.55 402.30,338.95 403.00,339.38 403.70,339.84 404.40,340.35 405.10,340.94 405.80,341.68 406.50,342.52 407.20,343.40 407.90,344.24 408.60,345.00 409.30,345.64 410.00,346.22 410.70,346.77 411.40,347.34 412.10,347.98 412.80,348.73 413.50,349.61 414.20,350.60 414.90,351.67 415.60,352.82 416.30,354.02 417.00,355.24 417.70,356.46 418.40,357.66 419.10,358.84 419.80,360.03 420.50,361.22 421.20,362.43 421.90,363.66 422.60,364.90 423.30,366.17 424.00,367.46 424.70,368.77 425.40,370.11 426.10,371.48 426.80,372.88 427.50,374.31 428.20,375.77 428.90,377.25 429.60,378.76 430.30,380.30 431.00,381.86 431.70,383.44 432.40,385.04 433.10,386.66 433.80,388.32 434.50,389.99 435.20,391.71 435.90,393.45 436.60,395.23 437.30,397.04 438.00,398.89 438.70,400.77 439.40,402.73 440.10,404.75 440.80,406.83 441.50,408.94 442.20,411.07 442.90,413.20 443.60,415.31 444.30,415.63 445.00,413.60 445.70,411.55 446.40,409.49 446.60,408.90" fill="none" stroke="#8778B3" stroke-width="1.65" stroke-dasharray="7.2,5.8" stroke-linecap="round" stroke-linejoin="round"/>
<line clip-path="url(#ce)" x1="360.60" y1="264.60" x2="360.60" y2="416.50" stroke="#8778B3" stroke-width="1.65" stroke-dasharray="7.2,5.8" stroke-linecap="round"/>
<polyline clip-path="url(#ce)" points="271.10,316.11 272.10,316.08 273.10,316.04 274.10,316.01 275.10,315.97 276.10,315.93 277.10,315.90 278.10,315.86 279.10,315.81 280.10,315.76 281.10,315.71 282.10,315.65 283.10,315.59 284.10,315.53 285.10,315.46 286.10,315.39 287.10,315.32 288.10,315.24 289.10,315.16 290.10,315.08 291.10,314.99 292.10,314.90 293.10,314.80 294.10,314.70 295.10,314.58 296.10,314.46 297.10,314.33 298.10,314.20 299.10,314.05 300.10,313.90 301.10,313.75 302.10,313.58 303.10,313.40 304.10,313.20 305.10,312.98 306.10,312.74 307.10,312.50 308.10,312.24 309.10,311.97 310.10,311.70 311.10,311.36 312.10,310.90 313.10,310.32 314.10,309.67 315.10,308.99 316.10,308.25 317.10,307.34 318.10,306.03 319.10,304.07 320.10,302.00 321.10,299.91 321.35,299.26 321.60,298.52 321.85,297.68 322.10,296.76 322.35,295.80 322.60,294.80 322.85,293.78 323.10,292.68 323.35,291.53 323.60,290.33 323.85,289.12 324.10,287.92 324.35,286.74 324.60,285.54 324.85,284.24 325.10,282.81 325.35,281.26 325.60,279.57 325.85,277.66 326.10,275.46 326.15,274.95 326.20,274.42 326.25,273.87 326.30,273.30 326.35,272.71 326.40,272.11 326.45,271.50 326.50,270.88 326.55,270.24 326.60,269.61 326.65,268.97 326.70,268.33 326.75,267.69 326.80,267.06 326.85,266.43 326.90,265.81 326.95,265.20 327.00,264.60" fill="none" stroke="#C56E1A" stroke-width="1.3" stroke-linejoin="round"/>
<polyline clip-path="url(#ce)" points="328.80,416.50 329.05,416.50 329.30,416.50 329.55,416.50 329.80,416.50 330.05,416.50 330.30,416.50 330.55,413.24 330.80,398.12 331.05,379.24 331.30,366.50 331.55,360.86 331.80,356.40 332.05,352.99 332.30,350.50 332.55,348.59 332.80,346.95 333.05,345.55 333.30,344.38 333.55,343.37 333.80,342.50 334.05,341.72 334.30,340.99 334.55,340.30 334.80,339.66 335.50,338.10 336.20,336.85 336.90,335.88 337.60,335.02 338.30,334.23 339.00,333.50 339.70,332.85 340.40,332.27 341.10,331.79 341.80,331.39 342.50,331.10 343.20,330.89 343.90,330.71 344.60,330.54 345.30,330.39 346.00,330.26 346.70,330.15 347.40,330.07 348.10,330.02 348.80,330.00 349.50,330.03 350.20,330.10 350.90,330.21 351.60,330.35 352.30,330.53 353.00,330.73 353.70,330.95 354.40,331.18 355.10,331.42 355.80,331.66 356.50,331.90 357.20,332.14 357.90,332.40 358.60,332.70 359.30,333.01 360.00,333.35 360.70,333.71 361.40,334.07 362.10,334.45 362.80,334.84 363.50,335.23 364.20,335.62 364.90,336.01 365.60,336.39 366.30,336.76 367.00,337.12 367.70,337.47 368.40,337.82 369.10,338.18 369.80,338.55 370.50,338.95 371.20,339.38 371.90,339.84 372.60,340.35 373.30,340.94 374.00,341.68 374.70,342.52 375.40,343.40 376.10,344.24 376.80,345.00 377.50,345.64 378.20,346.22 378.90,346.77 379.60,347.34 380.30,347.98 381.00,348.73 381.70,349.61 382.40,350.60 383.10,351.67 383.80,352.82 384.50,354.02 385.20,355.24 385.90,356.46 386.60,357.66 387.30,358.84 388.00,360.03 388.70,361.22 389.40,362.43 390.10,363.66 390.80,364.90 391.50,366.17 392.20,367.46 392.90,368.77 393.60,370.11 394.30,371.48 395.00,372.88 395.70,374.31 396.40,375.77 397.10,377.25 397.80,378.76 398.50,380.30 399.20,381.86 399.90,383.44 400.60,385.04 401.30,386.66 402.00,388.32 402.70,389.99 403.40,391.71 404.10,393.45 404.80,395.23 405.50,397.04 406.20,398.89 406.90,400.77 407.60,402.73 408.30,404.75 409.00,406.83 409.70,408.94 410.40,411.07 411.10,413.20 411.80,415.31 412.50,415.63 413.20,413.60 413.90,411.55 414.60,409.49 415.30,407.44 416.00,405.39 416.70,403.37 417.40,401.38 418.10,399.42 418.80,397.50 419.50,395.61 420.20,393.71 420.90,391.83 421.60,389.95 422.30,388.11 423.00,386.29 423.70,384.52 424.40,382.79 425.10,381.12 425.80,379.53 426.50,378.00 427.20,376.54 427.90,375.14 428.60,373.78 429.30,372.45 430.00,371.16 430.70,369.90 431.40,368.67 432.10,367.46 432.80,366.26 433.50,365.08 434.20,363.90 434.90,362.72 435.60,361.54 436.30,360.35 437.00,359.15 437.70,357.94 438.40,356.70 439.10,355.46 439.80,354.22 440.50,352.98 441.20,351.75 441.90,350.54 442.60,349.35 443.30,348.18 444.00,347.05 444.70,345.95 445.40,344.91 446.10,343.91 446.60,343.23" fill="none" stroke="#C56E1A" stroke-width="1.3" stroke-linejoin="round"/>
<line clip-path="url(#ce)" x1="328.80" y1="264.60" x2="328.80" y2="416.50" stroke="#C56E1A" stroke-width="1.3"/>
<polyline clip-path="url(#ce)" points="271.10,314.77 272.10,314.66 273.10,314.55 274.10,314.42 275.10,314.29 276.10,314.15 277.10,314.01 278.10,313.86 279.10,313.70 280.10,313.53 281.10,313.34 282.10,313.14 283.10,312.91 284.10,312.67 285.10,312.42 286.10,312.16 287.10,311.89 288.10,311.61 289.10,311.23 290.10,310.73 291.10,310.13 292.10,309.47 293.10,308.78 294.10,308.00 295.10,307.01 296.10,305.49 297.10,303.44 298.10,301.42 299.10,299.12 299.35,298.36 299.60,297.50 299.85,296.57 300.10,295.60 300.35,294.60 300.60,293.56 300.85,292.45 301.10,291.29 301.35,290.09 301.60,288.88 301.85,287.69 302.10,286.51 302.35,285.29 302.60,283.97 302.85,282.51 303.10,280.94 303.35,279.21 303.60,277.25 303.85,274.95 303.90,274.42 303.95,273.87 304.00,273.30 304.05,272.71 304.10,272.11 304.15,271.50 304.20,270.88 304.25,270.24 304.30,269.61 304.35,268.97 304.40,268.33 304.45,267.69 304.50,267.06 304.55,266.43 304.60,265.81 304.65,265.20 304.70,264.60" fill="none" stroke="#5D9EC7" stroke-width="1.65" stroke-dasharray="7.2,5.8" stroke-linecap="round" stroke-linejoin="round"/>
<polyline clip-path="url(#ce)" points="304.90,416.50 305.15,416.50 305.40,416.50 305.65,416.50 305.90,416.50 306.15,416.50 306.40,416.50 306.65,413.24 306.90,398.12 307.15,379.24 307.40,366.50 307.65,360.86 307.90,356.40 308.15,352.99 308.40,350.50 308.65,348.59 308.90,346.95 309.15,345.55 309.40,344.38 309.65,343.37 309.90,342.50 310.15,341.72 310.40,340.99 310.65,340.30 310.90,339.66 311.60,338.10 312.30,336.85 313.00,335.88 313.70,335.02 314.40,334.23 315.10,333.50 315.80,332.85 316.50,332.27 317.20,331.79 317.90,331.39 318.60,331.10 319.30,330.89 320.00,330.71 320.70,330.54 321.40,330.39 322.10,330.26 322.80,330.15 323.50,330.07 324.20,330.02 324.90,330.00 325.60,330.03 326.30,330.10 327.00,330.21 327.70,330.35 328.40,330.53 329.10,330.73 329.80,330.95 330.50,331.18 331.20,331.42 331.90,331.66 332.60,331.90 333.30,332.14 334.00,332.40 334.70,332.70 335.40,333.01 336.10,333.35 336.80,333.71 337.50,334.07 338.20,334.45 338.90,334.84 339.60,335.23 340.30,335.62 341.00,336.01 341.70,336.39 342.40,336.76 343.10,337.12 343.80,337.47 344.50,337.82 345.20,338.18 345.90,338.55 346.60,338.95 347.30,339.38 348.00,339.84 348.70,340.35 349.40,340.94 350.10,341.68 350.80,342.52 351.50,343.40 352.20,344.24 352.90,345.00 353.60,345.64 354.30,346.22 355.00,346.77 355.70,347.34 356.40,347.98 357.10,348.73 357.80,349.61 358.50,350.60 359.20,351.67 359.90,352.82 360.60,354.02 361.30,355.24 362.00,356.46 362.70,357.66 363.40,358.84 364.10,360.03 364.80,361.22 365.50,362.43 366.20,363.66 366.90,364.90 367.60,366.17 368.30,367.46 369.00,368.77 369.70,370.11 370.40,371.48 371.10,372.88 371.80,374.31 372.50,375.77 373.20,377.25 373.90,378.76 374.60,380.30 375.30,381.86 376.00,383.44 376.70,385.04 377.40,386.66 378.10,388.32 378.80,389.99 379.50,391.71 380.20,393.45 380.90,395.23 381.60,397.04 382.30,398.89 383.00,400.77 383.70,402.73 384.40,404.75 385.10,406.83 385.80,408.94 386.50,411.07 387.20,413.20 387.90,415.31 388.60,415.63 389.30,413.60 390.00,411.55 390.70,409.49 391.40,407.44 392.10,405.39 392.80,403.37 393.50,401.38 394.20,399.42 394.90,397.50 395.60,395.61 396.30,393.71 397.00,391.83 397.70,389.95 398.40,388.11 399.10,386.29 399.80,384.52 400.50,382.79 401.20,381.12 401.90,379.53 402.60,378.00 403.30,376.54 404.00,375.14 404.70,373.78 405.40,372.45 406.10,371.16 406.80,369.90 407.50,368.67 408.20,367.46 408.90,366.26 409.60,365.08 410.30,363.90 411.00,362.72 411.70,361.54 412.40,360.35 413.10,359.15 413.80,357.94 414.50,356.70 415.20,355.46 415.90,354.22 416.60,352.98 417.30,351.75 418.00,350.54 418.70,349.35 419.40,348.18 420.10,347.05 420.80,345.95 421.50,344.91 422.20,343.91 422.90,342.96 423.60,342.07 424.30,341.20 425.00,340.36 425.70,339.53 426.40,338.73 427.10,337.94 427.80,337.18 428.50,336.43 429.20,335.71 429.90,335.00 430.60,334.32 431.30,333.65 432.00,333.00 432.70,332.37 433.40,331.76 434.10,331.16 434.80,330.58 435.50,330.01 436.20,329.44 436.90,328.87 437.60,328.30 438.30,327.73 439.00,327.18 439.70,326.64 440.40,326.11 441.10,325.60 441.80,325.11 442.50,324.65 443.20,324.21 443.90,323.81 444.60,323.44 445.30,323.11 446.00,322.82 446.60,322.60" fill="none" stroke="#5D9EC7" stroke-width="1.65" stroke-dasharray="7.2,5.8" stroke-linecap="round" stroke-linejoin="round"/>
<line clip-path="url(#ce)" x1="304.90" y1="264.60" x2="304.90" y2="416.50" stroke="#5D9EC7" stroke-width="1.65" stroke-dasharray="7.2,5.8" stroke-linecap="round"/>
<polyline clip-path="url(#ce)" points="271.10,305.30 272.10,303.23 273.10,301.22 274.10,298.83 274.35,298.02 274.60,297.14 274.85,296.19 275.10,295.20 275.35,294.20 275.60,293.13 275.85,291.99 276.10,290.81 276.35,289.61 276.60,288.40 276.85,287.22 277.10,286.03 277.35,284.78 277.60,283.40 277.85,281.90 278.10,280.27 278.35,278.46 278.60,276.40 278.65,275.94 278.70,275.46 278.75,274.95 278.80,274.42 278.85,273.87 278.90,273.30 278.95,272.71 279.00,272.11 279.05,271.50 279.10,270.88 279.15,270.24 279.20,269.61 279.25,268.97 279.30,268.33 279.35,267.69 279.40,267.06 279.45,266.43 279.50,265.81 279.55,265.20 279.60,264.60" fill="none" stroke="#FFBF00" stroke-width="1.3" stroke-linejoin="round"/>
<polyline clip-path="url(#ce)" points="282.30,416.50 282.55,416.50 282.80,416.50 283.05,416.50 283.30,416.50 283.55,416.50 283.80,416.50 284.05,413.24 284.30,398.12 284.55,379.24 284.80,366.50 285.05,360.86 285.30,356.40 285.55,352.99 285.80,350.50 286.05,348.59 286.30,346.95 286.55,345.55 286.80,344.38 287.05,343.37 287.30,342.50 287.55,341.72 287.80,340.99 288.05,340.30 288.30,339.66 289.00,338.10 289.70,336.85 290.40,335.88 291.10,335.02 291.80,334.23 292.50,333.50 293.20,332.85 293.90,332.27 294.60,331.79 295.30,331.39 296.00,331.10 296.70,330.89 297.40,330.71 298.10,330.54 298.80,330.39 299.50,330.26 300.20,330.15 300.90,330.07 301.60,330.02 302.30,330.00 303.00,330.03 303.70,330.10 304.40,330.21 305.10,330.35 305.80,330.53 306.50,330.73 307.20,330.95 307.90,331.18 308.60,331.42 309.30,331.66 310.00,331.90 310.70,332.14 311.40,332.40 312.10,332.70 312.80,333.01 313.50,333.35 314.20,333.71 314.90,334.07 315.60,334.45 316.30,334.84 317.00,335.23 317.70,335.62 318.40,336.01 319.10,336.39 319.80,336.76 320.50,337.12 321.20,337.47 321.90,337.82 322.60,338.18 323.30,338.55 324.00,338.95 324.70,339.38 325.40,339.84 326.10,340.35 326.80,340.94 327.50,341.68 328.20,342.52 328.90,343.40 329.60,344.24 330.30,345.00 331.00,345.64 331.70,346.22 332.40,346.77 333.10,347.34 333.80,347.98 334.50,348.73 335.20,349.61 335.90,350.60 336.60,351.67 337.30,352.82 338.00,354.02 338.70,355.24 339.40,356.46 340.10,357.66 340.80,358.84 341.50,360.03 342.20,361.22 342.90,362.43 343.60,363.66 344.30,364.90 345.00,366.17 345.70,367.46 346.40,368.77 347.10,370.11 347.80,371.48 348.50,372.88 349.20,374.31 349.90,375.77 350.60,377.25 351.30,378.76 352.00,380.30 352.70,381.86 353.40,383.44 354.10,385.04 354.80,386.66 355.50,388.32 356.20,389.99 356.90,391.71 357.60,393.45 358.30,395.23 359.00,397.04 359.70,398.89 360.40,400.77 361.10,402.73 361.80,404.75 362.50,406.83 363.20,408.94 363.90,411.07 364.60,413.20 365.30,415.31 366.00,415.63 366.70,413.60 367.40,411.55 368.10,409.49 368.80,407.44 369.50,405.39 370.20,403.37 370.90,401.38 371.60,399.42 372.30,397.50 373.00,395.61 373.70,393.71 374.40,391.83 375.10,389.95 375.80,388.11 376.50,386.29 377.20,384.52 377.90,382.79 378.60,381.12 379.30,379.53 380.00,378.00 380.70,376.54 381.40,375.14 382.10,373.78 382.80,372.45 383.50,371.16 384.20,369.90 384.90,368.67 385.60,367.46 386.30,366.26 387.00,365.08 387.70,363.90 388.40,362.72 389.10,361.54 389.80,360.35 390.50,359.15 391.20,357.94 391.90,356.70 392.60,355.46 393.30,354.22 394.00,352.98 394.70,351.75 395.40,350.54 396.10,349.35 396.80,348.18 397.50,347.05 398.20,345.95 398.90,344.91 399.60,343.91 400.30,342.96 401.00,342.07 401.70,341.20 402.40,340.36 403.10,339.53 403.80,338.73 404.50,337.94 405.20,337.18 405.90,336.43 406.60,335.71 407.30,335.00 408.00,334.32 408.70,333.65 409.40,333.00 410.10,332.37 410.80,331.76 411.50,331.16 412.20,330.58 412.90,330.01 413.60,329.44 414.30,328.87 415.00,328.30 415.70,327.73 416.40,327.18 417.10,326.64 417.80,326.11 418.50,325.60 419.20,325.11 419.90,324.65 420.60,324.21 421.30,323.81 422.00,323.44 422.70,323.11 423.40,322.82 424.10,322.57 424.80,322.35 425.50,322.15 426.20,321.95 426.90,321.76 427.60,321.57 428.30,321.40 429.00,321.22 429.70,321.06 430.40,320.90 431.10,320.74 431.80,320.59 432.50,320.45 433.20,320.31 433.90,320.18 434.60,320.05 435.30,319.92 436.00,319.80 436.70,319.69 437.40,319.57 438.10,319.46 438.80,319.36 439.50,319.26 440.20,319.16 440.90,319.06 441.60,318.97 442.30,318.88 443.00,318.79 443.70,318.71 444.40,318.63 445.10,318.55 445.80,318.47 446.50,318.39 446.60,318.38" fill="none" stroke="#FFBF00" stroke-width="1.3" stroke-linejoin="round"/>
<line clip-path="url(#ce)" x1="282.30" y1="264.60" x2="282.30" y2="416.50" stroke="#FFBF00" stroke-width="1.3"/>
<polyline clip-path="url(#ce)" points="271.10,333.80 271.80,333.12 272.50,332.51 273.20,331.98 273.90,331.55 274.60,331.21 275.30,330.97 276.00,330.78 276.70,330.61 277.40,330.45 278.10,330.31 278.80,330.19 279.50,330.10 280.20,330.04 280.90,330.00 281.60,330.01 282.30,330.06 283.00,330.16 283.70,330.29 284.40,330.45 285.10,330.64 285.80,330.85 286.50,331.08 287.20,331.31 287.90,331.56 288.60,331.80 289.30,332.03 290.00,332.29 290.70,332.57 291.40,332.87 292.10,333.20 292.80,333.55 293.50,333.92 294.20,334.29 294.90,334.67 295.60,335.06 296.30,335.46 297.00,335.85 297.70,336.23 298.40,336.61 299.10,336.97 299.80,337.32 300.50,337.67 301.20,338.02 301.90,338.39 302.60,338.78 303.30,339.19 304.00,339.64 304.70,340.12 305.40,340.67 306.10,341.35 306.80,342.16 307.50,343.02 308.20,343.89 308.90,344.69 309.60,345.38 310.30,345.97 311.00,346.53 311.70,347.09 312.40,347.70 313.10,348.39 313.80,349.22 314.50,350.16 315.20,351.20 315.90,352.32 316.60,353.50 317.30,354.71 318.00,355.94 318.70,357.15 319.40,358.34 320.10,359.52 320.80,360.71 321.50,361.91 322.20,363.13 322.90,364.37 323.60,365.62 324.30,366.90 325.00,368.21 325.70,369.53 326.40,370.89 327.10,372.28 327.80,373.70 328.50,375.14 329.20,376.61 329.90,378.11 330.60,379.64 331.30,381.19 332.00,382.76 332.70,384.35 333.40,385.96 334.10,387.60 334.80,389.27 335.50,390.97 336.20,392.70 336.90,394.46 337.60,396.26 338.30,398.09 339.00,399.96 339.70,401.88 340.40,403.88 341.10,405.93 341.80,408.03 342.50,410.15 343.20,412.29 343.90,414.41 344.60,416.50 345.30,414.47 346.00,412.43 346.70,410.37 347.40,408.32 348.10,406.27 348.80,404.23 349.50,402.23 350.20,400.25 350.90,398.32 351.60,396.42 352.30,394.52 353.00,392.63 353.70,390.75 354.40,388.89 355.10,387.06 355.80,385.27 356.50,383.52 357.20,381.83 357.90,380.20 358.60,378.65 359.30,377.17 360.00,375.74 360.70,374.35 361.40,373.01 362.10,371.71 362.80,370.44 363.50,369.20 364.20,367.98 364.90,366.77 365.60,365.58 366.30,364.40 367.00,363.23 367.70,362.05 368.40,360.86 369.10,359.67 369.80,358.46 370.50,357.23 371.20,356.00 371.90,354.75 372.60,353.51 373.30,352.28 374.00,351.06 374.70,349.86 375.40,348.68 376.10,347.53 376.80,346.41 377.50,345.34 378.20,344.32 378.90,343.36 379.60,342.45 380.30,341.57 381.00,340.71 381.70,339.88 382.40,339.07 383.10,338.27 383.80,337.50 384.50,336.75 385.20,336.02 385.90,335.30 386.60,334.61 387.30,333.93 388.00,333.28 388.70,332.64 389.40,332.02 390.10,331.42 390.80,330.83 391.50,330.26 392.20,329.68 392.90,329.11 393.60,328.54 394.30,327.97 395.00,327.41 395.70,326.86 396.40,326.33 397.10,325.81 397.80,325.32 398.50,324.85 399.20,324.40 399.90,323.98 400.60,323.60 401.30,323.25 402.00,322.94 402.70,322.67 403.40,322.44 404.10,322.23 404.80,322.03 405.50,321.84 406.20,321.65 406.90,321.47 407.60,321.29 408.30,321.13 409.00,320.96 409.70,320.81 410.40,320.65 411.10,320.51 411.80,320.37 412.50,320.23 413.20,320.10 413.90,319.98 414.60,319.85 415.30,319.73 416.00,319.62 416.70,319.51 417.40,319.40 418.10,319.30 418.80,319.20 419.50,319.10 420.20,319.01 420.90,318.92 421.60,318.83 422.30,318.75 423.00,318.66 423.70,318.58 424.40,318.50 425.10,318.42 425.80,318.34 426.50,318.27 427.20,318.19 427.90,318.12 428.60,318.04 429.30,317.96 430.00,317.89 430.70,317.81 431.40,317.74 432.10,317.66 432.80,317.59 433.50,317.51 434.20,317.44 434.90,317.37 435.60,317.30 436.30,317.23 437.00,317.17 437.70,317.10 438.40,317.04 439.10,316.98 439.80,316.92 440.50,316.86 441.20,316.81 441.90,316.76 442.60,316.71 443.30,316.67 444.00,316.62 444.70,316.58 445.40,316.55 446.10,316.52 446.60,316.50" fill="none" stroke="#A5609D" stroke-width="1.65" stroke-dasharray="7.2,5.8" stroke-linecap="round" stroke-linejoin="round"/>
<rect x="267.3" y="257.1" width="183.5" height="167.89999999999998" fill="none" stroke="#000" stroke-width="1.3"/>
<path d="M288.20,425v-2.8M288.20,257.1v2.8M323.40,425v-2.8M323.40,257.1v2.8M358.60,425v-2.8M358.60,257.1v2.8M393.80,425v-2.8M393.80,257.1v2.8M429.00,425v-2.8M429.00,257.1v2.8M270.60,425v-1.6M270.60,257.1v1.6M279.40,425v-1.6M279.40,257.1v1.6M297.00,425v-1.6M297.00,257.1v1.6M305.80,425v-1.6M305.80,257.1v1.6M314.60,425v-1.6M314.60,257.1v1.6M332.20,425v-1.6M332.20,257.1v1.6M341.00,425v-1.6M341.00,257.1v1.6M349.80,425v-1.6M349.80,257.1v1.6M367.40,425v-1.6M367.40,257.1v1.6M376.20,425v-1.6M376.20,257.1v1.6M385.00,425v-1.6M385.00,257.1v1.6M402.60,425v-1.6M402.60,257.1v1.6M411.40,425v-1.6M411.40,257.1v1.6M420.20,425v-1.6M420.20,257.1v1.6M437.80,425v-1.6M437.80,257.1v1.6M446.60,425v-1.6M446.60,257.1v1.6M267.3,416.50h2.8M450.8,416.50h-2.8M267.3,390.10h2.8M450.8,390.10h-2.8M267.3,363.70h2.8M450.8,363.70h-2.8M267.3,337.30h2.8M450.8,337.30h-2.8M267.3,310.90h2.8M450.8,310.90h-2.8M267.3,284.50h2.8M450.8,284.50h-2.8M267.3,258.10h2.8M450.8,258.10h-2.8M267.3,421.78h1.6M450.8,421.78h-1.6M267.3,411.22h1.6M450.8,411.22h-1.6M267.3,405.94h1.6M450.8,405.94h-1.6M267.3,400.66h1.6M450.8,400.66h-1.6M267.3,395.38h1.6M450.8,395.38h-1.6M267.3,384.82h1.6M450.8,384.82h-1.6M267.3,379.54h1.6M450.8,379.54h-1.6M267.3,374.26h1.6M450.8,374.26h-1.6M267.3,368.98h1.6M450.8,368.98h-1.6M267.3,358.42h1.6M450.8,358.42h-1.6M267.3,353.14h1.6M450.8,353.14h-1.6M267.3,347.86h1.6M450.8,347.86h-1.6M267.3,342.58h1.6M450.8,342.58h-1.6M267.3,332.02h1.6M450.8,332.02h-1.6M267.3,326.74h1.6M450.8,326.74h-1.6M267.3,321.46h1.6M450.8,321.46h-1.6M267.3,316.18h1.6M450.8,316.18h-1.6M267.3,305.62h1.6M450.8,305.62h-1.6M267.3,300.34h1.6M450.8,300.34h-1.6M267.3,295.06h1.6M450.8,295.06h-1.6M267.3,289.78h1.6M450.8,289.78h-1.6M267.3,279.22h1.6M450.8,279.22h-1.6M267.3,273.94h1.6M450.8,273.94h-1.6M267.3,268.66h1.6M450.8,268.66h-1.6M267.3,263.38h1.6M450.8,263.38h-1.6" stroke="#000" stroke-width="0.9" fill="none"/>
<g font-weight="bold" font-size="12.2" fill="#111">
<text transform="translate(288.20,440.2) scale(0.8,1)" text-anchor="middle">-4</text>
<text transform="translate(323.40,440.2) scale(0.8,1)" text-anchor="middle">-2</text>
<text transform="translate(358.60,440.2) scale(0.8,1)" text-anchor="middle">0</text>
<text transform="translate(393.80,440.2) scale(0.8,1)" text-anchor="middle">2</text>
<text transform="translate(429.00,440.2) scale(0.8,1)" text-anchor="middle">4</text>
<text transform="translate(265.50,420.70) scale(0.8,1)" text-anchor="end">0.0</text>
<text transform="translate(265.50,394.30) scale(0.8,1)" text-anchor="end">0.5</text>
<text transform="translate(265.50,367.90) scale(0.8,1)" text-anchor="end">1.0</text>
<text transform="translate(265.50,341.50) scale(0.8,1)" text-anchor="end">1.5</text>
<text transform="translate(265.50,315.10) scale(0.8,1)" text-anchor="end">2.0</text>
<text transform="translate(265.50,288.70) scale(0.8,1)" text-anchor="end">2.5</text>
<text transform="translate(265.50,262.30) scale(0.8,1)" text-anchor="end">3.0</text>
</g>
<text x="358.60" y="462" font-size="7" font-weight="bold" fill="#111" text-anchor="middle">x</text>
<text transform="translate(245.4,340.3) rotate(-90) scale(1.12,1)" font-size="7.6" font-weight="bold" fill="#111" text-anchor="middle"><tspan font-style="italic">U</tspan><tspan font-size="5.2" dy="1.5">9</tspan><tspan dy="-1.5">(x, t)</tspan></text>
<polygon clip-path="url(#cf)" points="487.40,417.00 487.40,336.40 488.40,336.40 489.40,336.40 490.40,336.40 491.40,336.40 492.40,336.40 493.40,336.40 494.40,336.40 495.40,336.40 496.40,336.40 497.40,336.40 498.40,336.40 499.40,336.40 500.40,336.40 501.40,336.40 502.40,336.40 503.40,336.40 504.40,336.40 505.40,336.40 506.40,336.40 507.40,336.40 508.40,336.40 509.40,336.40 510.40,336.40 511.40,336.40 512.40,336.40 513.40,336.40 514.40,336.40 515.40,336.40 516.40,336.40 517.40,336.40 518.40,336.40 519.40,336.40 520.40,336.40 521.40,336.40 522.40,336.40 523.40,336.40 524.40,336.40 525.40,336.40 526.40,336.40 527.40,336.40 528.40,336.40 529.40,336.40 530.40,336.40 531.40,336.40 532.40,336.40 533.40,336.40 534.40,336.40 535.40,336.40 536.40,336.40 537.40,336.40 538.40,336.40 539.40,336.40 540.40,336.40 541.40,336.40 542.40,336.40 543.40,336.40 544.40,336.40 545.40,336.40 546.40,336.40 547.40,336.40 548.40,336.40 549.40,336.40 550.40,336.40 551.40,336.40 552.40,336.40 553.40,336.40 554.40,336.40 555.40,336.40 556.40,336.40 557.40,336.40 558.40,336.40 559.40,336.40 560.40,336.40 561.40,336.40 562.40,336.40 563.40,336.40 564.40,336.40 565.40,336.40 566.40,336.40 567.40,336.40 568.40,336.40 569.40,336.40 570.40,336.40 571.40,336.40 572.40,336.40 573.40,336.40 574.40,336.40 575.40,336.40 576.40,336.40 577.40,336.40 578.40,336.40 579.40,336.40 580.40,336.40 581.40,336.40 582.40,336.40 583.40,336.40 584.40,336.40 585.40,336.40 586.40,336.40 587.40,336.40 588.40,336.40 589.40,336.40 590.40,336.40 591.40,336.40 592.40,336.40 593.40,336.40 594.40,336.40 595.40,336.40 596.40,336.40 597.40,336.40 598.40,336.40 599.40,336.40 600.40,336.40 601.40,336.40 602.40,336.40 603.40,336.40 604.40,336.40 605.40,336.40 606.40,336.40 607.40,336.40 608.40,336.40 609.40,336.40 610.40,336.40 611.40,336.40 612.40,336.40 613.40,336.40 614.40,336.40 615.40,336.40 616.40,336.40 617.40,336.40 618.40,336.40 619.40,336.40 620.40,336.40 621.40,336.40 622.40,336.40 623.40,336.40 624.40,336.40 625.40,336.40 626.40,336.40 627.40,336.40 628.40,336.40 629.40,336.40 630.40,336.40 631.40,336.40 632.40,336.40 633.40,336.40 634.40,336.40 635.40,336.40 636.40,336.40 637.40,336.40 638.40,336.40 639.40,336.40 640.40,336.40 641.40,336.40 642.40,336.40 643.40,336.40 644.40,336.39 645.40,336.38 646.40,336.36 647.40,336.34 648.40,336.32 649.40,336.29 650.40,336.27 651.40,336.23 652.40,336.20 653.40,336.17 654.40,336.13 655.40,336.09 656.40,336.05 657.40,336.01 658.40,335.96 659.40,335.92 660.40,335.87 661.40,335.83 662.40,335.78 663.40,335.73 664.40,335.67 665.40,335.61 666.40,335.55 667.40,335.47 668.40,335.39 669.40,335.30 670.40,335.20 702.00,264.20 670.80,264.20 670.80,417.00" fill="#5E81B5" fill-opacity="0.2"/>
<polygon clip-path="url(#cf)" points="487.40,417.00 487.40,336.40 488.40,336.40 489.40,336.40 490.40,336.40 491.40,336.40 492.40,336.40 493.40,336.40 494.40,336.40 495.40,336.40 496.40,336.40 497.40,336.40 498.40,336.40 499.40,336.40 500.40,336.40 501.40,336.40 502.40,336.40 503.40,336.40 504.40,336.40 505.40,336.40 506.40,336.40 507.40,336.40 508.40,336.40 509.40,336.40 510.40,336.40 511.40,336.40 512.40,336.40 513.40,336.40 514.40,336.40 515.40,336.40 516.40,336.40 517.40,336.40 518.40,336.40 519.40,336.40 520.40,336.40 521.40,336.40 522.40,336.40 523.40,336.40 524.40,336.40 525.40,336.40 526.40,336.40 527.40,336.40 528.40,336.40 529.40,336.40 530.40,336.40 531.40,336.40 532.40,336.40 533.40,336.40 534.40,336.40 535.40,336.40 536.40,336.40 537.40,336.40 538.40,336.40 539.40,336.40 540.40,336.40 541.40,336.40 542.40,336.40 543.40,336.40 544.40,336.40 545.40,336.40 546.40,336.40 547.40,336.40 548.40,336.40 549.40,336.40 550.40,336.40 551.40,336.40 552.40,336.40 553.40,336.40 554.40,336.40 555.40,336.40 556.40,336.40 557.40,336.40 558.40,336.40 559.40,336.40 560.40,336.40 561.40,336.40 562.40,336.40 563.40,336.40 564.40,336.40 565.40,336.40 566.40,336.40 567.40,336.40 568.40,336.40 569.40,336.40 570.40,336.40 571.40,336.40 572.40,336.40 573.40,336.40 574.40,336.40 575.40,336.40 576.40,336.40 577.40,336.40 578.40,336.40 579.40,336.40 580.40,336.40 581.40,336.40 582.40,336.40 583.40,336.40 584.40,336.40 585.40,336.40 586.40,336.40 587.40,336.40 588.40,336.40 589.40,336.40 590.40,336.40 591.40,336.40 592.40,336.40 593.40,336.40 594.40,336.40 595.40,336.40 596.40,336.40 597.40,336.40 598.40,336.40 599.40,336.40 600.40,336.40 601.40,336.40 602.40,336.40 603.40,336.40 604.40,336.40 605.40,336.40 606.40,336.40 607.40,336.40 608.40,336.40 609.40,336.40 610.40,336.40 611.40,336.40 612.40,336.39 613.40,336.39 614.40,336.37 615.40,336.36 616.40,336.34 617.40,336.31 618.40,336.29 619.40,336.26 620.40,336.23 621.40,336.19 622.40,336.16 623.40,336.12 624.40,336.08 625.40,336.04 626.40,336.00 627.40,335.95 628.40,335.91 629.40,335.86 630.40,335.82 631.40,335.77 632.40,335.72 633.40,335.66 634.40,335.60 635.40,335.53 636.40,335.45 637.40,335.37 638.40,335.28 639.40,335.18 640.40,335.08 641.40,334.96 642.40,334.84 643.40,334.69 644.40,334.50 645.40,334.26 646.40,334.00 647.40,333.72 648.40,333.43 649.40,333.14 650.40,332.87 651.40,332.60 652.40,332.30 653.40,331.97 654.40,331.58 655.40,331.08 656.40,330.41 657.40,329.60 658.40,328.73 659.40,327.88 660.40,327.03 661.40,326.09 662.40,324.94 663.40,323.36 664.40,321.04 665.40,318.50 665.65,317.90 665.90,317.32 666.15,316.73 666.40,316.12 666.65,315.47 666.90,314.74 667.15,313.93 667.40,313.01 667.65,311.90 667.90,310.61 668.15,309.15 668.40,307.53 668.65,305.77 668.90,303.81 669.15,301.50 669.40,298.82 669.65,295.76 669.90,292.23 669.95,291.44 670.00,290.59 670.05,289.71 670.10,288.77 670.15,287.77 670.20,286.71 670.25,285.59 670.30,284.40 670.35,283.01 670.40,281.36 670.45,279.49 670.50,277.45 670.55,275.29 670.60,273.04 670.65,270.76 670.70,268.49 670.75,266.30 670.80,264.20 670.80,264.20 670.80,264.20 670.80,264.20 670.80,417.00" fill="#E19C24" fill-opacity="0.2"/>
<polygon clip-path="url(#cf)" points="487.40,417.00 487.40,336.40 488.40,336.40 489.40,336.40 490.40,336.40 491.40,336.40 492.40,336.40 493.40,336.40 494.40,336.40 495.40,336.40 496.40,336.40 497.40,336.40 498.40,336.40 499.40,336.40 500.40,336.40 501.40,336.40 502.40,336.40 503.40,336.40 504.40,336.40 505.40,336.40 506.40,336.40 507.40,336.40 508.40,336.40 509.40,336.40 510.40,336.40 511.40,336.40 512.40,336.40 513.40,336.40 514.40,336.40 515.40,336.40 516.40,336.40 517.40,336.40 518.40,336.40 519.40,336.40 520.40,336.40 521.40,336.40 522.40,336.40 523.40,336.40 524.40,336.40 525.40,336.40 526.40,336.40 527.40,336.40 528.40,336.40 529.40,336.40 530.40,336.40 531.40,336.40 532.40,336.40 533.40,336.40 534.40,336.40 535.40,336.40 536.40,336.40 537.40,336.40 538.40,336.40 539.40,336.40 540.40,336.40 541.40,336.40 542.40,336.40 543.40,336.40 544.40,336.40 545.40,336.40 546.40,336.40 547.40,336.40 548.40,336.40 549.40,336.40 550.40,336.40 551.40,336.40 552.40,336.40 553.40,336.40 554.40,336.40 555.40,336.40 556.40,336.40 557.40,336.40 558.40,336.40 559.40,336.40 560.40,336.40 561.40,336.40 562.40,336.40 563.40,336.40 564.40,336.40 565.40,336.40 566.40,336.40 567.40,336.40 568.40,336.40 569.40,336.40 570.40,336.40 571.40,336.40 572.40,336.40 573.40,336.40 574.40,336.40 575.40,336.40 576.40,336.40 577.40,336.40 578.40,336.40 579.40,336.40 580.40,336.40 581.40,336.39 582.40,336.39 583.40,336.37 584.40,336.36 585.40,336.34 586.40,336.32 587.40,336.29 588.40,336.26 589.40,336.23 590.40,336.20 591.40,336.16 592.40,336.12 593.40,336.09 594.40,336.04 595.40,336.00 596.40,335.96 597.40,335.91 598.40,335.87 599.40,335.82 600.40,335.78 601.40,335.73 602.40,335.67 603.40,335.61 604.40,335.54 605.40,335.46 606.40,335.38 607.40,335.29 608.40,335.19 609.40,335.09 610.40,334.97 611.40,334.85 612.40,334.71 613.40,334.52 614.40,334.29 615.40,334.03 616.40,333.74 617.40,333.46 618.40,333.17 619.40,332.90 620.40,332.63 621.40,332.34 622.40,332.01 623.40,331.62 624.40,331.14 625.40,330.48 626.40,329.68 627.40,328.82 628.40,327.96 629.40,327.12 630.40,326.19 631.40,325.07 632.40,323.56 633.40,321.30 634.40,318.75 634.65,318.14 634.90,317.55 635.15,316.97 635.40,316.37 635.65,315.73 635.90,315.04 636.15,314.27 636.40,313.40 636.65,312.37 636.90,311.15 637.15,309.75 637.40,308.19 637.65,306.49 637.90,304.63 638.15,302.47 638.40,299.94 638.65,297.03 638.90,293.72 638.95,292.99 639.00,292.23 639.05,291.44 639.10,290.59 639.15,289.71 639.20,288.77 639.25,287.77 639.30,286.71 639.35,285.59 639.40,284.40 639.45,283.01 639.50,281.36 639.55,279.49 639.60,277.45 639.65,275.29 639.70,273.04 639.75,270.76 639.80,268.49 639.85,266.30 639.90,264.20 639.90,264.20 639.90,264.20 644.10,264.20 644.10,417.00 644.10,417.00 644.35,417.00 644.60,417.00 644.85,417.00 645.10,413.24 645.35,403.01 645.60,395.00 645.85,391.50 646.10,388.59 646.35,386.18 646.60,384.19 646.85,382.50 647.10,381.00 647.35,379.66 647.60,378.47 647.85,377.40 648.10,376.43 648.35,375.53 648.60,374.68 648.85,373.84 649.10,373.00 649.35,372.15 649.60,371.30 649.85,370.48 650.10,369.69 650.80,367.71 651.50,366.15 652.20,364.77 652.90,363.57 653.60,362.57 654.30,361.80 655.00,361.12 655.70,360.50 656.40,359.94 657.10,359.45 657.80,359.04 658.50,358.71 659.20,358.47 659.90,358.28 660.60,358.10 661.30,357.93 662.00,357.80 662.70,357.69 663.40,357.62 664.10,357.60 664.80,357.62 665.50,357.66 666.20,357.73 666.90,357.82 667.60,357.93 668.30,358.06 669.00,358.21 669.70,358.37 670.40,358.55 670.80,358.65 670.80,417.00" fill="#8FB032" fill-opacity="0.2"/>
<polygon clip-path="url(#cf)" points="487.40,417.00 487.40,336.40 488.40,336.40 489.40,336.40 490.40,336.40 491.40,336.40 492.40,336.40 493.40,336.40 494.40,336.40 495.40,336.40 496.40,336.40 497.40,336.40 498.40,336.40 499.40,336.40 500.40,336.40 501.40,336.40 502.40,336.40 503.40,336.40 504.40,336.40 505.40,336.40 506.40,336.40 507.40,336.40 508.40,336.40 509.40,336.40 510.40,336.40 511.40,336.40 512.40,336.40 513.40,336.40 514.40,336.40 515.40,336.40 516.40,336.40 517.40,336.40 518.40,336.40 519.40,336.40 520.40,336.40 521.40,336.40 522.40,336.40 523.40,336.40 524.40,336.40 525.40,336.40 526.40,336.40 527.40,336.40 528.40,336.40 529.40,336.40 530.40,336.40 531.40,336.40 532.40,336.40 533.40,336.40 534.40,336.40 535.40,336.40 536.40,336.40 537.40,336.40 538.40,336.40 539.40,336.40 540.40,336.40 541.40,336.40 542.40,336.40 543.40,336.40 544.40,336.40 545.40,336.40 546.40,336.40 547.40,336.40 548.40,336.40 549.40,336.40 550.40,336.39 551.40,336.39 552.40,336.37 553.40,336.36 554.40,336.34 555.40,336.31 556.40,336.29 557.40,336.26 558.40,336.23 559.40,336.19 560.40,336.16 561.40,336.12 562.40,336.08 563.40,336.04 564.40,336.00 565.40,335.95 566.40,335.91 567.40,335.86 568.40,335.82 569.40,335.77 570.40,335.72 571.40,335.66 572.40,335.60 573.40,335.53 574.40,335.45 575.40,335.37 576.40,335.28 577.40,335.18 578.40,335.08 579.40,334.96 580.40,334.84 581.40,334.69 582.40,334.50 583.40,334.26 584.40,334.00 585.40,333.72 586.40,333.43 587.40,333.14 588.40,332.87 589.40,332.60 590.40,332.30 591.40,331.97 592.40,331.58 593.40,331.08 594.40,330.41 595.40,329.60 596.40,328.73 597.40,327.88 598.40,327.03 599.40,326.09 600.40,324.94 601.40,323.36 602.40,321.04 603.40,318.50 603.65,317.90 603.90,317.32 604.15,316.73 604.40,316.12 604.65,315.47 604.90,314.74 605.15,313.93 605.40,313.01 605.65,311.90 605.90,310.61 606.15,309.15 606.40,307.53 606.65,305.77 606.90,303.81 607.15,301.50 607.40,298.82 607.65,295.76 607.90,292.23 607.95,291.44 608.00,290.59 608.05,289.71 608.10,288.77 608.15,287.77 608.20,286.71 608.25,285.59 608.30,284.40 608.35,283.01 608.40,281.36 608.45,279.49 608.50,277.45 608.55,275.29 608.60,273.04 608.65,270.76 608.70,268.49 608.75,266.30 608.80,264.20 608.80,264.20 608.80,264.20 612.40,264.20 612.40,417.00 612.40,417.00 612.65,417.00 612.90,417.00 613.15,417.00 613.40,413.24 613.65,403.01 613.90,395.00 614.15,391.50 614.40,388.59 614.65,386.18 614.90,384.19 615.15,382.50 615.40,381.00 615.65,379.66 615.90,378.47 616.15,377.40 616.40,376.43 616.65,375.53 616.90,374.68 617.15,373.84 617.40,373.00 617.65,372.15 617.90,371.30 618.15,370.48 618.40,369.69 619.10,367.71 619.80,366.15 620.50,364.77 621.20,363.57 621.90,362.57 622.60,361.80 623.30,361.12 624.00,360.50 624.70,359.94 625.40,359.45 626.10,359.04 626.80,358.71 627.50,358.47 628.20,358.28 628.90,358.10 629.60,357.93 630.30,357.80 631.00,357.69 631.70,357.62 632.40,357.60 633.10,357.62 633.80,357.66 634.50,357.73 635.20,357.82 635.90,357.93 636.60,358.06 637.30,358.21 638.00,358.37 638.70,358.55 639.40,358.73 640.10,358.92 640.80,359.14 641.50,359.42 642.20,359.78 642.90,360.21 643.60,360.69 644.30,361.24 645.00,361.83 645.70,362.46 646.40,363.12 647.10,363.80 647.80,364.50 648.50,365.22 649.20,365.93 649.90,366.63 650.60,367.33 651.30,368.00 652.00,368.64 652.70,369.26 653.40,369.88 654.10,370.50 654.80,371.13 655.50,371.77 656.20,372.40 656.90,373.05 657.60,373.69 658.30,374.33 659.00,374.97 659.70,375.61 660.40,376.24 661.10,376.86 661.80,377.48 662.50,378.09 663.20,378.67 663.90,379.24 664.60,379.79 665.30,380.34 666.00,380.90 666.70,381.47 667.40,382.08 668.10,382.71 668.80,383.40 669.50,384.14 670.20,384.94 670.80,385.64 670.80,417.00" fill="#EB6235" fill-opacity="0.2"/>
<polygon clip-path="url(#cf)" points="487.40,417.00 487.40,336.40 488.40,336.40 489.40,336.40 490.40,336.40 491.40,336.40 492.40,336.40 493.40,336.40 494.40,336.40 495.40,336.40 496.40,336.40 497.40,336.40 498.40,336.40 499.40,336.40 500.40,336.40 501.40,336.40 502.40,336.40 503.40,336.40 504.40,336.40 505.40,336.40 506.40,336.40 507.40,336.40 508.40,336.40 509.40,336.40 510.40,336.40 511.40,336.40 512.40,336.40 513.40,336.40 514.40,336.40 515.40,336.40 516.40,336.40 517.40,336.40 518.40,336.40 519.40,336.39 520.40,336.39 521.40,336.37 522.40,336.36 523.40,336.34 524.40,336.32 525.40,336.29 526.40,336.26 527.40,336.23 528.40,336.20 529.40,336.16 530.40,336.12 531.40,336.09 532.40,336.04 533.40,336.00 534.40,335.96 535.40,335.91 536.40,335.87 537.40,335.82 538.40,335.78 539.40,335.73 540.40,335.67 541.40,335.61 542.40,335.54 543.40,335.46 544.40,335.38 545.40,335.29 546.40,335.19 547.40,335.09 548.40,334.97 549.40,334.85 550.40,334.71 551.40,334.52 552.40,334.29 553.40,334.03 554.40,333.74 555.40,333.46 556.40,333.17 557.40,332.90 558.40,332.63 559.40,332.34 560.40,332.01 561.40,331.62 562.40,331.14 563.40,330.48 564.40,329.68 565.40,328.82 566.40,327.96 567.40,327.12 568.40,326.19 569.40,325.07 570.40,323.56 571.40,321.30 572.40,318.75 572.65,318.14 572.90,317.55 573.15,316.97 573.40,316.37 573.65,315.73 573.90,315.04 574.15,314.27 574.40,313.40 574.65,312.37 574.90,311.15 575.15,309.75 575.40,308.19 575.65,306.49 575.90,304.63 576.15,302.47 576.40,299.94 576.65,297.03 576.90,293.72 576.95,292.99 577.00,292.23 577.05,291.44 577.10,290.59 577.15,289.71 577.20,288.77 577.25,287.77 577.30,286.71 577.35,285.59 577.40,284.40 577.45,283.01 577.50,281.36 577.55,279.49 577.60,277.45 577.65,275.29 577.70,273.04 577.75,270.76 577.80,268.49 577.85,266.30 577.90,264.20 577.90,264.20 577.90,264.20 580.70,264.20 580.70,417.00 580.70,417.00 580.95,417.00 581.20,417.00 581.45,417.00 581.70,413.24 581.95,403.01 582.20,395.00 582.45,391.50 582.70,388.59 582.95,386.18 583.20,384.19 583.45,382.50 583.70,381.00 583.95,379.66 584.20,378.47 584.45,377.40 584.70,376.43 584.95,375.53 585.20,374.68 585.45,373.84 585.70,373.00 585.95,372.15 586.20,371.30 586.45,370.48 586.70,369.69 587.40,367.71 588.10,366.15 588.80,364.77 589.50,363.57 590.20,362.57 590.90,361.80 591.60,361.12 592.30,360.50 593.00,359.94 593.70,359.45 594.40,359.04 595.10,358.71 595.80,358.47 596.50,358.28 597.20,358.10 597.90,357.93 598.60,357.80 599.30,357.69 600.00,357.62 600.70,357.60 601.40,357.62 602.10,357.66 602.80,357.73 603.50,357.82 604.20,357.93 604.90,358.06 605.60,358.21 606.30,358.37 607.00,358.55 607.70,358.73 608.40,358.92 609.10,359.14 609.80,359.42 610.50,359.78 611.20,360.21 611.90,360.69 612.60,361.24 613.30,361.83 614.00,362.46 614.70,363.12 615.40,363.80 616.10,364.50 616.80,365.22 617.50,365.93 618.20,366.63 618.90,367.33 619.60,368.00 620.30,368.64 621.00,369.26 621.70,369.88 622.40,370.50 623.10,371.13 623.80,371.77 624.50,372.40 625.20,373.05 625.90,373.69 626.60,374.33 627.30,374.97 628.00,375.61 628.70,376.24 629.40,376.86 630.10,377.48 630.80,378.09 631.50,378.67 632.20,379.24 632.90,379.79 633.60,380.34 634.30,380.90 635.00,381.47 635.70,382.08 636.40,382.71 637.10,383.40 637.80,384.14 638.50,384.94 639.20,385.76 639.90,386.61 640.60,387.47 641.30,388.33 642.00,389.18 642.70,390.00 643.40,390.80 644.10,391.60 644.80,392.40 645.50,393.20 646.20,393.99 646.90,394.78 647.60,395.57 648.30,396.35 649.00,397.13 649.70,397.91 650.40,398.67 651.10,399.43 651.80,400.19 652.50,400.95 653.20,401.71 653.90,402.46 654.60,403.21 655.30,403.95 656.00,404.69 656.70,405.42 657.40,406.15 658.10,406.88 658.80,407.59 659.50,408.30 660.20,409.00 660.90,409.71 661.60,410.47 662.30,411.29 663.00,412.16 663.70,413.03 664.40,413.88 665.10,414.69 665.80,415.42 666.50,416.04 667.20,416.53 667.90,416.85 668.60,416.99 669.30,416.91 670.00,416.63 670.70,416.18 670.80,416.09 670.80,417.00" fill="#8778B3" fill-opacity="0.2"/>
<polygon clip-path="url(#cf)" points="487.40,417.00 487.40,336.40 488.40,336.39 489.40,336.38 490.40,336.37 491.40,336.35 492.40,336.33 493.40,336.30 494.40,336.28 495.40,336.25 496.40,336.22 497.40,336.18 498.40,336.14 499.40,336.10 500.40,336.06 501.40,336.02 502.40,335.98 503.40,335.94 504.40,335.89 505.40,335.85 506.40,335.80 507.40,335.75 508.40,335.70 509.40,335.64 510.40,335.57 511.40,335.50 512.40,335.42 513.40,335.34 514.40,335.24 515.40,335.14 516.40,335.03 517.40,334.91 518.40,334.79 519.40,334.62 520.40,334.41 521.40,334.16 522.40,333.89 523.40,333.60 524.40,333.31 525.40,333.04 526.40,332.77 527.40,332.49 528.40,332.18 529.40,331.82 530.40,331.40 531.40,330.83 532.40,330.10 533.40,329.26 534.40,328.39 535.40,327.54 536.40,326.67 537.40,325.66 538.40,324.40 539.40,322.50 540.40,320.02 540.65,319.38 540.90,318.75 541.15,318.14 541.40,317.55 541.65,316.97 541.90,316.37 542.15,315.73 542.40,315.04 542.65,314.27 542.90,313.40 543.15,312.37 543.40,311.15 543.65,309.75 543.90,308.19 544.15,306.49 544.40,304.63 544.65,302.47 544.90,299.94 545.15,297.03 545.40,293.72 545.45,292.99 545.50,292.23 545.55,291.44 545.60,290.59 545.65,289.71 545.70,288.77 545.75,287.77 545.80,286.71 545.85,285.59 545.90,284.40 545.95,283.01 546.00,281.36 546.05,279.49 546.10,277.45 546.15,275.29 546.20,273.04 546.25,270.76 546.30,268.49 546.35,266.30 546.40,264.20 546.40,264.20 546.40,264.20 550.10,264.20 550.10,417.00 550.10,417.00 550.35,417.00 550.60,417.00 550.85,417.00 551.10,413.24 551.35,403.01 551.60,395.00 551.85,391.50 552.10,388.59 552.35,386.18 552.60,384.19 552.85,382.50 553.10,381.00 553.35,379.66 553.60,378.47 553.85,377.40 554.10,376.43 554.35,375.53 554.60,374.68 554.85,373.84 555.10,373.00 555.35,372.15 555.60,371.30 555.85,370.48 556.10,369.69 556.80,367.71 557.50,366.15 558.20,364.77 558.90,363.57 559.60,362.57 560.30,361.80 561.00,361.12 561.70,360.50 562.40,359.94 563.10,359.45 563.80,359.04 564.50,358.71 565.20,358.47 565.90,358.28 566.60,358.10 567.30,357.93 568.00,357.80 568.70,357.69 569.40,357.62 570.10,357.60 570.80,357.62 571.50,357.66 572.20,357.73 572.90,357.82 573.60,357.93 574.30,358.06 575.00,358.21 575.70,358.37 576.40,358.55 577.10,358.73 577.80,358.92 578.50,359.14 579.20,359.42 579.90,359.78 580.60,360.21 581.30,360.69 582.00,361.24 582.70,361.83 583.40,362.46 584.10,363.12 584.80,363.80 585.50,364.50 586.20,365.22 586.90,365.93 587.60,366.63 588.30,367.33 589.00,368.00 589.70,368.64 590.40,369.26 591.10,369.88 591.80,370.50 592.50,371.13 593.20,371.77 593.90,372.40 594.60,373.05 595.30,373.69 596.00,374.33 596.70,374.97 597.40,375.61 598.10,376.24 598.80,376.86 599.50,377.48 600.20,378.09 600.90,378.67 601.60,379.24 602.30,379.79 603.00,380.34 603.70,380.90 604.40,381.47 605.10,382.08 605.80,382.71 606.50,383.40 607.20,384.14 607.90,384.94 608.60,385.76 609.30,386.61 610.00,387.47 610.70,388.33 611.40,389.18 612.10,390.00 612.80,390.80 613.50,391.60 614.20,392.40 614.90,393.20 615.60,393.99 616.30,394.78 617.00,395.57 617.70,396.35 618.40,397.13 619.10,397.91 619.80,398.67 620.50,399.43 621.20,400.19 621.90,400.95 622.60,401.71 623.30,402.46 624.00,403.21 624.70,403.95 625.40,404.69 626.10,405.42 626.80,406.15 627.50,406.88 628.20,407.59 628.90,408.30 629.60,409.00 630.30,409.71 631.00,410.47 631.70,411.29 632.40,412.16 633.10,413.03 633.80,413.88 634.50,414.69 635.20,415.42 635.90,416.04 636.60,416.53 637.30,416.85 638.00,416.99 638.70,416.91 639.40,416.63 640.10,416.18 640.80,415.56 641.50,414.84 642.20,414.01 642.90,413.13 643.60,412.20 644.30,411.27 645.00,410.35 645.70,409.47 646.40,408.65 647.10,407.82 647.80,406.95 648.50,406.05 649.20,405.12 649.90,404.18 650.60,403.22 651.30,402.25 652.00,401.27 652.70,400.29 653.40,399.32 654.10,398.35 654.80,397.40 655.50,396.46 656.20,395.52 656.90,394.57 657.60,393.62 658.30,392.66 659.00,391.71 659.70,390.75 660.40,389.79 661.10,388.83 661.80,387.88 662.50,386.94 663.20,386.00 663.90,385.08 664.60,384.16 665.30,383.26 666.00,382.37 666.70,381.49 667.40,380.64 668.10,379.80 668.80,378.97 669.50,378.16 670.20,377.36 670.80,376.68 670.80,417.00" fill="#C56E1A" fill-opacity="0.2"/>
<polygon clip-path="url(#cf)" points="487.40,417.00 487.40,334.71 488.40,334.52 489.40,334.29 490.40,334.03 491.40,333.74 492.40,333.46 493.40,333.17 494.40,332.90 495.40,332.63 496.40,332.34 497.40,332.01 498.40,331.62 499.40,331.14 500.40,330.48 501.40,329.68 502.40,328.82 503.40,327.96 504.40,327.12 505.40,326.19 506.40,325.07 507.40,323.56 508.40,321.30 509.40,318.75 509.65,318.14 509.90,317.55 510.15,316.97 510.40,316.37 510.65,315.73 510.90,315.04 511.15,314.27 511.40,313.40 511.65,312.37 511.90,311.15 512.15,309.75 512.40,308.19 512.65,306.49 512.90,304.63 513.15,302.47 513.40,299.94 513.65,297.03 513.90,293.72 513.95,292.99 514.00,292.23 514.05,291.44 514.10,290.59 514.15,289.71 514.20,288.77 514.25,287.77 514.30,286.71 514.35,285.59 514.40,284.40 514.45,283.01 514.50,281.36 514.55,279.49 514.60,277.45 514.65,275.29 514.70,273.04 514.75,270.76 514.80,268.49 514.85,266.30 514.90,264.20 514.90,264.20 514.90,264.20 518.60,264.20 518.60,417.00 518.60,417.00 518.85,417.00 519.10,417.00 519.35,417.00 519.60,413.24 519.85,403.01 520.10,395.00 520.35,391.50 520.60,388.59 520.85,386.18 521.10,384.19 521.35,382.50 521.60,381.00 521.85,379.66 522.10,378.47 522.35,377.40 522.60,376.43 522.85,375.53 523.10,374.68 523.35,373.84 523.60,373.00 523.85,372.15 524.10,371.30 524.35,370.48 524.60,369.69 525.30,367.71 526.00,366.15 526.70,364.77 527.40,363.57 528.10,362.57 528.80,361.80 529.50,361.12 530.20,360.50 530.90,359.94 531.60,359.45 532.30,359.04 533.00,358.71 533.70,358.47 534.40,358.28 535.10,358.10 535.80,357.93 536.50,357.80 537.20,357.69 537.90,357.62 538.60,357.60 539.30,357.62 540.00,357.66 540.70,357.73 541.40,357.82 542.10,357.93 542.80,358.06 543.50,358.21 544.20,358.37 544.90,358.55 545.60,358.73 546.30,358.92 547.00,359.14 547.70,359.42 548.40,359.78 549.10,360.21 549.80,360.69 550.50,361.24 551.20,361.83 551.90,362.46 552.60,363.12 553.30,363.80 554.00,364.50 554.70,365.22 555.40,365.93 556.10,366.63 556.80,367.33 557.50,368.00 558.20,368.64 558.90,369.26 559.60,369.88 560.30,370.50 561.00,371.13 561.70,371.77 562.40,372.40 563.10,373.05 563.80,373.69 564.50,374.33 565.20,374.97 565.90,375.61 566.60,376.24 567.30,376.86 568.00,377.48 568.70,378.09 569.40,378.67 570.10,379.24 570.80,379.79 571.50,380.34 572.20,380.90 572.90,381.47 573.60,382.08 574.30,382.71 575.00,383.40 575.70,384.14 576.40,384.94 577.10,385.76 577.80,386.61 578.50,387.47 579.20,388.33 579.90,389.18 580.60,390.00 581.30,390.80 582.00,391.60 582.70,392.40 583.40,393.20 584.10,393.99 584.80,394.78 585.50,395.57 586.20,396.35 586.90,397.13 587.60,397.91 588.30,398.67 589.00,399.43 589.70,400.19 590.40,400.95 591.10,401.71 591.80,402.46 592.50,403.21 593.20,403.95 593.90,404.69 594.60,405.42 595.30,406.15 596.00,406.88 596.70,407.59 597.40,408.30 598.10,409.00 598.80,409.71 599.50,410.47 600.20,411.29 600.90,412.16 601.60,413.03 602.30,413.88 603.00,414.69 603.70,415.42 604.40,416.04 605.10,416.53 605.80,416.85 606.50,416.99 607.20,416.91 607.90,416.63 608.60,416.18 609.30,415.56 610.00,414.84 610.70,414.01 611.40,413.13 612.10,412.20 612.80,411.27 613.50,410.35 614.20,409.47 614.90,408.65 615.60,407.82 616.30,406.95 617.00,406.05 617.70,405.12 618.40,404.18 619.10,403.22 619.80,402.25 620.50,401.27 621.20,400.29 621.90,399.32 622.60,398.35 623.30,397.40 624.00,396.46 624.70,395.52 625.40,394.57 626.10,393.62 626.80,392.66 627.50,391.71 628.20,390.75 628.90,389.79 629.60,388.83 630.30,387.88 631.00,386.94 631.70,386.00 632.40,385.08 633.10,384.16 633.80,383.26 634.50,382.37 635.20,381.49 635.90,380.64 636.60,379.80 637.30,378.97 638.00,378.16 638.70,377.36 639.40,376.57 640.10,375.79 640.80,375.01 641.50,374.23 642.20,373.45 642.90,372.66 643.60,371.88 644.30,371.09 645.00,370.31 645.70,369.52 646.40,368.74 647.10,367.96 647.80,367.18 648.50,366.41 649.20,365.64 649.90,364.88 650.60,364.13 651.30,363.38 652.00,362.65 652.70,361.92 653.40,361.20 654.10,360.49 654.80,359.77 655.50,359.04 656.20,358.30 656.90,357.55 657.60,356.81 658.30,356.07 659.00,355.33 659.70,354.59 660.40,353.87 661.10,353.16 661.80,352.46 662.50,351.78 663.20,351.12 663.90,350.48 664.60,349.88 665.30,349.29 666.00,348.74 666.70,348.22 667.40,347.74 668.10,347.30 668.80,346.89 669.50,346.50 670.20,346.13 670.80,345.82 670.80,417.00" fill="#5D9EC7" fill-opacity="0.2"/>
<polygon clip-path="url(#cf)" points="487.40,417.00 487.40,268.49 487.45,266.30 487.50,264.20 487.50,264.20 487.60,264.20 487.60,417.00 487.60,417.00 487.85,417.00 488.10,417.00 488.35,417.00 488.60,413.24 488.85,403.01 489.10,395.00 489.35,391.50 489.60,388.59 489.85,386.18 490.10,384.19 490.35,382.50 490.60,381.00 490.85,379.66 491.10,378.47 491.35,377.40 491.60,376.43 491.85,375.53 492.10,374.68 492.35,373.84 492.60,373.00 492.85,372.15 493.10,371.30 493.35,370.48 493.60,369.69 494.30,367.71 495.00,366.15 495.70,364.77 496.40,363.57 497.10,362.57 497.80,361.80 498.50,361.12 499.20,360.50 499.90,359.94 500.60,359.45 501.30,359.04 502.00,358.71 502.70,358.47 503.40,358.28 504.10,358.10 504.80,357.93 505.50,357.80 506.20,357.69 506.90,357.62 507.60,357.60 508.30,357.62 509.00,357.66 509.70,357.73 510.40,357.82 511.10,357.93 511.80,358.06 512.50,358.21 513.20,358.37 513.90,358.55 514.60,358.73 515.30,358.92 516.00,359.14 516.70,359.42 517.40,359.78 518.10,360.21 518.80,360.69 519.50,361.24 520.20,361.83 520.90,362.46 521.60,363.12 522.30,363.80 523.00,364.50 523.70,365.22 524.40,365.93 525.10,366.63 525.80,367.33 526.50,368.00 527.20,368.64 527.90,369.26 528.60,369.88 529.30,370.50 530.00,371.13 530.70,371.77 531.40,372.40 532.10,373.05 532.80,373.69 533.50,374.33 534.20,374.97 534.90,375.61 535.60,376.24 536.30,376.86 537.00,377.48 537.70,378.09 538.40,378.67 539.10,379.24 539.80,379.79 540.50,380.34 541.20,380.90 541.90,381.47 542.60,382.08 543.30,382.71 544.00,383.40 544.70,384.14 545.40,384.94 546.10,385.76 546.80,386.61 547.50,387.47 548.20,388.33 548.90,389.18 549.60,390.00 550.30,390.80 551.00,391.60 551.70,392.40 552.40,393.20 553.10,393.99 553.80,394.78 554.50,395.57 555.20,396.35 555.90,397.13 556.60,397.91 557.30,398.67 558.00,399.43 558.70,400.19 559.40,400.95 560.10,401.71 560.80,402.46 561.50,403.21 562.20,403.95 562.90,404.69 563.60,405.42 564.30,406.15 565.00,406.88 565.70,407.59 566.40,408.30 567.10,409.00 567.80,409.71 568.50,410.47 569.20,411.29 569.90,412.16 570.60,413.03 571.30,413.88 572.00,414.69 572.70,415.42 573.40,416.04 574.10,416.53 574.80,416.85 575.50,416.99 576.20,416.91 576.90,416.63 577.60,416.18 578.30,415.56 579.00,414.84 579.70,414.01 580.40,413.13 581.10,412.20 581.80,411.27 582.50,410.35 583.20,409.47 583.90,408.65 584.60,407.82 585.30,406.95 586.00,406.05 586.70,405.12 587.40,404.18 588.10,403.22 588.80,402.25 589.50,401.27 590.20,400.29 590.90,399.32 591.60,398.35 592.30,397.40 593.00,396.46 593.70,395.52 594.40,394.57 595.10,393.62 595.80,392.66 596.50,391.71 597.20,390.75 597.90,389.79 598.60,388.83 599.30,387.88 600.00,386.94 600.70,386.00 601.40,385.08 602.10,384.16 602.80,383.26 603.50,382.37 604.20,381.49 604.90,380.64 605.60,379.80 606.30,378.97 607.00,378.16 607.70,377.36 608.40,376.57 609.10,375.79 609.80,375.01 610.50,374.23 611.20,373.45 611.90,372.66 612.60,371.88 613.30,371.09 614.00,370.31 614.70,369.52 615.40,368.74 616.10,367.96 616.80,367.18 617.50,366.41 618.20,365.64 618.90,364.88 619.60,364.13 620.30,363.38 621.00,362.65 621.70,361.92 622.40,361.20 623.10,360.49 623.80,359.77 624.50,359.04 625.20,358.30 625.90,357.55 626.60,356.81 627.30,356.07 628.00,355.33 628.70,354.59 629.40,353.87 630.10,353.16 630.80,352.46 631.50,351.78 632.20,351.12 632.90,350.48 633.60,349.88 634.30,349.29 635.00,348.74 635.70,348.22 636.40,347.74 637.10,347.30 637.80,346.89 638.50,346.50 639.20,346.13 639.90,345.76 640.60,345.41 641.30,345.06 642.00,344.73 642.70,344.40 643.40,344.09 644.10,343.78 644.80,343.49 645.50,343.21 646.20,342.93 646.90,342.67 647.60,342.43 648.30,342.19 649.00,341.96 649.70,341.75 650.40,341.55 651.10,341.36 651.80,341.19 652.50,341.02 653.20,340.87 653.90,340.72 654.60,340.58 655.30,340.44 656.00,340.31 656.70,340.18 657.40,340.05 658.10,339.93 658.80,339.81 659.50,339.70 660.20,339.59 660.90,339.48 661.60,339.38 662.30,339.28 663.00,339.18 663.70,339.09 664.40,339.00 665.10,338.91 665.80,338.83 666.50,338.74 667.20,338.66 667.90,338.59 668.60,338.51 669.30,338.43 670.00,338.36 670.70,338.29 670.80,338.28 670.80,417.00" fill="#FFBF00" fill-opacity="0.2"/>
<polygon clip-path="url(#cf)" points="487.40,417.00 487.40,360.14 488.10,360.62 488.80,361.15 489.50,361.74 490.20,362.36 490.90,363.02 491.60,363.70 492.30,364.40 493.00,365.11 493.70,365.83 494.40,366.53 495.10,367.23 495.80,367.90 496.50,368.55 497.20,369.17 497.90,369.79 498.60,370.41 499.30,371.04 500.00,371.67 500.70,372.31 501.40,372.95 502.10,373.60 502.80,374.24 503.50,374.88 504.20,375.51 504.90,376.15 505.60,376.77 506.30,377.39 507.00,378.00 507.70,378.59 508.40,379.16 509.10,379.71 509.80,380.26 510.50,380.82 511.20,381.39 511.90,381.99 512.60,382.62 513.30,383.30 514.00,384.04 514.70,384.82 515.40,385.64 516.10,386.49 516.80,387.35 517.50,388.21 518.20,389.06 518.90,389.88 519.60,390.69 520.30,391.49 521.00,392.29 521.70,393.09 522.40,393.88 523.10,394.67 523.80,395.46 524.50,396.24 525.20,397.02 525.90,397.80 526.60,398.56 527.30,399.33 528.00,400.09 528.70,400.84 529.40,401.60 530.10,402.35 530.80,403.10 531.50,403.84 532.20,404.58 532.90,405.32 533.60,406.05 534.30,406.77 535.00,407.49 535.70,408.20 536.40,408.90 537.10,409.60 537.80,410.35 538.50,411.17 539.20,412.03 539.90,412.91 540.60,413.76 541.30,414.58 542.00,415.32 542.70,415.95 543.40,416.47 544.10,416.82 544.80,416.98 545.50,416.94 546.20,416.68 546.90,416.25 547.60,415.66 548.30,414.94 549.00,414.14 549.70,413.26 550.40,412.34 551.10,411.40 551.80,410.48 552.50,409.59 553.20,408.77 553.90,407.94 554.60,407.07 555.30,406.18 556.00,405.26 556.70,404.31 557.40,403.36 558.10,402.39 558.80,401.41 559.50,400.43 560.20,399.46 560.90,398.49 561.60,397.54 562.30,396.60 563.00,395.66 563.70,394.71 564.40,393.76 565.10,392.80 565.80,391.84 566.50,390.88 567.20,389.93 567.90,388.97 568.60,388.02 569.30,387.07 570.00,386.14 570.70,385.21 571.40,384.29 572.10,383.39 572.80,382.49 573.50,381.62 574.20,380.76 574.90,379.91 575.60,379.09 576.30,378.28 577.00,377.48 577.70,376.68 578.40,375.90 579.10,375.12 579.80,374.34 580.50,373.56 581.20,372.78 581.90,371.99 582.60,371.21 583.30,370.42 584.00,369.64 584.70,368.85 585.40,368.07 586.10,367.29 586.80,366.52 587.50,365.75 588.20,364.99 588.90,364.24 589.60,363.49 590.30,362.75 591.00,362.02 591.70,361.31 592.40,360.59 593.10,359.87 593.80,359.14 594.50,358.40 595.20,357.66 595.90,356.92 596.60,356.17 597.30,355.43 598.00,354.70 598.70,353.97 599.40,353.26 600.10,352.56 600.80,351.88 601.50,351.21 602.20,350.57 602.90,349.96 603.60,349.37 604.30,348.81 605.00,348.29 605.70,347.81 606.40,347.36 607.10,346.94 607.80,346.56 608.50,346.18 609.20,345.82 609.90,345.46 610.60,345.11 611.30,344.77 612.00,344.45 612.70,344.13 613.40,343.82 614.10,343.53 614.80,343.25 615.50,342.97 616.20,342.71 616.90,342.46 617.60,342.22 618.30,342.00 619.00,341.78 619.70,341.58 620.40,341.39 621.10,341.21 621.80,341.05 622.50,340.89 623.20,340.74 623.90,340.60 624.60,340.46 625.30,340.32 626.00,340.20 626.70,340.07 627.40,339.95 628.10,339.83 628.80,339.71 629.50,339.60 630.20,339.50 630.90,339.39 631.60,339.29 632.30,339.20 633.00,339.10 633.70,339.01 634.40,338.92 635.10,338.84 635.80,338.76 636.50,338.67 637.20,338.60 637.90,338.52 638.60,338.44 639.30,338.37 640.00,338.30 640.70,338.23 641.40,338.16 642.10,338.09 642.80,338.03 643.50,337.96 644.20,337.89 644.90,337.83 645.60,337.77 646.30,337.71 647.00,337.65 647.70,337.59 648.40,337.54 649.10,337.48 649.80,337.43 650.50,337.38 651.20,337.33 651.90,337.28 652.60,337.24 653.30,337.19 654.00,337.15 654.70,337.11 655.40,337.08 656.10,337.04 656.80,337.01 657.50,336.98 658.20,336.95 658.90,336.92 659.60,336.89 660.30,336.86 661.00,336.83 661.70,336.80 662.40,336.77 663.10,336.74 663.80,336.71 664.50,336.68 665.20,336.66 665.90,336.63 666.60,336.61 667.30,336.58 668.00,336.56 668.70,336.54 669.40,336.52 670.10,336.50 670.80,336.48 670.80,417.00" fill="#A5609D" fill-opacity="0.2"/>
<polyline clip-path="url(#cf)" points="487.40,336.40 488.40,336.40 489.40,336.40 490.40,336.40 491.40,336.40 492.40,336.40 493.40,336.40 494.40,336.40 495.40,336.40 496.40,336.40 497.40,336.40 498.40,336.40 499.40,336.40 500.40,336.40 501.40,336.40 502.40,336.40 503.40,336.40 504.40,336.40 505.40,336.40 506.40,336.40 507.40,336.40 508.40,336.40 509.40,336.40 510.40,336.40 511.40,336.40 512.40,336.40 513.40,336.40 514.40,336.40 515.40,336.40 516.40,336.40 517.40,336.40 518.40,336.40 519.40,336.40 520.40,336.40 521.40,336.40 522.40,336.40 523.40,336.40 524.40,336.40 525.40,336.40 526.40,336.40 527.40,336.40 528.40,336.40 529.40,336.40 530.40,336.40 531.40,336.40 532.40,336.40 533.40,336.40 534.40,336.40 535.40,336.40 536.40,336.40 537.40,336.40 538.40,336.40 539.40,336.40 540.40,336.40 541.40,336.40 542.40,336.40 543.40,336.40 544.40,336.40 545.40,336.40 546.40,336.40 547.40,336.40 548.40,336.40 549.40,336.40 550.40,336.40 551.40,336.40 552.40,336.40 553.40,336.40 554.40,336.40 555.40,336.40 556.40,336.40 557.40,336.40 558.40,336.40 559.40,336.40 560.40,336.40 561.40,336.40 562.40,336.40 563.40,336.40 564.40,336.40 565.40,336.40 566.40,336.40 567.40,336.40 568.40,336.40 569.40,336.40 570.40,336.40 571.40,336.40 572.40,336.40 573.40,336.40 574.40,336.40 575.40,336.40 576.40,336.40 577.40,336.40 578.40,336.40 579.40,336.40 580.40,336.40 581.40,336.40 582.40,336.40 583.40,336.40 584.40,336.40 585.40,336.40 586.40,336.40 587.40,336.40 588.40,336.40 589.40,336.40 590.40,336.40 591.40,336.40 592.40,336.40 593.40,336.40 594.40,336.40 595.40,336.40 596.40,336.40 597.40,336.40 598.40,336.40 599.40,336.40 600.40,336.40 601.40,336.40 602.40,336.40 603.40,336.40 604.40,336.40 605.40,336.40 606.40,336.40 607.40,336.40 608.40,336.40 609.40,336.40 610.40,336.40 611.40,336.40 612.40,336.40 613.40,336.40 614.40,336.40 615.40,336.40 616.40,336.40 617.40,336.40 618.40,336.40 619.40,336.40 620.40,336.40 621.40,336.40 622.40,336.40 623.40,336.40 624.40,336.40 625.40,336.40 626.40,336.40 627.40,336.40 628.40,336.40 629.40,336.40 630.40,336.40 631.40,336.40 632.40,336.40 633.40,336.40 634.40,336.40 635.40,336.40 636.40,336.40 637.40,336.40 638.40,336.40 639.40,336.40 640.40,336.40 641.40,336.40 642.40,336.40 643.40,336.40 644.40,336.39 645.40,336.38 646.40,336.36 647.40,336.34 648.40,336.32 649.40,336.29 650.40,336.27 651.40,336.23 652.40,336.20 653.40,336.17 654.40,336.13 655.40,336.09 656.40,336.05 657.40,336.01 658.40,335.96 659.40,335.92 660.40,335.87 661.40,335.83 662.40,335.78 663.40,335.73 664.40,335.67 665.40,335.61 666.40,335.55 667.40,335.47 668.40,335.39 669.40,335.30 670.40,335.20" fill="none" stroke="#5E81B5" stroke-width="1.65" stroke-dasharray="7.2,5.8" stroke-linecap="round" stroke-linejoin="round"/>
<polyline clip-path="url(#cf)" points="487.40,336.40 488.40,336.40 489.40,336.40 490.40,336.40 491.40,336.40 492.40,336.40 493.40,336.40 494.40,336.40 495.40,336.40 496.40,336.40 497.40,336.40 498.40,336.40 499.40,336.40 500.40,336.40 501.40,336.40 502.40,336.40 503.40,336.40 504.40,336.40 505.40,336.40 506.40,336.40 507.40,336.40 508.40,336.40 509.40,336.40 510.40,336.40 511.40,336.40 512.40,336.40 513.40,336.40 514.40,336.40 515.40,336.40 516.40,336.40 517.40,336.40 518.40,336.40 519.40,336.40 520.40,336.40 521.40,336.40 522.40,336.40 523.40,336.40 524.40,336.40 525.40,336.40 526.40,336.40 527.40,336.40 528.40,336.40 529.40,336.40 530.40,336.40 531.40,336.40 532.40,336.40 533.40,336.40 534.40,336.40 535.40,336.40 536.40,336.40 537.40,336.40 538.40,336.40 539.40,336.40 540.40,336.40 541.40,336.40 542.40,336.40 543.40,336.40 544.40,336.40 545.40,336.40 546.40,336.40 547.40,336.40 548.40,336.40 549.40,336.40 550.40,336.40 551.40,336.40 552.40,336.40 553.40,336.40 554.40,336.40 555.40,336.40 556.40,336.40 557.40,336.40 558.40,336.40 559.40,336.40 560.40,336.40 561.40,336.40 562.40,336.40 563.40,336.40 564.40,336.40 565.40,336.40 566.40,336.40 567.40,336.40 568.40,336.40 569.40,336.40 570.40,336.40 571.40,336.40 572.40,336.40 573.40,336.40 574.40,336.40 575.40,336.40 576.40,336.40 577.40,336.40 578.40,336.40 579.40,336.40 580.40,336.40 581.40,336.40 582.40,336.40 583.40,336.40 584.40,336.40 585.40,336.40 586.40,336.40 587.40,336.40 588.40,336.40 589.40,336.40 590.40,336.40 591.40,336.40 592.40,336.40 593.40,336.40 594.40,336.40 595.40,336.40 596.40,336.40 597.40,336.40 598.40,336.40 599.40,336.40 600.40,336.40 601.40,336.40 602.40,336.40 603.40,336.40 604.40,336.40 605.40,336.40 606.40,336.40 607.40,336.40 608.40,336.40 609.40,336.40 610.40,336.40 611.40,336.40 612.40,336.39 613.40,336.39 614.40,336.37 615.40,336.36 616.40,336.34 617.40,336.31 618.40,336.29 619.40,336.26 620.40,336.23 621.40,336.19 622.40,336.16 623.40,336.12 624.40,336.08 625.40,336.04 626.40,336.00 627.40,335.95 628.40,335.91 629.40,335.86 630.40,335.82 631.40,335.77 632.40,335.72 633.40,335.66 634.40,335.60 635.40,335.53 636.40,335.45 637.40,335.37 638.40,335.28 639.40,335.18 640.40,335.08 641.40,334.96 642.40,334.84 643.40,334.69 644.40,334.50 645.40,334.26 646.40,334.00 647.40,333.72 648.40,333.43 649.40,333.14 650.40,332.87 651.40,332.60 652.40,332.30 653.40,331.97 654.40,331.58 655.40,331.08 656.40,330.41 657.40,329.60 658.40,328.73 659.40,327.88 660.40,327.03 661.40,326.09 662.40,324.94 663.40,323.36 664.40,321.04 665.40,318.50 665.65,317.90 665.90,317.32 666.15,316.73 666.40,316.12 666.65,315.47 666.90,314.74 667.15,313.93 667.40,313.01 667.65,311.90 667.90,310.61 668.15,309.15 668.40,307.53 668.65,305.77 668.90,303.81 669.15,301.50 669.40,298.82 669.65,295.76 669.90,292.23 669.95,291.44 670.00,290.59 670.05,289.71 670.10,288.77 670.15,287.77 670.20,286.71 670.25,285.59 670.30,284.40 670.35,283.01 670.40,281.36 670.45,279.49 670.50,277.45 670.55,275.29 670.60,273.04 670.65,270.76 670.70,268.49 670.75,266.30 670.80,264.20 670.80,264.20" fill="none" stroke="#E19C24" stroke-width="1.3" stroke-linejoin="round"/>
<polyline clip-path="url(#cf)" points="487.40,336.40 488.40,336.40 489.40,336.40 490.40,336.40 491.40,336.40 492.40,336.40 493.40,336.40 494.40,336.40 495.40,336.40 496.40,336.40 497.40,336.40 498.40,336.40 499.40,336.40 500.40,336.40 501.40,336.40 502.40,336.40 503.40,336.40 504.40,336.40 505.40,336.40 506.40,336.40 507.40,336.40 508.40,336.40 509.40,336.40 510.40,336.40 511.40,336.40 512.40,336.40 513.40,336.40 514.40,336.40 515.40,336.40 516.40,336.40 517.40,336.40 518.40,336.40 519.40,336.40 520.40,336.40 521.40,336.40 522.40,336.40 523.40,336.40 524.40,336.40 525.40,336.40 526.40,336.40 527.40,336.40 528.40,336.40 529.40,336.40 530.40,336.40 531.40,336.40 532.40,336.40 533.40,336.40 534.40,336.40 535.40,336.40 536.40,336.40 537.40,336.40 538.40,336.40 539.40,336.40 540.40,336.40 541.40,336.40 542.40,336.40 543.40,336.40 544.40,336.40 545.40,336.40 546.40,336.40 547.40,336.40 548.40,336.40 549.40,336.40 550.40,336.40 551.40,336.40 552.40,336.40 553.40,336.40 554.40,336.40 555.40,336.40 556.40,336.40 557.40,336.40 558.40,336.40 559.40,336.40 560.40,336.40 561.40,336.40 562.40,336.40 563.40,336.40 564.40,336.40 565.40,336.40 566.40,336.40 567.40,336.40 568.40,336.40 569.40,336.40 570.40,336.40 571.40,336.40 572.40,336.40 573.40,336.40 574.40,336.40 575.40,336.40 576.40,336.40 577.40,336.40 578.40,336.40 579.40,336.40 580.40,336.40 581.40,336.39 582.40,336.39 583.40,336.37 584.40,336.36 585.40,336.34 586.40,336.32 587.40,336.29 588.40,336.26 589.40,336.23 590.40,336.20 591.40,336.16 592.40,336.12 593.40,336.09 594.40,336.04 595.40,336.00 596.40,335.96 597.40,335.91 598.40,335.87 599.40,335.82 600.40,335.78 601.40,335.73 602.40,335.67 603.40,335.61 604.40,335.54 605.40,335.46 606.40,335.38 607.40,335.29 608.40,335.19 609.40,335.09 610.40,334.97 611.40,334.85 612.40,334.71 613.40,334.52 614.40,334.29 615.40,334.03 616.40,333.74 617.40,333.46 618.40,333.17 619.40,332.90 620.40,332.63 621.40,332.34 622.40,332.01 623.40,331.62 624.40,331.14 625.40,330.48 626.40,329.68 627.40,328.82 628.40,327.96 629.40,327.12 630.40,326.19 631.40,325.07 632.40,323.56 633.40,321.30 634.40,318.75 634.65,318.14 634.90,317.55 635.15,316.97 635.40,316.37 635.65,315.73 635.90,315.04 636.15,314.27 636.40,313.40 636.65,312.37 636.90,311.15 637.15,309.75 637.40,308.19 637.65,306.49 637.90,304.63 638.15,302.47 638.40,299.94 638.65,297.03 638.90,293.72 638.95,292.99 639.00,292.23 639.05,291.44 639.10,290.59 639.15,289.71 639.20,288.77 639.25,287.77 639.30,286.71 639.35,285.59 639.40,284.40 639.45,283.01 639.50,281.36 639.55,279.49 639.60,277.45 639.65,275.29 639.70,273.04 639.75,270.76 639.80,268.49 639.85,266.30 639.90,264.20 639.90,264.20" fill="none" stroke="#8FB032" stroke-width="1.65" stroke-dasharray="7.2,5.8" stroke-linecap="round" stroke-linejoin="round"/>
<polyline clip-path="url(#cf)" points="644.10,417.00 644.35,417.00 644.60,417.00 644.85,417.00 645.10,413.24 645.35,403.01 645.60,395.00 645.85,391.50 646.10,388.59 646.35,386.18 646.60,384.19 646.85,382.50 647.10,381.00 647.35,379.66 647.60,378.47 647.85,377.40 648.10,376.43 648.35,375.53 648.60,374.68 648.85,373.84 649.10,373.00 649.35,372.15 649.60,371.30 649.85,370.48 650.10,369.69 650.80,367.71 651.50,366.15 652.20,364.77 652.90,363.57 653.60,362.57 654.30,361.80 655.00,361.12 655.70,360.50 656.40,359.94 657.10,359.45 657.80,359.04 658.50,358.71 659.20,358.47 659.90,358.28 660.60,358.10 661.30,357.93 662.00,357.80 662.70,357.69 663.40,357.62 664.10,357.60 664.80,357.62 665.50,357.66 666.20,357.73 666.90,357.82 667.60,357.93 668.30,358.06 669.00,358.21 669.70,358.37 670.40,358.55 670.80,358.65" fill="none" stroke="#8FB032" stroke-width="1.65" stroke-dasharray="7.2,5.8" stroke-linecap="round" stroke-linejoin="round"/>
<line clip-path="url(#cf)" x1="644.10" y1="264.20" x2="644.10" y2="417.00" stroke="#8FB032" stroke-width="1.65" stroke-dasharray="7.2,5.8" stroke-linecap="round"/>
<polyline clip-path="url(#cf)" points="487.40,336.40 488.40,336.40 489.40,336.40 490.40,336.40 491.40,336.40 492.40,336.40 493.40,336.40 494.40,336.40 495.40,336.40 496.40,336.40 497.40,336.40 498.40,336.40 499.40,336.40 500.40,336.40 501.40,336.40 502.40,336.40 503.40,336.40 504.40,336.40 505.40,336.40 506.40,336.40 507.40,336.40 508.40,336.40 509.40,336.40 510.40,336.40 511.40,336.40 512.40,336.40 513.40,336.40 514.40,336.40 515.40,336.40 516.40,336.40 517.40,336.40 518.40,336.40 519.40,336.40 520.40,336.40 521.40,336.40 522.40,336.40 523.40,336.40 524.40,336.40 525.40,336.40 526.40,336.40 527.40,336.40 528.40,336.40 529.40,336.40 530.40,336.40 531.40,336.40 532.40,336.40 533.40,336.40 534.40,336.40 535.40,336.40 536.40,336.40 537.40,336.40 538.40,336.40 539.40,336.40 540.40,336.40 541.40,336.40 542.40,336.40 543.40,336.40 544.40,336.40 545.40,336.40 546.40,336.40 547.40,336.40 548.40,336.40 549.40,336.40 550.40,336.39 551.40,336.39 552.40,336.37 553.40,336.36 554.40,336.34 555.40,336.31 556.40,336.29 557.40,336.26 558.40,336.23 559.40,336.19 560.40,336.16 561.40,336.12 562.40,336.08 563.40,336.04 564.40,336.00 565.40,335.95 566.40,335.91 567.40,335.86 568.40,335.82 569.40,335.77 570.40,335.72 571.40,335.66 572.40,335.60 573.40,335.53 574.40,335.45 575.40,335.37 576.40,335.28 577.40,335.18 578.40,335.08 579.40,334.96 580.40,334.84 581.40,334.69 582.40,334.50 583.40,334.26 584.40,334.00 585.40,333.72 586.40,333.43 587.40,333.14 588.40,332.87 589.40,332.60 590.40,332.30 591.40,331.97 592.40,331.58 593.40,331.08 594.40,330.41 595.40,329.60 596.40,328.73 597.40,327.88 598.40,327.03 599.40,326.09 600.40,324.94 601.40,323.36 602.40,321.04 603.40,318.50 603.65,317.90 603.90,317.32 604.15,316.73 604.40,316.12 604.65,315.47 604.90,314.74 605.15,313.93 605.40,313.01 605.65,311.90 605.90,310.61 606.15,309.15 606.40,307.53 606.65,305.77 606.90,303.81 607.15,301.50 607.40,298.82 607.65,295.76 607.90,292.23 607.95,291.44 608.00,290.59 608.05,289.71 608.10,288.77 608.15,287.77 608.20,286.71 608.25,285.59 608.30,284.40 608.35,283.01 608.40,281.36 608.45,279.49 608.50,277.45 608.55,275.29 608.60,273.04 608.65,270.76 608.70,268.49 608.75,266.30 608.80,264.20 608.80,264.20" fill="none" stroke="#EB6235" stroke-width="1.3" stroke-linejoin="round"/>
<polyline clip-path="url(#cf)" points="612.40,417.00 612.65,417.00 612.90,417.00 613.15,417.00 613.40,413.24 613.65,403.01 613.90,395.00 614.15,391.50 614.40,388.59 614.65,386.18 614.90,384.19 615.15,382.50 615.40,381.00 615.65,379.66 615.90,378.47 616.15,377.40 616.40,376.43 616.65,375.53 616.90,374.68 617.15,373.84 617.40,373.00 617.65,372.15 617.90,371.30 618.15,370.48 618.40,369.69 619.10,367.71 619.80,366.15 620.50,364.77 621.20,363.57 621.90,362.57 622.60,361.80 623.30,361.12 624.00,360.50 624.70,359.94 625.40,359.45 626.10,359.04 626.80,358.71 627.50,358.47 628.20,358.28 628.90,358.10 629.60,357.93 630.30,357.80 631.00,357.69 631.70,357.62 632.40,357.60 633.10,357.62 633.80,357.66 634.50,357.73 635.20,357.82 635.90,357.93 636.60,358.06 637.30,358.21 638.00,358.37 638.70,358.55 639.40,358.73 640.10,358.92 640.80,359.14 641.50,359.42 642.20,359.78 642.90,360.21 643.60,360.69 644.30,361.24 645.00,361.83 645.70,362.46 646.40,363.12 647.10,363.80 647.80,364.50 648.50,365.22 649.20,365.93 649.90,366.63 650.60,367.33 651.30,368.00 652.00,368.64 652.70,369.26 653.40,369.88 654.10,370.50 654.80,371.13 655.50,371.77 656.20,372.40 656.90,373.05 657.60,373.69 658.30,374.33 659.00,374.97 659.70,375.61 660.40,376.24 661.10,376.86 661.80,377.48 662.50,378.09 663.20,378.67 663.90,379.24 664.60,379.79 665.30,380.34 666.00,380.90 666.70,381.47 667.40,382.08 668.10,382.71 668.80,383.40 669.50,384.14 670.20,384.94 670.80,385.64" fill="none" stroke="#EB6235" stroke-width="1.3" stroke-linejoin="round"/>
<line clip-path="url(#cf)" x1="612.40" y1="264.20" x2="612.40" y2="417.00" stroke="#EB6235" stroke-width="1.3"/>
<polyline clip-path="url(#cf)" points="487.40,336.40 488.40,336.40 489.40,336.40 490.40,336.40 491.40,336.40 492.40,336.40 493.40,336.40 494.40,336.40 495.40,336.40 496.40,336.40 497.40,336.40 498.40,336.40 499.40,336.40 500.40,336.40 501.40,336.40 502.40,336.40 503.40,336.40 504.40,336.40 505.40,336.40 506.40,336.40 507.40,336.40 508.40,336.40 509.40,336.40 510.40,336.40 511.40,336.40 512.40,336.40 513.40,336.40 514.40,336.40 515.40,336.40 516.40,336.40 517.40,336.40 518.40,336.40 519.40,336.39 520.40,336.39 521.40,336.37 522.40,336.36 523.40,336.34 524.40,336.32 525.40,336.29 526.40,336.26 527.40,336.23 528.40,336.20 529.40,336.16 530.40,336.12 531.40,336.09 532.40,336.04 533.40,336.00 534.40,335.96 535.40,335.91 536.40,335.87 537.40,335.82 538.40,335.78 539.40,335.73 540.40,335.67 541.40,335.61 542.40,335.54 543.40,335.46 544.40,335.38 545.40,335.29 546.40,335.19 547.40,335.09 548.40,334.97 549.40,334.85 550.40,334.71 551.40,334.52 552.40,334.29 553.40,334.03 554.40,333.74 555.40,333.46 556.40,333.17 557.40,332.90 558.40,332.63 559.40,332.34 560.40,332.01 561.40,331.62 562.40,331.14 563.40,330.48 564.40,329.68 565.40,328.82 566.40,327.96 567.40,327.12 568.40,326.19 569.40,325.07 570.40,323.56 571.40,321.30 572.40,318.75 572.65,318.14 572.90,317.55 573.15,316.97 573.40,316.37 573.65,315.73 573.90,315.04 574.15,314.27 574.40,313.40 574.65,312.37 574.90,311.15 575.15,309.75 575.40,308.19 575.65,306.49 575.90,304.63 576.15,302.47 576.40,299.94 576.65,297.03 576.90,293.72 576.95,292.99 577.00,292.23 577.05,291.44 577.10,290.59 577.15,289.71 577.20,288.77 577.25,287.77 577.30,286.71 577.35,285.59 577.40,284.40 577.45,283.01 577.50,281.36 577.55,279.49 577.60,277.45 577.65,275.29 577.70,273.04 577.75,270.76 577.80,268.49 577.85,266.30 577.90,264.20 577.90,264.20" fill="none" stroke="#8778B3" stroke-width="1.65" stroke-dasharray="7.2,5.8" stroke-linecap="round" stroke-linejoin="round"/>
<polyline clip-path="url(#cf)" points="580.70,417.00 580.95,417.00 581.20,417.00 581.45,417.00 581.70,413.24 581.95,403.01 582.20,395.00 582.45,391.50 582.70,388.59 582.95,386.18 583.20,384.19 583.45,382.50 583.70,381.00 583.95,379.66 584.20,378.47 584.45,377.40 584.70,376.43 584.95,375.53 585.20,374.68 585.45,373.84 585.70,373.00 585.95,372.15 586.20,371.30 586.45,370.48 586.70,369.69 587.40,367.71 588.10,366.15 588.80,364.77 589.50,363.57 590.20,362.57 590.90,361.80 591.60,361.12 592.30,360.50 593.00,359.94 593.70,359.45 594.40,359.04 595.10,358.71 595.80,358.47 596.50,358.28 597.20,358.10 597.90,357.93 598.60,357.80 599.30,357.69 600.00,357.62 600.70,357.60 601.40,357.62 602.10,357.66 602.80,357.73 603.50,357.82 604.20,357.93 604.90,358.06 605.60,358.21 606.30,358.37 607.00,358.55 607.70,358.73 608.40,358.92 609.10,359.14 609.80,359.42 610.50,359.78 611.20,360.21 611.90,360.69 612.60,361.24 613.30,361.83 614.00,362.46 614.70,363.12 615.40,363.80 616.10,364.50 616.80,365.22 617.50,365.93 618.20,366.63 618.90,367.33 619.60,368.00 620.30,368.64 621.00,369.26 621.70,369.88 622.40,370.50 623.10,371.13 623.80,371.77 624.50,372.40 625.20,373.05 625.90,373.69 626.60,374.33 627.30,374.97 628.00,375.61 628.70,376.24 629.40,376.86 630.10,377.48 630.80,378.09 631.50,378.67 632.20,379.24 632.90,379.79 633.60,380.34 634.30,380.90 635.00,381.47 635.70,382.08 636.40,382.71 637.10,383.40 637.80,384.14 638.50,384.94 639.20,385.76 639.90,386.61 640.60,387.47 641.30,388.33 642.00,389.18 642.70,390.00 643.40,390.80 644.10,391.60 644.80,392.40 645.50,393.20 646.20,393.99 646.90,394.78 647.60,395.57 648.30,396.35 649.00,397.13 649.70,397.91 650.40,398.67 651.10,399.43 651.80,400.19 652.50,400.95 653.20,401.71 653.90,402.46 654.60,403.21 655.30,403.95 656.00,404.69 656.70,405.42 657.40,406.15 658.10,406.88 658.80,407.59 659.50,408.30 660.20,409.00 660.90,409.71 661.60,410.47 662.30,411.29 663.00,412.16 663.70,413.03 664.40,413.88 665.10,414.69 665.80,415.42 666.50,416.04 667.20,416.53 667.90,416.85 668.60,416.99 669.30,416.91 670.00,416.63 670.70,416.18 670.80,416.09" fill="none" stroke="#8778B3" stroke-width="1.65" stroke-dasharray="7.2,5.8" stroke-linecap="round" stroke-linejoin="round"/>
<line clip-path="url(#cf)" x1="580.70" y1="264.20" x2="580.70" y2="417.00" stroke="#8778B3" stroke-width="1.65" stroke-dasharray="7.2,5.8" stroke-linecap="round"/>
<polyline clip-path="url(#cf)" points="487.40,336.40 488.40,336.39 489.40,336.38 490.40,336.37 491.40,336.35 492.40,336.33 493.40,336.30 494.40,336.28 495.40,336.25 496.40,336.22 497.40,336.18 498.40,336.14 499.40,336.10 500.40,336.06 501.40,336.02 502.40,335.98 503.40,335.94 504.40,335.89 505.40,335.85 506.40,335.80 507.40,335.75 508.40,335.70 509.40,335.64 510.40,335.57 511.40,335.50 512.40,335.42 513.40,335.34 514.40,335.24 515.40,335.14 516.40,335.03 517.40,334.91 518.40,334.79 519.40,334.62 520.40,334.41 521.40,334.16 522.40,333.89 523.40,333.60 524.40,333.31 525.40,333.04 526.40,332.77 527.40,332.49 528.40,332.18 529.40,331.82 530.40,331.40 531.40,330.83 532.40,330.10 533.40,329.26 534.40,328.39 535.40,327.54 536.40,326.67 537.40,325.66 538.40,324.40 539.40,322.50 540.40,320.02 540.65,319.38 540.90,318.75 541.15,318.14 541.40,317.55 541.65,316.97 541.90,316.37 542.15,315.73 542.40,315.04 542.65,314.27 542.90,313.40 543.15,312.37 543.40,311.15 543.65,309.75 543.90,308.19 544.15,306.49 544.40,304.63 544.65,302.47 544.90,299.94 545.15,297.03 545.40,293.72 545.45,292.99 545.50,292.23 545.55,291.44 545.60,290.59 545.65,289.71 545.70,288.77 545.75,287.77 545.80,286.71 545.85,285.59 545.90,284.40 545.95,283.01 546.00,281.36 546.05,279.49 546.10,277.45 546.15,275.29 546.20,273.04 546.25,270.76 546.30,268.49 546.35,266.30 546.40,264.20 546.40,264.20" fill="none" stroke="#C56E1A" stroke-width="1.3" stroke-linejoin="round"/>
<polyline clip-path="url(#cf)" points="550.10,417.00 550.35,417.00 550.60,417.00 550.85,417.00 551.10,413.24 551.35,403.01 551.60,395.00 551.85,391.50 552.10,388.59 552.35,386.18 552.60,384.19 552.85,382.50 553.10,381.00 553.35,379.66 553.60,378.47 553.85,377.40 554.10,376.43 554.35,375.53 554.60,374.68 554.85,373.84 555.10,373.00 555.35,372.15 555.60,371.30 555.85,370.48 556.10,369.69 556.80,367.71 557.50,366.15 558.20,364.77 558.90,363.57 559.60,362.57 560.30,361.80 561.00,361.12 561.70,360.50 562.40,359.94 563.10,359.45 563.80,359.04 564.50,358.71 565.20,358.47 565.90,358.28 566.60,358.10 567.30,357.93 568.00,357.80 568.70,357.69 569.40,357.62 570.10,357.60 570.80,357.62 571.50,357.66 572.20,357.73 572.90,357.82 573.60,357.93 574.30,358.06 575.00,358.21 575.70,358.37 576.40,358.55 577.10,358.73 577.80,358.92 578.50,359.14 579.20,359.42 579.90,359.78 580.60,360.21 581.30,360.69 582.00,361.24 582.70,361.83 583.40,362.46 584.10,363.12 584.80,363.80 585.50,364.50 586.20,365.22 586.90,365.93 587.60,366.63 588.30,367.33 589.00,368.00 589.70,368.64 590.40,369.26 591.10,369.88 591.80,370.50 592.50,371.13 593.20,371.77 593.90,372.40 594.60,373.05 595.30,373.69 596.00,374.33 596.70,374.97 597.40,375.61 598.10,376.24 598.80,376.86 599.50,377.48 600.20,378.09 600.90,378.67 601.60,379.24 602.30,379.79 603.00,380.34 603.70,380.90 604.40,381.47 605.10,382.08 605.80,382.71 606.50,383.40 607.20,384.14 607.90,384.94 608.60,385.76 609.30,386.61 610.00,387.47 610.70,388.33 611.40,389.18 612.10,390.00 612.80,390.80 613.50,391.60 614.20,392.40 614.90,393.20 615.60,393.99 616.30,394.78 617.00,395.57 617.70,396.35 618.40,397.13 619.10,397.91 619.80,398.67 620.50,399.43 621.20,400.19 621.90,400.95 622.60,401.71 623.30,402.46 624.00,403.21 624.70,403.95 625.40,404.69 626.10,405.42 626.80,406.15 627.50,406.88 628.20,407.59 628.90,408.30 629.60,409.00 630.30,409.71 631.00,410.47 631.70,411.29 632.40,412.16 633.10,413.03 633.80,413.88 634.50,414.69 635.20,415.42 635.90,416.04 636.60,416.53 637.30,416.85 638.00,416.99 638.70,416.91 639.40,416.63 640.10,416.18 640.80,415.56 641.50,414.84 642.20,414.01 642.90,413.13 643.60,412.20 644.30,411.27 645.00,410.35 645.70,409.47 646.40,408.65 647.10,407.82 647.80,406.95 648.50,406.05 649.20,405.12 649.90,404.18 650.60,403.22 651.30,402.25 652.00,401.27 652.70,400.29 653.40,399.32 654.10,398.35 654.80,397.40 655.50,396.46 656.20,395.52 656.90,394.57 657.60,393.62 658.30,392.66 659.00,391.71 659.70,390.75 660.40,389.79 661.10,388.83 661.80,387.88 662.50,386.94 663.20,386.00 663.90,385.08 664.60,384.16 665.30,383.26 666.00,382.37 666.70,381.49 667.40,380.64 668.10,379.80 668.80,378.97 669.50,378.16 670.20,377.36 670.80,376.68" fill="none" stroke="#C56E1A" stroke-width="1.3" stroke-linejoin="round"/>
<line clip-path="url(#cf)" x1="550.10" y1="264.20" x2="550.10" y2="417.00" stroke="#C56E1A" stroke-width="1.3"/>
<polyline clip-path="url(#cf)" points="487.40,334.71 488.40,334.52 489.40,334.29 490.40,334.03 491.40,333.74 492.40,333.46 493.40,333.17 494.40,332.90 495.40,332.63 496.40,332.34 497.40,332.01 498.40,331.62 499.40,331.14 500.40,330.48 501.40,329.68 502.40,328.82 503.40,327.96 504.40,327.12 505.40,326.19 506.40,325.07 507.40,323.56 508.40,321.30 509.40,318.75 509.65,318.14 509.90,317.55 510.15,316.97 510.40,316.37 510.65,315.73 510.90,315.04 511.15,314.27 511.40,313.40 511.65,312.37 511.90,311.15 512.15,309.75 512.40,308.19 512.65,306.49 512.90,304.63 513.15,302.47 513.40,299.94 513.65,297.03 513.90,293.72 513.95,292.99 514.00,292.23 514.05,291.44 514.10,290.59 514.15,289.71 514.20,288.77 514.25,287.77 514.30,286.71 514.35,285.59 514.40,284.40 514.45,283.01 514.50,281.36 514.55,279.49 514.60,277.45 514.65,275.29 514.70,273.04 514.75,270.76 514.80,268.49 514.85,266.30 514.90,264.20 514.90,264.20" fill="none" stroke="#5D9EC7" stroke-width="1.65" stroke-dasharray="7.2,5.8" stroke-linecap="round" stroke-linejoin="round"/>
<polyline clip-path="url(#cf)" points="518.60,417.00 518.85,417.00 519.10,417.00 519.35,417.00 519.60,413.24 519.85,403.01 520.10,395.00 520.35,391.50 520.60,388.59 520.85,386.18 521.10,384.19 521.35,382.50 521.60,381.00 521.85,379.66 522.10,378.47 522.35,377.40 522.60,376.43 522.85,375.53 523.10,374.68 523.35,373.84 523.60,373.00 523.85,372.15 524.10,371.30 524.35,370.48 524.60,369.69 525.30,367.71 526.00,366.15 526.70,364.77 527.40,363.57 528.10,362.57 528.80,361.80 529.50,361.12 530.20,360.50 530.90,359.94 531.60,359.45 532.30,359.04 533.00,358.71 533.70,358.47 534.40,358.28 535.10,358.10 535.80,357.93 536.50,357.80 537.20,357.69 537.90,357.62 538.60,357.60 539.30,357.62 540.00,357.66 540.70,357.73 541.40,357.82 542.10,357.93 542.80,358.06 543.50,358.21 544.20,358.37 544.90,358.55 545.60,358.73 546.30,358.92 547.00,359.14 547.70,359.42 548.40,359.78 549.10,360.21 549.80,360.69 550.50,361.24 551.20,361.83 551.90,362.46 552.60,363.12 553.30,363.80 554.00,364.50 554.70,365.22 555.40,365.93 556.10,366.63 556.80,367.33 557.50,368.00 558.20,368.64 558.90,369.26 559.60,369.88 560.30,370.50 561.00,371.13 561.70,371.77 562.40,372.40 563.10,373.05 563.80,373.69 564.50,374.33 565.20,374.97 565.90,375.61 566.60,376.24 567.30,376.86 568.00,377.48 568.70,378.09 569.40,378.67 570.10,379.24 570.80,379.79 571.50,380.34 572.20,380.90 572.90,381.47 573.60,382.08 574.30,382.71 575.00,383.40 575.70,384.14 576.40,384.94 577.10,385.76 577.80,386.61 578.50,387.47 579.20,388.33 579.90,389.18 580.60,390.00 581.30,390.80 582.00,391.60 582.70,392.40 583.40,393.20 584.10,393.99 584.80,394.78 585.50,395.57 586.20,396.35 586.90,397.13 587.60,397.91 588.30,398.67 589.00,399.43 589.70,400.19 590.40,400.95 591.10,401.71 591.80,402.46 592.50,403.21 593.20,403.95 593.90,404.69 594.60,405.42 595.30,406.15 596.00,406.88 596.70,407.59 597.40,408.30 598.10,409.00 598.80,409.71 599.50,410.47 600.20,411.29 600.90,412.16 601.60,413.03 602.30,413.88 603.00,414.69 603.70,415.42 604.40,416.04 605.10,416.53 605.80,416.85 606.50,416.99 607.20,416.91 607.90,416.63 608.60,416.18 609.30,415.56 610.00,414.84 610.70,414.01 611.40,413.13 612.10,412.20 612.80,411.27 613.50,410.35 614.20,409.47 614.90,408.65 615.60,407.82 616.30,406.95 617.00,406.05 617.70,405.12 618.40,404.18 619.10,403.22 619.80,402.25 620.50,401.27 621.20,400.29 621.90,399.32 622.60,398.35 623.30,397.40 624.00,396.46 624.70,395.52 625.40,394.57 626.10,393.62 626.80,392.66 627.50,391.71 628.20,390.75 628.90,389.79 629.60,388.83 630.30,387.88 631.00,386.94 631.70,386.00 632.40,385.08 633.10,384.16 633.80,383.26 634.50,382.37 635.20,381.49 635.90,380.64 636.60,379.80 637.30,378.97 638.00,378.16 638.70,377.36 639.40,376.57 640.10,375.79 640.80,375.01 641.50,374.23 642.20,373.45 642.90,372.66 643.60,371.88 644.30,371.09 645.00,370.31 645.70,369.52 646.40,368.74 647.10,367.96 647.80,367.18 648.50,366.41 649.20,365.64 649.90,364.88 650.60,364.13 651.30,363.38 652.00,362.65 652.70,361.92 653.40,361.20 654.10,360.49 654.80,359.77 655.50,359.04 656.20,358.30 656.90,357.55 657.60,356.81 658.30,356.07 659.00,355.33 659.70,354.59 660.40,353.87 661.10,353.16 661.80,352.46 662.50,351.78 663.20,351.12 663.90,350.48 664.60,349.88 665.30,349.29 666.00,348.74 666.70,348.22 667.40,347.74 668.10,347.30 668.80,346.89 669.50,346.50 670.20,346.13 670.80,345.82" fill="none" stroke="#5D9EC7" stroke-width="1.65" stroke-dasharray="7.2,5.8" stroke-linecap="round" stroke-linejoin="round"/>
<line clip-path="url(#cf)" x1="518.60" y1="264.20" x2="518.60" y2="417.00" stroke="#5D9EC7" stroke-width="1.65" stroke-dasharray="7.2,5.8" stroke-linecap="round"/>
<polyline clip-path="url(#cf)" points="487.40,268.49 487.45,266.30 487.50,264.20" fill="none" stroke="#FFBF00" stroke-width="1.3" stroke-linejoin="round"/>
<polyline clip-path="url(#cf)" points="487.60,417.00 487.85,417.00 488.10,417.00 488.35,417.00 488.60,413.24 488.85,403.01 489.10,395.00 489.35,391.50 489.60,388.59 489.85,386.18 490.10,384.19 490.35,382.50 490.60,381.00 490.85,379.66 491.10,378.47 491.35,377.40 491.60,376.43 491.85,375.53 492.10,374.68 492.35,373.84 492.60,373.00 492.85,372.15 493.10,371.30 493.35,370.48 493.60,369.69 494.30,367.71 495.00,366.15 495.70,364.77 496.40,363.57 497.10,362.57 497.80,361.80 498.50,361.12 499.20,360.50 499.90,359.94 500.60,359.45 501.30,359.04 502.00,358.71 502.70,358.47 503.40,358.28 504.10,358.10 504.80,357.93 505.50,357.80 506.20,357.69 506.90,357.62 507.60,357.60 508.30,357.62 509.00,357.66 509.70,357.73 510.40,357.82 511.10,357.93 511.80,358.06 512.50,358.21 513.20,358.37 513.90,358.55 514.60,358.73 515.30,358.92 516.00,359.14 516.70,359.42 517.40,359.78 518.10,360.21 518.80,360.69 519.50,361.24 520.20,361.83 520.90,362.46 521.60,363.12 522.30,363.80 523.00,364.50 523.70,365.22 524.40,365.93 525.10,366.63 525.80,367.33 526.50,368.00 527.20,368.64 527.90,369.26 528.60,369.88 529.30,370.50 530.00,371.13 530.70,371.77 531.40,372.40 532.10,373.05 532.80,373.69 533.50,374.33 534.20,374.97 534.90,375.61 535.60,376.24 536.30,376.86 537.00,377.48 537.70,378.09 538.40,378.67 539.10,379.24 539.80,379.79 540.50,380.34 541.20,380.90 541.90,381.47 542.60,382.08 543.30,382.71 544.00,383.40 544.70,384.14 545.40,384.94 546.10,385.76 546.80,386.61 547.50,387.47 548.20,388.33 548.90,389.18 549.60,390.00 550.30,390.80 551.00,391.60 551.70,392.40 552.40,393.20 553.10,393.99 553.80,394.78 554.50,395.57 555.20,396.35 555.90,397.13 556.60,397.91 557.30,398.67 558.00,399.43 558.70,400.19 559.40,400.95 560.10,401.71 560.80,402.46 561.50,403.21 562.20,403.95 562.90,404.69 563.60,405.42 564.30,406.15 565.00,406.88 565.70,407.59 566.40,408.30 567.10,409.00 567.80,409.71 568.50,410.47 569.20,411.29 569.90,412.16 570.60,413.03 571.30,413.88 572.00,414.69 572.70,415.42 573.40,416.04 574.10,416.53 574.80,416.85 575.50,416.99 576.20,416.91 576.90,416.63 577.60,416.18 578.30,415.56 579.00,414.84 579.70,414.01 580.40,413.13 581.10,412.20 581.80,411.27 582.50,410.35 583.20,409.47 583.90,408.65 584.60,407.82 585.30,406.95 586.00,406.05 586.70,405.12 587.40,404.18 588.10,403.22 588.80,402.25 589.50,401.27 590.20,400.29 590.90,399.32 591.60,398.35 592.30,397.40 593.00,396.46 593.70,395.52 594.40,394.57 595.10,393.62 595.80,392.66 596.50,391.71 597.20,390.75 597.90,389.79 598.60,388.83 599.30,387.88 600.00,386.94 600.70,386.00 601.40,385.08 602.10,384.16 602.80,383.26 603.50,382.37 604.20,381.49 604.90,380.64 605.60,379.80 606.30,378.97 607.00,378.16 607.70,377.36 608.40,376.57 609.10,375.79 609.80,375.01 610.50,374.23 611.20,373.45 611.90,372.66 612.60,371.88 613.30,371.09 614.00,370.31 614.70,369.52 615.40,368.74 616.10,367.96 616.80,367.18 617.50,366.41 618.20,365.64 618.90,364.88 619.60,364.13 620.30,363.38 621.00,362.65 621.70,361.92 622.40,361.20 623.10,360.49 623.80,359.77 624.50,359.04 625.20,358.30 625.90,357.55 626.60,356.81 627.30,356.07 628.00,355.33 628.70,354.59 629.40,353.87 630.10,353.16 630.80,352.46 631.50,351.78 632.20,351.12 632.90,350.48 633.60,349.88 634.30,349.29 635.00,348.74 635.70,348.22 636.40,347.74 637.10,347.30 637.80,346.89 638.50,346.50 639.20,346.13 639.90,345.76 640.60,345.41 641.30,345.06 642.00,344.73 642.70,344.40 643.40,344.09 644.10,343.78 644.80,343.49 645.50,343.21 646.20,342.93 646.90,342.67 647.60,342.43 648.30,342.19 649.00,341.96 649.70,341.75 650.40,341.55 651.10,341.36 651.80,341.19 652.50,341.02 653.20,340.87 653.90,340.72 654.60,340.58 655.30,340.44 656.00,340.31 656.70,340.18 657.40,340.05 658.10,339.93 658.80,339.81 659.50,339.70 660.20,339.59 660.90,339.48 661.60,339.38 662.30,339.28 663.00,339.18 663.70,339.09 664.40,339.00 665.10,338.91 665.80,338.83 666.50,338.74 667.20,338.66 667.90,338.59 668.60,338.51 669.30,338.43 670.00,338.36 670.70,338.29 670.80,338.28" fill="none" stroke="#FFBF00" stroke-width="1.3" stroke-linejoin="round"/>
<line clip-path="url(#cf)" x1="487.60" y1="264.20" x2="487.60" y2="417.00" stroke="#FFBF00" stroke-width="1.3"/>
<polyline clip-path="url(#cf)" points="487.40,360.14 488.10,360.62 488.80,361.15 489.50,361.74 490.20,362.36 490.90,363.02 491.60,363.70 492.30,364.40 493.00,365.11 493.70,365.83 494.40,366.53 495.10,367.23 495.80,367.90 496.50,368.55 497.20,369.17 497.90,369.79 498.60,370.41 499.30,371.04 500.00,371.67 500.70,372.31 501.40,372.95 502.10,373.60 502.80,374.24 503.50,374.88 504.20,375.51 504.90,376.15 505.60,376.77 506.30,377.39 507.00,378.00 507.70,378.59 508.40,379.16 509.10,379.71 509.80,380.26 510.50,380.82 511.20,381.39 511.90,381.99 512.60,382.62 513.30,383.30 514.00,384.04 514.70,384.82 515.40,385.64 516.10,386.49 516.80,387.35 517.50,388.21 518.20,389.06 518.90,389.88 519.60,390.69 520.30,391.49 521.00,392.29 521.70,393.09 522.40,393.88 523.10,394.67 523.80,395.46 524.50,396.24 525.20,397.02 525.90,397.80 526.60,398.56 527.30,399.33 528.00,400.09 528.70,400.84 529.40,401.60 530.10,402.35 530.80,403.10 531.50,403.84 532.20,404.58 532.90,405.32 533.60,406.05 534.30,406.77 535.00,407.49 535.70,408.20 536.40,408.90 537.10,409.60 537.80,410.35 538.50,411.17 539.20,412.03 539.90,412.91 540.60,413.76 541.30,414.58 542.00,415.32 542.70,415.95 543.40,416.47 544.10,416.82 544.80,416.98 545.50,416.94 546.20,416.68 546.90,416.25 547.60,415.66 548.30,414.94 549.00,414.14 549.70,413.26 550.40,412.34 551.10,411.40 551.80,410.48 552.50,409.59 553.20,408.77 553.90,407.94 554.60,407.07 555.30,406.18 556.00,405.26 556.70,404.31 557.40,403.36 558.10,402.39 558.80,401.41 559.50,400.43 560.20,399.46 560.90,398.49 561.60,397.54 562.30,396.60 563.00,395.66 563.70,394.71 564.40,393.76 565.10,392.80 565.80,391.84 566.50,390.88 567.20,389.93 567.90,388.97 568.60,388.02 569.30,387.07 570.00,386.14 570.70,385.21 571.40,384.29 572.10,383.39 572.80,382.49 573.50,381.62 574.20,380.76 574.90,379.91 575.60,379.09 576.30,378.28 577.00,377.48 577.70,376.68 578.40,375.90 579.10,375.12 579.80,374.34 580.50,373.56 581.20,372.78 581.90,371.99 582.60,371.21 583.30,370.42 584.00,369.64 584.70,368.85 585.40,368.07 586.10,367.29 586.80,366.52 587.50,365.75 588.20,364.99 588.90,364.24 589.60,363.49 590.30,362.75 591.00,362.02 591.70,361.31 592.40,360.59 593.10,359.87 593.80,359.14 594.50,358.40 595.20,357.66 595.90,356.92 596.60,356.17 597.30,355.43 598.00,354.70 598.70,353.97 599.40,353.26 600.10,352.56 600.80,351.88 601.50,351.21 602.20,350.57 602.90,349.96 603.60,349.37 604.30,348.81 605.00,348.29 605.70,347.81 606.40,347.36 607.10,346.94 607.80,346.56 608.50,346.18 609.20,345.82 609.90,345.46 610.60,345.11 611.30,344.77 612.00,344.45 612.70,344.13 613.40,343.82 614.10,343.53 614.80,343.25 615.50,342.97 616.20,342.71 616.90,342.46 617.60,342.22 618.30,342.00 619.00,341.78 619.70,341.58 620.40,341.39 621.10,341.21 621.80,341.05 622.50,340.89 623.20,340.74 623.90,340.60 624.60,340.46 625.30,340.32 626.00,340.20 626.70,340.07 627.40,339.95 628.10,339.83 628.80,339.71 629.50,339.60 630.20,339.50 630.90,339.39 631.60,339.29 632.30,339.20 633.00,339.10 633.70,339.01 634.40,338.92 635.10,338.84 635.80,338.76 636.50,338.67 637.20,338.60 637.90,338.52 638.60,338.44 639.30,338.37 640.00,338.30 640.70,338.23 641.40,338.16 642.10,338.09 642.80,338.03 643.50,337.96 644.20,337.89 644.90,337.83 645.60,337.77 646.30,337.71 647.00,337.65 647.70,337.59 648.40,337.54 649.10,337.48 649.80,337.43 650.50,337.38 651.20,337.33 651.90,337.28 652.60,337.24 653.30,337.19 654.00,337.15 654.70,337.11 655.40,337.08 656.10,337.04 656.80,337.01 657.50,336.98 658.20,336.95 658.90,336.92 659.60,336.89 660.30,336.86 661.00,336.83 661.70,336.80 662.40,336.77 663.10,336.74 663.80,336.71 664.50,336.68 665.20,336.66 665.90,336.63 666.60,336.61 667.30,336.58 668.00,336.56 668.70,336.54 669.40,336.52 670.10,336.50 670.80,336.48" fill="none" stroke="#A5609D" stroke-width="1.65" stroke-dasharray="7.2,5.8" stroke-linecap="round" stroke-linejoin="round"/>
<rect x="483.9" y="256.5" width="190.89999999999998" height="169.39999999999998" fill="none" stroke="#000" stroke-width="1.3"/>
<path d="M505.60,425.9v-2.8M505.60,256.5v2.8M542.20,425.9v-2.8M542.20,256.5v2.8M578.80,425.9v-2.8M578.80,256.5v2.8M615.40,425.9v-2.8M615.40,256.5v2.8M652.00,425.9v-2.8M652.00,256.5v2.8M487.30,425.9v-1.6M487.30,256.5v1.6M496.45,425.9v-1.6M496.45,256.5v1.6M514.75,425.9v-1.6M514.75,256.5v1.6M523.90,425.9v-1.6M523.90,256.5v1.6M533.05,425.9v-1.6M533.05,256.5v1.6M551.35,425.9v-1.6M551.35,256.5v1.6M560.50,425.9v-1.6M560.50,256.5v1.6M569.65,425.9v-1.6M569.65,256.5v1.6M587.95,425.9v-1.6M587.95,256.5v1.6M597.10,425.9v-1.6M597.10,256.5v1.6M606.25,425.9v-1.6M606.25,256.5v1.6M624.55,425.9v-1.6M624.55,256.5v1.6M633.70,425.9v-1.6M633.70,256.5v1.6M642.85,425.9v-1.6M642.85,256.5v1.6M661.15,425.9v-1.6M661.15,256.5v1.6M670.30,425.9v-1.6M670.30,256.5v1.6M483.9,417.00h2.8M674.8,417.00h-2.8M483.9,394.40h2.8M674.8,394.40h-2.8M483.9,371.80h2.8M674.8,371.80h-2.8M483.9,349.20h2.8M674.8,349.20h-2.8M483.9,326.60h2.8M674.8,326.60h-2.8M483.9,304.00h2.8M674.8,304.00h-2.8M483.9,281.40h2.8M674.8,281.40h-2.8M483.9,258.80h2.8M674.8,258.80h-2.8M483.9,426.04h1.6M674.8,426.04h-1.6M483.9,421.52h1.6M674.8,421.52h-1.6M483.9,412.48h1.6M674.8,412.48h-1.6M483.9,407.96h1.6M674.8,407.96h-1.6M483.9,403.44h1.6M674.8,403.44h-1.6M483.9,398.92h1.6M674.8,398.92h-1.6M483.9,389.88h1.6M674.8,389.88h-1.6M483.9,385.36h1.6M674.8,385.36h-1.6M483.9,380.84h1.6M674.8,380.84h-1.6M483.9,376.32h1.6M674.8,376.32h-1.6M483.9,367.28h1.6M674.8,367.28h-1.6M483.9,362.76h1.6M674.8,362.76h-1.6M483.9,358.24h1.6M674.8,358.24h-1.6M483.9,353.72h1.6M674.8,353.72h-1.6M483.9,344.68h1.6M674.8,344.68h-1.6M483.9,340.16h1.6M674.8,340.16h-1.6M483.9,335.64h1.6M674.8,335.64h-1.6M483.9,331.12h1.6M674.8,331.12h-1.6M483.9,322.08h1.6M674.8,322.08h-1.6M483.9,317.56h1.6M674.8,317.56h-1.6M483.9,313.04h1.6M674.8,313.04h-1.6M483.9,308.52h1.6M674.8,308.52h-1.6M483.9,299.48h1.6M674.8,299.48h-1.6M483.9,294.96h1.6M674.8,294.96h-1.6M483.9,290.44h1.6M674.8,290.44h-1.6M483.9,285.92h1.6M674.8,285.92h-1.6M483.9,276.88h1.6M674.8,276.88h-1.6M483.9,272.36h1.6M674.8,272.36h-1.6M483.9,267.84h1.6M674.8,267.84h-1.6M483.9,263.32h1.6M674.8,263.32h-1.6M483.9,254.28h1.6M674.8,254.28h-1.6" stroke="#000" stroke-width="0.9" fill="none"/>
<g font-weight="bold" font-size="12.2" fill="#111">
<text transform="translate(505.60,440.2) scale(0.8,1)" text-anchor="middle">-4</text>
<text transform="translate(542.20,440.2) scale(0.8,1)" text-anchor="middle">-2</text>
<text transform="translate(578.80,440.2) scale(0.8,1)" text-anchor="middle">0</text>
<text transform="translate(615.40,440.2) scale(0.8,1)" text-anchor="middle">2</text>
<text transform="translate(652.00,440.2) scale(0.8,1)" text-anchor="middle">4</text>
<text transform="translate(482.10,421.20) scale(0.8,1)" text-anchor="end">0</text>
<text transform="translate(482.10,398.60) scale(0.8,1)" text-anchor="end">1</text>
<text transform="translate(482.10,376.00) scale(0.8,1)" text-anchor="end">2</text>
<text transform="translate(482.10,353.40) scale(0.8,1)" text-anchor="end">3</text>
<text transform="translate(482.10,330.80) scale(0.8,1)" text-anchor="end">4</text>
<text transform="translate(482.10,308.20) scale(0.8,1)" text-anchor="end">5</text>
<text transform="translate(482.10,285.60) scale(0.8,1)" text-anchor="end">6</text>
<text transform="translate(482.10,263.00) scale(0.8,1)" text-anchor="end">7</text>
</g>
<text x="578.80" y="462" font-size="7" font-weight="bold" fill="#111" text-anchor="middle">x</text>
<text transform="translate(469.5,340.6) rotate(-90) scale(1.12,1)" font-size="7.6" font-weight="bold" fill="#111" text-anchor="middle"><tspan font-style="italic">U</tspan><tspan font-size="5.2" dy="1.5">9</tspan><tspan dy="-1.5">(x, t)</tspan></text>
</svg></body></html>
